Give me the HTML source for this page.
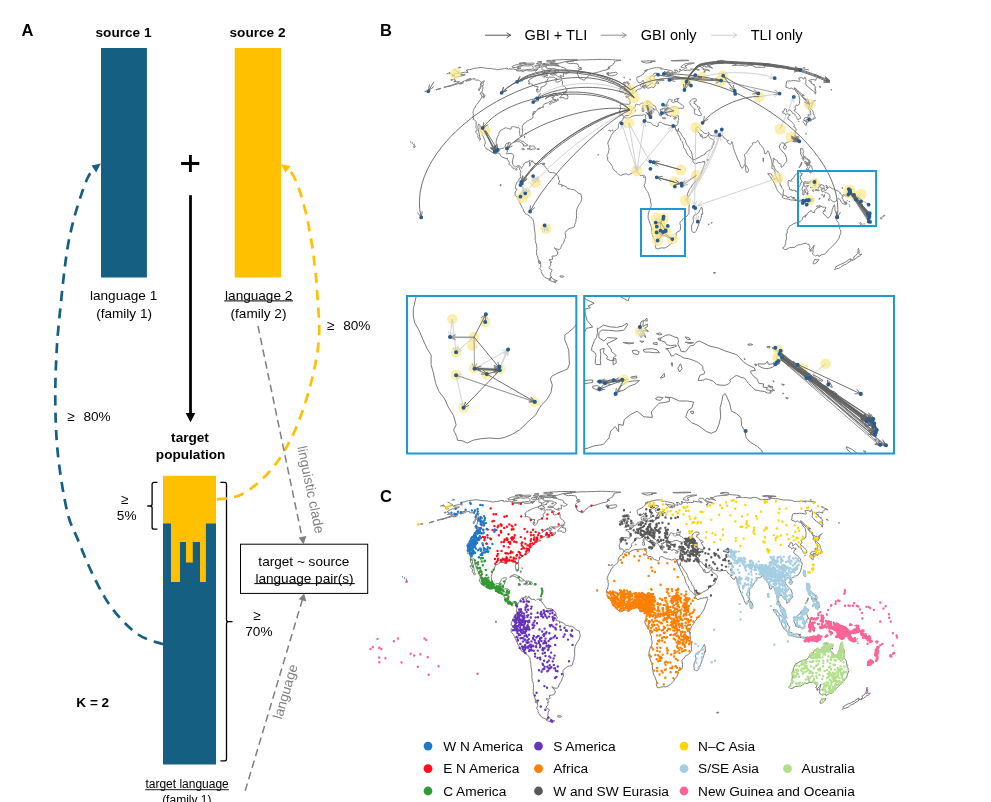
<!DOCTYPE html>
<html lang="en"><head><meta charset="utf-8"><title>Figure</title>
<style>
html,body{margin:0;padding:0;background:#fff}
body{width:991px;height:802px;overflow:hidden;position:relative;font-family:"Liberation Sans",sans-serif;color:#000}
svg{position:absolute;left:0;top:0}
text{font-family:"Liberation Sans",sans-serif;fill:#000}
.b{font-weight:bold}
.m{fill:none;stroke:#787878;stroke-width:1;stroke-linejoin:round;vector-effect:non-scaling-stroke}
.t13{font-size:13.6px}.t12{font-size:12px}.t16{font-size:16.5px}.t14{font-size:14.6px}.t136{font-size:13.7px}.t138{font-size:13.7px}
.mid{text-anchor:middle}
.g{fill:#7f7f7f}
</style></head><body>
<svg width="991" height="802" viewBox="0 0 991 802">
<defs>
<path id="world" d="M-8.1,-70.0 -7.2,-70.2 -6.0,-68.9 -4.0,-69.1 -2.7,-68.7 -0.8,-70.0 1.4,-71.2 4.2,-71.8 6.9,-71.8 9.4,-72.1 10.6,-72.0 12.2,-72.3 13.4,-72.7 14.9,-72.3 14.4,-71.1 14.5,-70.0 15.2,-68.9 14.8,-68.0 13.9,-66.5 15.3,-66.0 17.1,-64.5 18.3,-64.7 19.7,-64.3 21.0,-63.8 21.9,-62.1 23.2,-61.5 24.9,-61.0 26.7,-59.9 28.0,-60.8 28.0,-63.2 29.0,-64.3 30.1,-64.7 31.4,-64.5 32.3,-63.4 33.4,-63.2 35.2,-62.3 38.0,-61.9 40.5,-61.0 41.8,-61.5 43.3,-62.3 45.2,-61.7 45.7,-59.3 46.2,-57.4 48.1,-54.0 49.2,-51.7 50.1,-50.0 51.2,-47.7 51.6,-45.9 53.1,-44.4 53.9,-42.0 54.4,-39.3 54.8,-37.7 55.8,-36.7 56.7,-35.4 57.8,-32.6 58.3,-31.4 59.5,-30.0 61.2,-28.2 62.9,-26.6 63.9,-25.6 64.4,-25.0 64.2,-23.4 64.8,-23.0 66.1,-21.2 67.1,-21.0 68.6,-21.8 70.0,-22.4 71.8,-22.6 73.3,-22.8 74.9,-23.4 76.4,-23.8 76.2,-22.2 76.7,-21.0 75.9,-19.2 75.1,-16.8 74.6,-15.8 73.6,-12.7 72.8,-10.7 71.5,-8.7 70.0,-6.5 68.1,-4.1 66.2,-2.0 65.0,-0.4 63.9,0.8 62.5,3.2 61.5,4.7 60.4,5.7 60.3,6.5 59.6,8.3 58.8,9.7 58.7,10.3 58.2,12.3 58.9,13.8 59.1,16.2 58.8,17.4 59.3,20.2 60.0,20.8 60.5,21.6 60.3,23.8 60.2,26.2 60.3,29.2 60.2,30.6 58.9,32.6 57.3,34.4 55.6,35.2 54.2,36.0 53.2,37.7 51.6,39.3 50.8,39.9 50.7,41.3 51.2,43.0 51.4,44.2 51.2,47.7 50.6,49.0 48.2,50.2 47.0,50.9 46.6,51.7 46.9,53.2 46.4,55.1 45.4,57.0 44.1,58.4 43.6,59.1 42.4,61.2 41.2,62.3 39.5,64.1 38.7,64.9 37.0,66.0 35.4,66.7 34.2,67.1 32.3,66.9 30.5,67.1 28.8,67.4 27.5,68.2 26.6,67.6 25.5,67.4 25.4,66.5 24.8,64.9 25.5,63.6 25.1,61.2 24.1,58.9 23.4,56.7 22.3,55.0 21.7,52.9 21.4,50.4 20.9,47.9 21.0,45.4 20.2,43.6 19.4,41.3 18.6,38.7 17.6,36.5 17.4,34.8 17.4,32.8 17.9,30.6 18.4,28.2 19.2,26.2 20.1,25.0 20.6,22.6 20.6,21.0 19.7,18.8 19.7,17.8 20.1,16.6 19.3,14.6 18.4,12.3 18.3,11.3 17.7,9.7 16.7,7.9 15.9,6.9 14.6,4.9 14.0,3.4 13.1,1.4 14.1,-0.6 14.4,-2.0 14.7,-3.8 14.9,-5.9 14.4,-7.7 13.5,-8.9 12.5,-9.3 10.5,-8.9 9.2,-8.7 8.1,-10.5 6.7,-12.5 5.1,-13.0 3.6,-12.7 1.8,-12.3 0.9,-11.7 -0.3,-11.1 -1.7,-10.3 -3.2,-9.5 -4.5,-10.3 -6.0,-10.7 -7.5,-10.3 -9.0,-9.9 -11.3,-8.9 -11.6,-8.9 -13.5,-10.1 -15.0,-11.7 -16.2,-12.7 -17.2,-14.0 -18.7,-15.0 -19.5,-16.2 -19.9,-17.2 -19.7,-18.4 -20.5,-19.2 -21.8,-21.2 -22.5,-22.2 -24.1,-23.6 -24.8,-24.8 -25.0,-26.2 -24.8,-27.2 -25.5,-29.2 -25.9,-29.6 -25.1,-30.8 -24.4,-32.2 -24.0,-34.2 -23.5,-36.3 -23.7,-38.1 -24.1,-38.9 -23.8,-40.7 -24.9,-41.6 -24.7,-43.2 -23.9,-45.2 -22.9,-47.3 -21.9,-49.0 -21.2,-50.8 -20.7,-51.9 -19.4,-53.2 -18.8,-54.6 -18.3,-55.3 -16.3,-56.3 -14.4,-58.2 -13.6,-59.7 -13.7,-61.2 -13.7,-62.1 -12.9,-63.6 -11.8,-65.4 -10.5,-66.0 -9.4,-66.7 -8.5,-68.9 -8.1,-70.0M73.4,24.2 74.1,26.2 74.4,28.6 74.6,31.0 74.2,32.0 73.4,31.2 73.4,33.2 72.8,35.2 72.5,36.3 71.5,39.1 70.6,41.6 69.6,44.4 68.7,46.9 67.9,49.2 66.9,50.2 65.2,50.8 64.3,50.4 63.2,49.6 62.9,47.5 62.9,45.7 62.9,43.8 63.5,42.2 64.6,40.7 64.9,39.1 64.7,37.3 64.5,35.4 65.5,32.8 66.9,32.2 68.4,31.6 69.5,30.6 70.6,29.6 71.2,27.6 72.3,26.6 72.7,25.0 73.4,24.2M45.9,-59.3 45.6,-61.5 47.3,-61.4 48.0,-62.1 48.5,-63.2 48.6,-64.5 49.0,-66.5 49.4,-67.8 49.0,-69.4 49.2,-71.4 48.3,-71.4 47.0,-71.8 46.2,-70.9 44.8,-70.3 43.5,-71.2 41.7,-72.0 41.4,-70.9 40.3,-70.7 39.6,-71.6 38.4,-71.8 37.2,-72.1 36.9,-73.8 36.1,-74.6 35.4,-74.5 36.0,-75.4 35.7,-76.2 34.9,-76.6 35.1,-77.5 34.9,-77.6 35.6,-78.5 34.3,-78.9 32.3,-79.0 31.6,-78.3 32.4,-77.7 31.5,-77.8 31.2,-77.4 30.4,-78.3 30.1,-77.5 30.8,-76.2 30.7,-75.5 31.7,-74.8 32.4,-74.3 32.4,-73.4 31.9,-73.8 31.0,-73.8 31.7,-73.0 30.8,-73.0 31.4,-71.2 30.6,-71.1 30.0,-72.1 29.5,-71.8 28.8,-73.2 29.2,-74.3 28.5,-74.5 27.8,-75.7 27.0,-76.6 26.7,-77.3 25.8,-78.2 25.6,-79.7 25.1,-81.1 23.7,-82.0 22.6,-82.8 21.4,-83.5 19.7,-84.5 19.1,-86.0 18.5,-86.5 17.9,-85.7 17.5,-86.7 17.7,-87.0 15.8,-86.7 16.1,-85.9 15.9,-85.0 16.4,-84.3 17.6,-83.7 18.6,-81.8 19.7,-80.8 21.3,-80.8 21.0,-80.1 22.4,-79.4 23.9,-78.5 24.6,-77.6 24.5,-77.1 23.8,-78.0 22.9,-78.3 22.2,-76.9 23.0,-75.9 22.2,-74.6 21.7,-73.8 21.1,-73.9 21.3,-75.2 21.7,-75.7 21.4,-76.4 20.8,-77.5 19.6,-78.7 18.8,-78.9 18.0,-79.6 16.6,-79.9 15.5,-81.1 14.6,-81.6 13.7,-82.5 13.4,-83.5 12.7,-84.5 11.5,-85.0 10.6,-84.3 9.5,-83.8 8.6,-83.0 7.7,-82.8 7.0,-83.2 6.0,-83.3 5.1,-83.5 4.0,-82.8 3.9,-82.1 4.3,-81.4 2.9,-79.9 1.6,-79.4 1.1,-78.7 0.0,-77.5 -0.4,-76.6 0.3,-75.2 -0.7,-74.5 -1.4,-73.2 -3.0,-71.6 -4.8,-71.6 -6.0,-71.6 -7.2,-70.5 -7.6,-70.3 -8.6,-71.2 -9.4,-72.5 -10.7,-72.1 -12.2,-72.1 -11.9,-73.9 -12.8,-75.4 -12.6,-76.4 -11.9,-77.6 -11.5,-79.4 -11.7,-81.3 -12.2,-82.5 -10.9,-83.3 -10.0,-84.0 -7.4,-83.7 -4.9,-83.5 -2.6,-83.2 -1.8,-83.7 -1.5,-85.5 -1.4,-87.0 -1.5,-88.0 -2.3,-88.5 -2.8,-89.8 -4.3,-90.5 -5.9,-91.0 -6.0,-91.6 -5.0,-92.1 -3.4,-91.9 -1.9,-91.9 -2.0,-92.9 -2.4,-93.7 -1.6,-93.7 -1.4,-93.1 -0.4,-93.0 0.1,-93.4 1.4,-94.0 2.0,-95.3 2.3,-95.7 3.6,-96.0 4.4,-96.3 4.9,-97.3 5.7,-98.6 6.5,-99.1 7.5,-99.4 8.4,-99.4 9.6,-99.9 10.4,-100.2 10.6,-101.0 10.0,-101.6 9.8,-102.5 9.5,-103.2 9.6,-104.2 10.0,-104.8 11.2,-105.1 11.6,-105.5 12.3,-105.7 12.2,-105.1 12.0,-104.4 12.8,-103.8 12.0,-103.4 11.6,-102.5 11.3,-101.5 12.1,-100.9 13.3,-100.9 13.1,-100.3 14.5,-100.6 14.9,-101.0 16.0,-101.3 16.4,-100.6 17.2,-100.2 18.7,-100.6 20.2,-101.2 20.9,-101.5 21.9,-101.5 22.3,-100.9 23.4,-101.0 23.7,-101.7 24.9,-102.8 24.6,-104.0 25.0,-105.2 26.2,-105.7 27.1,-104.8 28.0,-104.7 28.3,-105.2 28.2,-106.6 27.0,-106.9 26.9,-107.5 27.3,-108.0 28.2,-108.2 29.6,-108.3 31.9,-108.2 32.9,-108.7 34.2,-108.7 32.7,-109.5 32.3,-109.8 30.3,-109.5 28.3,-109.1 26.1,-108.6 25.0,-109.4 24.0,-110.3 24.0,-110.9 23.4,-112.0 23.6,-112.9 25.2,-113.7 26.5,-114.7 27.3,-115.2 27.0,-115.8 25.7,-116.1 23.7,-115.9 23.1,-115.5 23.0,-114.8 22.3,-113.6 20.6,-113.1 19.9,-112.2 19.2,-112.0 19.2,-111.1 19.3,-109.8 20.9,-109.2 21.5,-108.6 20.9,-107.9 20.5,-107.3 19.2,-106.9 19.3,-105.8 19.2,-104.2 18.8,-103.5 18.3,-103.4 17.0,-102.7 16.3,-102.4 15.4,-102.4 15.2,-102.8 14.9,-103.3 14.7,-103.7 15.0,-104.2 13.9,-105.4 13.4,-106.2 12.8,-107.3 12.4,-107.7 12.1,-108.7 11.9,-107.9 11.4,-107.5 10.3,-106.8 9.2,-106.2 8.1,-106.1 6.9,-106.6 6.4,-107.5 5.9,-108.0 5.6,-109.4 5.5,-110.2 5.6,-110.9 5.7,-111.7 6.7,-112.1 8.5,-112.9 10.4,-113.7 11.4,-114.6 12.1,-115.1 13.1,-115.8 13.4,-116.4 13.7,-117.3 15.1,-117.9 16.2,-118.6 16.6,-119.1 17.1,-119.5 18.0,-120.0 19.4,-120.5 20.9,-120.9 22.4,-121.2 24.0,-121.6 26.0,-121.8 27.9,-121.8 29.4,-121.7 31.6,-121.2 30.4,-120.9 30.7,-120.4 32.0,-120.3 33.2,-120.6 34.4,-120.0 36.1,-119.9 38.8,-119.3 41.3,-118.7 43.2,-117.9 43.5,-117.3 42.5,-116.6 41.0,-116.4 39.2,-116.7 36.3,-117.2 34.1,-117.6 35.5,-116.8 37.4,-115.2 37.6,-114.6 39.7,-114.0 41.5,-113.9 40.6,-114.5 39.2,-115.3 40.9,-115.1 43.0,-114.7 43.8,-114.7 42.8,-115.8 44.5,-116.8 47.1,-116.4 46.6,-117.0 46.0,-117.7 45.9,-118.6 44.8,-119.3 47.6,-119.1 48.3,-118.4 47.8,-117.7 49.1,-117.3 50.3,-117.4 50.2,-118.2 52.7,-119.1 54.7,-119.6 56.1,-119.0 55.9,-118.4 57.0,-119.2 59.3,-119.3 61.2,-119.1 62.1,-119.4 62.7,-119.8 61.9,-120.5 63.1,-120.5 66.3,-120.0 68.6,-119.7 70.7,-119.0 71.2,-119.6 68.9,-120.3 67.8,-121.4 67.3,-121.9 68.4,-122.7 68.6,-123.5 70.8,-123.5 72.2,-123.4 73.1,-121.9 74.3,-120.7 76.4,-119.2 76.4,-117.5 75.2,-117.0 76.4,-116.7 77.1,-118.0 77.7,-119.0 79.1,-119.5 81.7,-118.2 81.6,-119.0 78.2,-119.9 75.5,-120.7 74.5,-121.8 74.8,-122.7 76.1,-123.5 77.9,-123.0 77.8,-122.2 79.4,-122.7 80.9,-122.7 83.5,-121.8 84.7,-121.1 84.0,-122.2 81.0,-123.2 79.2,-124.1 82.4,-124.3 84.3,-125.3 86.8,-125.8 91.1,-126.2 93.8,-126.4 96.1,-126.5 98.6,-127.4 101.8,-126.9 105.9,-126.7 109.1,-126.1 109.6,-125.3 107.5,-124.7 105.5,-123.9 107.6,-124.2 110.6,-124.4 111.9,-123.9 113.0,-124.2 116.0,-124.2 118.5,-123.6 121.6,-123.6 121.4,-124.2 124.0,-124.4 127.6,-123.6 129.4,-122.7 129.2,-122.4 131.3,-121.8 132.3,-122.4 134.7,-122.1 136.5,-122.3 138.3,-122.1 139.6,-122.2 139.3,-123.1 139.7,-123.5 141.9,-123.4 145.3,-123.1 148.1,-122.9 150.7,-122.2 153.6,-121.7 156.5,-121.8 161.2,-121.4 163.6,-120.5 165.2,-120.2 166.3,-120.4 168.6,-120.3 171.4,-120.7 174.2,-120.3 175.7,-119.6 174.6,-120.4 174.5,-120.7 176.9,-120.5 180.2,-120.4 185.2,-119.6 186.0,-119.5M-186.0,-119.5 -184.2,-119.1 -183.2,-118.2 -182.1,-117.6 -180.9,-117.1 -180.5,-116.5 -182.3,-115.9 -185.3,-115.2 -186.8,-114.5 -187.8,-114.4 -188.4,-114.8 -188.6,-115.7 -191.1,-115.8 -190.0,-116.7 -193.5,-115.3M193.5,-115.3 192.9,-114.7 191.6,-114.8 192.4,-114.3 195.1,-113.4 198.4,-111.8 195.5,-112.1 194.1,-111.2 193.1,-110.0 193.2,-108.7 189.4,-109.5 187.7,-109.1 187.1,-108.7 185.6,-108.6 186.2,-107.7 188.6,-106.1 188.0,-105.7 191.9,-103.5 190.9,-103.5 192.5,-101.8 193.1,-101.0 191.8,-100.3 193.2,-99.1 191.9,-98.8 193.1,-97.3 192.9,-95.6 190.4,-97.3 186.5,-100.3 183.2,-103.2 181.9,-105.4 182.5,-106.1 182.7,-107.5 182.7,-109.4 181.9,-110.8 181.7,-112.1 181.0,-111.1 180.5,-109.8 178.4,-111.3 176.9,-111.2 174.9,-110.8 176.6,-108.0 176.0,-107.6 174.9,-107.6 171.7,-108.2 169.5,-108.3 166.5,-107.9 163.1,-107.9 162.5,-107.5 162.2,-105.7 161.8,-104.4 161.9,-102.7 161.3,-101.5 164.1,-100.5 165.5,-99.7 167.3,-100.6 169.2,-99.3 170.6,-99.3 170.8,-98.8 172.1,-97.6 172.5,-96.5 174.3,-94.2 175.4,-92.6 175.8,-90.1 176.2,-88.2 175.9,-86.0 175.9,-84.3 174.6,-82.5 173.9,-82.3 172.3,-82.8 171.9,-82.0 171.6,-81.4 171.0,-80.6 171.9,-79.0 171.3,-77.5 170.3,-77.1 170.8,-76.1 172.6,-75.0 174.1,-73.6 175.6,-72.1 176.7,-70.3 177.1,-69.4 177.0,-68.7 175.8,-68.2 175.5,-68.0 174.2,-67.3 173.5,-68.2 173.0,-69.6 172.8,-70.3 171.3,-71.8 171.4,-72.9 170.4,-73.4 169.6,-73.9 168.4,-74.1 168.2,-75.2 167.5,-76.4 165.8,-77.5 164.3,-76.8 163.2,-75.5 162.7,-75.2 162.6,-76.6 162.1,-78.3 160.4,-78.9 159.8,-77.3 159.4,-76.1 158.0,-75.7 158.3,-74.6 160.4,-73.9 161.1,-73.4 161.3,-72.5 162.4,-72.5 163.0,-73.6 164.2,-73.2 165.8,-72.9 166.2,-72.0 164.6,-71.4 164.1,-70.5 163.6,-68.7 163.7,-68.2 165.9,-66.7 167.6,-64.9 169.7,-63.0 170.1,-62.5 170.7,-61.2 169.7,-60.0 171.5,-59.1 172.1,-57.8 172.3,-56.1 171.6,-55.3 171.4,-53.6 171.1,-52.1 170.7,-50.2 170.0,-48.8 168.7,-46.5 166.9,-45.4 165.6,-44.6 164.6,-44.4 162.7,-43.4 161.4,-42.8 160.6,-42.4 160.9,-40.7 160.1,-40.9 159.6,-42.8 158.6,-43.0 157.4,-43.2 155.8,-41.8 155.5,-40.7 154.7,-39.7 155.1,-37.5 156.5,-35.8 158.6,-33.4 159.8,-32.4 161.0,-30.8 162.1,-27.8 162.5,-26.0 162.5,-24.0 162.3,-23.2 161.1,-22.0 159.8,-20.8 159.4,-19.2 158.4,-18.6 156.7,-17.4 156.6,-19.2 156.9,-20.2 155.9,-21.0 154.4,-21.4 153.4,-22.8 152.7,-24.2 151.8,-25.2 150.6,-25.4 150.0,-25.4 149.9,-26.2 149.1,-27.2 148.4,-26.8 148.6,-25.4 148.6,-23.8 148.0,-21.2 148.4,-18.6 149.3,-18.8 149.7,-17.0 150.7,-14.6 151.8,-14.0 152.6,-13.0 153.2,-12.5 154.7,-10.7 155.3,-7.7 155.5,-5.5 156.7,-2.8 156.1,-2.6 155.6,-2.6 153.6,-4.5 152.2,-6.1 151.2,-8.3 150.5,-10.9 150.4,-12.3 149.9,-13.4 149.0,-15.0 148.0,-16.2 147.1,-16.0 147.0,-17.8 147.2,-20.2 147.0,-22.2 146.6,-25.0 145.4,-28.2 144.6,-30.6 143.9,-33.2 142.5,-34.8 141.9,-33.2 140.9,-31.8 139.6,-32.0 139.2,-32.2 139.0,-34.8 138.3,-37.1 137.1,-38.9 135.6,-40.3 134.4,-41.8 133.8,-42.8 133.1,-44.6 132.3,-45.5 131.5,-45.0 131.0,-44.0 130.0,-43.6 129.2,-43.2 128.0,-43.2 126.5,-42.8 126.6,-41.5 126.5,-40.7 125.4,-39.7 124.3,-38.5 122.4,-35.6 121.2,-34.0 121.3,-33.4 120.5,-32.8 119.8,-32.6 119.4,-31.8 118.4,-30.8 118.6,-29.0 119.2,-26.4 118.8,-24.0 119.1,-21.8 119.2,-20.8 118.3,-20.8 117.8,-19.6 118.2,-18.8 116.9,-17.8 116.0,-16.4 115.0,-17.2 113.7,-20.2 112.9,-22.8 111.1,-26.0 109.7,-29.8 109.1,-31.0 107.9,-34.2 106.6,-38.1 106.2,-40.9 105.8,-42.2 105.1,-44.4 104.8,-43.6 104.1,-41.8 103.5,-41.5 102.5,-41.8 101.1,-43.2 100.1,-44.4 100.1,-45.0 101.7,-45.7 100.4,-45.5 99.1,-46.5 98.4,-47.3 97.1,-47.9 96.3,-49.4 95.5,-50.6 92.7,-50.2 91.1,-50.4 89.4,-50.0 88.6,-50.0 86.9,-50.4 84.7,-50.6 82.8,-50.9 81.3,-53.0 81.0,-53.8 80.1,-54.0 79.3,-53.2 78.3,-52.9 76.2,-53.0 74.8,-54.6 74.0,-55.1 71.8,-57.2 70.6,-59.1 69.7,-59.5 68.8,-60.0 68.4,-59.1 67.7,-58.2 68.5,-56.5 69.4,-54.8 70.8,-53.6 71.7,-52.5 71.9,-51.1 73.0,-49.4 72.8,-50.8 73.2,-51.9 73.9,-50.9 74.2,-49.0 73.9,-48.4 75.6,-48.3 78.3,-48.8 79.3,-50.4 80.2,-51.3 80.6,-52.5 80.8,-50.9 81.0,-50.0 81.6,-48.6 83.2,-47.5 84.6,-47.1 86.6,-45.0 86.2,-42.8 85.5,-40.9 84.3,-39.5 84.5,-37.9 82.7,-36.0 81.2,-35.2 79.6,-34.2 78.1,-33.4 77.1,-31.4 75.4,-30.4 72.7,-29.2 71.2,-28.2 69.0,-27.0 66.9,-25.8 64.6,-25.6 64.1,-26.8 63.5,-29.8 63.2,-31.6 62.6,-34.0 60.9,-36.1 60.2,-38.3 58.4,-40.5 57.0,-43.0 56.4,-45.5 54.9,-48.1 53.4,-49.8 52.2,-52.1 50.8,-54.2 49.7,-55.5 49.1,-55.7 49.3,-58.4 49.0,-57.4 48.8,-56.5 48.7,-55.1 47.6,-55.9 47.0,-56.7 46.1,-58.5 45.9,-59.3M38.4,-79.6 36.9,-80.8 36.5,-82.1 36.1,-81.8 36.4,-83.0 37.2,-83.5 37.1,-84.7 38.1,-86.0 38.2,-86.5 38.7,-87.4 39.1,-88.5 40.1,-88.7 40.8,-88.2 42.2,-87.9 43.0,-87.9 41.8,-86.7 43.2,-85.4 43.7,-85.0 45.2,-86.0 46.8,-86.4 47.0,-86.7 45.7,-86.5 44.9,-87.2 44.8,-88.2 46.5,-88.8 47.6,-89.4 48.6,-89.5 49.7,-89.7 49.1,-88.8 48.1,-88.7 48.8,-87.9 48.1,-86.5 47.1,-86.4 48.1,-86.0 48.8,-85.5 50.6,-84.5 51.7,-83.7 52.6,-82.8 53.6,-82.5 54.6,-81.6 54.9,-80.2 54.2,-79.6 53.0,-79.2 51.6,-79.4 50.3,-79.2 48.9,-79.6 48.0,-79.7 46.3,-80.9 44.7,-80.8 43.8,-80.9 42.2,-80.2 41.4,-79.4 39.7,-79.4 38.4,-79.6M67.0,-73.0 68.1,-72.9 70.0,-71.8 71.4,-71.6 73.2,-72.0 73.1,-72.9 72.4,-74.8 71.3,-76.2 71.4,-76.9 70.4,-77.5 70.3,-78.7 71.6,-78.9 72.3,-79.6 70.3,-81.1 69.4,-80.2 68.8,-82.0 67.6,-83.0 66.5,-84.0 65.1,-84.8 66.2,-85.4 65.6,-86.4 67.7,-86.7 68.0,-88.0 67.4,-89.2 66.0,-89.3 64.8,-89.3 63.4,-88.7 62.6,-88.0 61.9,-87.4 61.1,-86.0 60.5,-85.4 61.6,-84.0 62.1,-82.6 63.5,-80.9 64.6,-79.9 65.7,-78.5 66.9,-78.2 65.9,-77.8 65.9,-76.1 65.8,-74.6 66.2,-73.4 67.0,-73.0M35.5,-78.2 36.4,-79.0 38.3,-79.2 39.1,-78.8 38.5,-78.2 37.0,-78.2 35.5,-78.2M-157.5,-122.0 -154.6,-121.7 -152.8,-121.3 -151.1,-121.1 -148.7,-121.0 -146.4,-120.9 -144.5,-120.3 -142.4,-120.3 -141.3,-119.7 -139.6,-119.8 -137.8,-120.3 -136.6,-120.1 -133.0,-120.9 -129.8,-121.4 -129.9,-120.3 -128.7,-120.1 -127.0,-121.0 -126.8,-120.1 -123.7,-120.5 -120.8,-119.6 -120.2,-118.4 -117.0,-118.4 -114.3,-118.5 -114.1,-117.4 -112.2,-118.5 -109.6,-119.5 -108.9,-118.6 -106.5,-118.4 -103.4,-118.4 -101.4,-119.2 -100.7,-118.0 -99.0,-119.2 -98.8,-120.2 -97.4,-121.5 -94.5,-122.7 -93.7,-121.9 -93.7,-121.0 -93.8,-120.0 -93.3,-119.2 -91.3,-119.4 -91.4,-117.9 -89.6,-118.6 -88.0,-119.7 -86.9,-120.5 -84.2,-120.5 -83.7,-119.9 -84.5,-119.2 -86.5,-118.1 -85.7,-117.5 -88.6,-116.7 -90.2,-116.7 -91.4,-117.0 -91.9,-116.0 -93.3,-115.5 -95.0,-114.6 -97.3,-114.0 -99.2,-113.2 -101.3,-112.5 -102.6,-111.7 -105.3,-110.3 -107.4,-108.8 -108.1,-107.5 -106.7,-107.1 -107.9,-104.7 -105.8,-105.1 -103.9,-104.5 -103.1,-103.2 -100.8,-102.2 -97.7,-101.9 -98.5,-100.3 -99.6,-98.6 -99.3,-97.6 -98.8,-96.2 -97.2,-96.3 -95.7,-98.0 -94.8,-100.0 -95.0,-101.2 -92.2,-102.2 -89.9,-103.7 -89.1,-105.0 -89.8,-106.8 -89.4,-107.7 -87.6,-108.8 -87.9,-109.9 -86.6,-111.1 -86.1,-112.0 -83.8,-111.7 -81.5,-112.0 -80.1,-110.9 -78.0,-110.3 -78.8,-108.8 -79.4,-107.5 -78.4,-106.4 -75.7,-107.2 -74.0,-108.2 -72.7,-109.4 -72.9,-108.2 -72.3,-107.1 -72.3,-104.0 -71.2,-102.5 -70.0,-101.9 -68.7,-100.6 -68.5,-99.9 -67.5,-98.8 -67.7,-97.7 -70.0,-96.3 -72.0,-96.0 -74.2,-94.6 -76.5,-94.5 -78.8,-94.5 -82.2,-94.5 -84.1,-93.0 -85.1,-92.9 -87.8,-91.1 -90.6,-89.0 -87.7,-90.6 -86.1,-91.6 -84.5,-92.2 -81.8,-92.9 -80.4,-92.2 -80.6,-91.8 -82.5,-91.0 -83.6,-91.1 -82.9,-90.3 -81.7,-90.6 -82.5,-89.5 -82.3,-88.2 -81.6,-87.9 -80.4,-87.2 -79.3,-87.5 -78.8,-87.0 -78.6,-87.9 -77.7,-88.7 -76.8,-89.3 -76.8,-88.7 -76.9,-88.0 -76.5,-87.7 -78.0,-87.0 -78.4,-86.5 -79.9,-86.0 -82.2,-85.4 -83.7,-84.3 -85.5,-83.3 -85.9,-84.0 -85.0,-85.4 -82.8,-86.5 -83.1,-87.0 -85.0,-86.5 -86.3,-86.2 -86.9,-85.4 -88.3,-84.8 -89.5,-84.5 -91.4,-83.7 -92.3,-82.8 -92.5,-82.1 -93.2,-81.4 -92.9,-80.8 -92.3,-80.4 -92.3,-81.1 -92.2,-80.4 -93.2,-80.1 -94.1,-80.1 -95.0,-79.7 -96.4,-79.7 -97.7,-79.0 -98.2,-78.5 -98.4,-78.2 -99.5,-76.4 -100.5,-75.5 -100.9,-76.4 -100.8,-75.4 -101.1,-74.5 -102.3,-73.0 -103.1,-72.3 -102.5,-73.9 -102.0,-76.2 -103.0,-74.5 -103.5,-72.1 -103.2,-72.0 -103.3,-70.7 -103.5,-68.9 -105.2,-67.8 -106.7,-67.3 -107.6,-66.5 -109.0,-66.2 -109.7,-65.2 -110.9,-64.3 -112.9,-63.0 -114.0,-61.2 -114.3,-59.9 -114.4,-59.1 -114.3,-57.8 -114.2,-56.3 -114.2,-54.6 -114.1,-53.0 -114.7,-51.3 -115.4,-50.2 -116.4,-50.0 -117.0,-51.7 -117.0,-52.9 -117.5,-54.4 -117.4,-55.9 -116.9,-57.0 -117.2,-57.6 -117.8,-59.1 -118.4,-59.5 -119.7,-58.7 -120.3,-58.7 -120.5,-59.5 -122.5,-59.9 -123.6,-59.9 -124.8,-60.0 -125.9,-59.7 -125.9,-58.9 -126.0,-57.6 -127.1,-57.6 -128.4,-57.6 -128.9,-58.2 -130.1,-58.4 -131.3,-58.9 -132.2,-58.7 -133.8,-58.0 -134.7,-57.2 -136.2,-56.5 -138.0,-55.1 -138.9,-53.2 -139.0,-51.7 -140.1,-49.8 -141.0,-47.5 -141.8,-44.6 -141.6,-42.0 -141.5,-40.9 -140.6,-38.5 -140.4,-37.7 -138.5,-36.5 -137.1,-36.9 -135.8,-37.3 -134.6,-37.3 -133.6,-38.1 -132.7,-38.9 -132.2,-39.7 -131.6,-41.8 -130.5,-42.6 -128.2,-43.2 -126.6,-43.2 -126.3,-42.4 -127.5,-40.5 -128.0,-38.7 -128.8,-36.7 -129.7,-35.2 -130.2,-33.2 -131.0,-32.2 -130.8,-31.6 -129.8,-31.8 -128.2,-31.8 -126.9,-32.0 -125.1,-31.8 -123.1,-30.2 -123.6,-28.2 -124.2,-26.0 -124.5,-24.2 -124.8,-22.0 -123.9,-20.2 -123.1,-19.0 -122.4,-18.2 -121.4,-17.8 -120.6,-18.2 -119.4,-19.0 -118.9,-19.4 -117.9,-19.2 -116.4,-18.2 -115.8,-17.4 -115.1,-16.2 -114.9,-17.4 -114.1,-18.0 -113.1,-19.2 -112.6,-21.0 -111.5,-22.4 -110.5,-22.8 -108.6,-23.2 -106.6,-25.0 -105.9,-24.2 -107.1,-23.4 -106.7,-22.0 -106.4,-20.6 -107.0,-18.8 -106.1,-19.0 -106.3,-21.4 -105.8,-22.2 -104.6,-23.0 -104.4,-24.4 -103.8,-24.4 -103.8,-23.2 -102.2,-22.8 -101.4,-21.2 -99.8,-21.4 -98.6,-21.4 -97.3,-20.4 -96.6,-20.4 -95.8,-21.2 -94.7,-21.5 -93.2,-21.6 -92.3,-21.6 -93.4,-20.6 -92.0,-20.0 -91.0,-19.0 -89.7,-17.2 -87.8,-15.0 -87.2,-13.8 -85.8,-12.1 -82.8,-11.9 -81.0,-11.7 -78.5,-9.9 -77.5,-8.7 -76.8,-7.9 -76.2,-4.5 -75.2,-3.4 -75.6,-2.0 -76.7,0.0 -75.8,0.2 -74.4,0.4 -72.8,0.6 -72.9,2.8 -72.0,1.4 -70.1,2.0 -68.1,3.0 -66.6,5.1 -65.2,4.9 -62.8,5.9 -60.9,5.7 -59.4,6.5 -57.8,7.5 -56.0,9.5 -54.0,10.3 -53.1,10.3 -52.8,11.7 -52.1,14.4 -52.2,16.4 -53.3,19.6 -55.2,22.0 -55.8,23.2 -57.2,26.2 -57.7,29.8 -57.6,33.0 -57.6,35.6 -58.2,37.3 -58.2,39.3 -58.8,40.7 -59.5,42.6 -59.5,44.0 -60.8,45.7 -62.5,45.9 -64.5,46.3 -66.7,47.9 -68.3,49.2 -69.5,50.8 -69.4,52.7 -68.9,54.8 -69.0,56.5 -70.1,58.0 -70.6,60.2 -71.5,62.1 -72.6,63.2 -73.8,66.2 -74.1,67.4 -75.3,68.4 -77.2,68.4 -79.5,67.6 -80.6,66.7 -80.3,67.8 -78.4,69.1 -78.2,70.3 -77.2,71.1 -77.6,73.9 -78.9,75.0 -81.2,75.5 -83.3,75.5 -82.8,77.5 -82.6,78.9 -84.4,79.4 -86.1,78.9 -85.9,80.1 -84.1,81.3 -83.3,82.0 -84.1,82.5 -85.1,82.3 -84.8,83.2 -84.5,85.2 -84.8,85.7 -85.6,86.2 -86.4,87.5 -86.0,88.5 -84.4,89.3 -83.4,89.7 -83.2,90.6 -84.4,92.6 -84.4,93.0 -84.6,94.3 -84.9,95.7 -84.5,96.7 -83.2,97.7 -84.6,97.7 -85.8,98.5 -85.2,99.9 -85.9,100.0 -87.4,99.4 -89.0,98.6 -90.7,97.9 -91.9,96.5 -93.5,94.2 -94.8,91.8 -94.0,91.0 -96.2,88.8 -95.5,87.4 -94.9,86.0 -95.1,84.3 -95.1,82.6 -95.5,81.3 -96.4,80.1 -97.2,80.2 -97.9,78.3 -97.9,77.1 -98.9,74.8 -99.6,73.2 -99.3,71.8 -99.5,70.0 -99.2,69.1 -99.1,67.4 -99.3,64.9 -99.6,63.0 -100.6,60.4 -100.4,59.2 -101.0,57.4 -100.8,56.5 -100.8,53.8 -100.9,52.3 -101.1,50.6 -101.6,47.1 -101.9,46.1 -101.8,44.2 -102.4,40.5 -103.1,37.1 -104.9,35.4 -106.0,34.2 -107.1,33.4 -109.2,32.0 -111.1,31.0 -113.1,28.0 -113.1,27.0 -114.0,25.4 -114.8,24.3 -115.6,22.4 -116.6,20.4 -117.5,18.4 -118.3,16.4 -119.2,15.0 -119.7,13.8 -121.0,12.5 -121.6,11.9 -121.7,10.5 -122.1,9.5 -121.6,8.3 -120.9,7.1 -120.2,6.5 -120.1,5.1 -120.8,5.3 -121.8,4.5 -121.5,2.6 -121.3,1.9 -121.0,0.8 -120.4,0.0 -120.3,-1.6 -119.8,-2.0 -118.6,-2.8 -118.5,-3.6 -117.8,-5.1 -116.8,-5.5 -116.0,-7.7 -116.4,-9.1 -116.4,-11.1 -115.9,-12.1 -116.1,-13.8 -116.7,-14.6 -117.2,-15.4 -117.0,-16.8 -117.4,-17.2 -118.1,-18.0 -118.8,-18.1 -119.3,-17.4 -120.1,-16.8 -120.3,-16.0 -119.8,-15.2 -120.6,-14.6 -121.2,-14.6 -121.4,-15.6 -122.3,-16.2 -123.3,-16.8 -124.1,-16.2 -124.6,-17.0 -125.2,-17.2 -125.1,-18.2 -125.8,-19.0 -126.5,-19.6 -127.1,-19.4 -127.9,-20.2 -128.1,-21.0 -127.8,-22.0 -128.0,-22.7 -128.9,-24.2 -129.6,-25.2 -130.3,-26.0 -129.7,-26.8 -130.5,-26.6 -131.4,-26.6 -133.2,-27.4 -134.6,-28.0 -136.1,-28.8 -136.7,-29.2 -137.8,-31.2 -138.6,-32.2 -139.7,-32.6 -140.4,-32.6 -142.5,-31.5 -143.3,-31.9 -145.3,-32.8 -147.1,-33.9 -149.3,-35.4 -150.1,-36.1 -151.9,-36.7 -152.7,-38.2 -153.5,-39.1 -154.2,-40.9 -153.4,-41.5 -153.0,-43.0 -153.2,-44.8 -153.8,-46.3 -154.8,-48.4 -155.1,-49.6 -156.3,-50.9 -156.1,-53.0 -157.0,-54.0 -157.4,-55.3 -158.1,-56.3 -158.5,-57.4 -158.6,-59.1 -158.5,-60.8 -158.7,-61.7 -160.1,-62.7 -160.7,-61.2 -160.9,-59.3 -160.4,-57.2 -160.0,-55.5 -159.8,-54.2 -159.6,-53.4 -159.2,-51.7 -159.0,-49.6 -159.0,-48.3 -158.2,-48.1 -158.0,-46.7 -159.0,-45.7 -159.2,-46.7 -160.5,-48.6 -161.1,-49.2 -160.7,-50.9 -161.2,-52.1 -162.0,-53.0 -162.8,-53.8 -163.4,-55.2 -161.9,-55.5 -161.6,-56.8 -162.2,-58.2 -162.9,-59.3 -162.9,-60.0 -162.6,-62.7 -162.8,-63.9 -162.5,-65.2 -163.2,-66.3 -163.9,-66.7 -164.8,-67.4 -165.8,-67.5 -165.4,-68.7 -165.8,-70.2 -165.9,-71.4 -165.6,-72.1 -165.5,-73.6 -165.9,-73.9 -165.9,-75.6 -165.2,-77.1 -165.4,-78.2 -164.7,-78.9 -163.7,-80.5 -162.9,-82.4 -162.0,-83.3 -160.3,-85.4 -158.4,-88.1 -157.7,-89.2 -156.7,-91.6 -155.4,-91.1 -154.6,-90.8 -155.1,-89.8 -154.2,-91.0 -153.5,-92.2 -153.6,-93.0 -154.3,-93.4 -154.6,-93.9 -154.9,-94.6 -156.0,-95.3 -157.0,-96.0 -156.0,-97.6 -156.0,-98.8 -155.8,-99.7 -155.8,-100.7 -155.2,-101.5 -155.9,-102.2 -155.1,-104.0 -155.3,-105.1 -154.8,-106.5 -154.1,-108.1 -156.4,-106.8 -157.5,-106.4 -158.0,-107.3 -159.0,-108.2 -160.3,-108.8 -163.1,-108.8 -164.2,-109.5 -163.9,-110.3 -166.2,-110.0 -167.1,-109.9 -167.8,-109.0 -169.2,-108.8 -171.5,-108.0 -173.3,-107.7 -172.3,-108.3 -170.5,-109.6 -167.9,-110.4 -170.3,-109.9 -172.4,-109.1 -174.7,-108.0 -176.2,-107.5 -175.6,-107.3 -178.1,-106.2 -180.5,-105.4 -182.5,-104.7 -186.0,-103.7 -188.9,-102.8 -190.1,-102.3 -192.7,-101.9 -194.4,-101.6 -196.5,-101.2 -194.2,-101.9 -192.4,-102.4 -189.7,-103.1 -188.9,-103.2 -185.8,-104.4 -185.1,-104.6 -182.9,-105.5 -181.5,-106.4 -180.1,-107.1 -180.5,-107.3 -181.7,-107.2 -182.9,-106.6 -183.5,-107.5 -186.2,-107.0 -184.9,-107.6 -183.9,-108.7 -185.4,-108.7 -185.4,-109.5 -186.1,-109.6 -185.3,-110.8 -182.8,-112.1 -181.1,-112.7 -179.1,-112.9 -177.1,-113.4 -175.0,-113.9 -174.0,-114.7 -176.3,-114.5 -178.9,-114.6 -179.7,-114.8 -179.7,-115.9 -176.4,-116.7 -174.0,-117.1 -173.3,-117.1 -172.3,-116.5 -171.0,-117.0 -171.5,-117.4 -172.4,-117.6 -171.4,-118.2 -173.2,-119.0 -171.6,-119.6 -169.1,-119.7 -166.8,-120.5 -164.7,-121.1 -162.2,-121.4 -159.7,-121.7 -157.5,-122.0M-83.2,98.3 -82.4,99.3 -81.3,100.0 -79.4,100.9 -77.7,101.3 -79.0,101.8 -81.2,101.6 -81.1,102.5 -79.3,103.1 -82.3,102.2 -85.3,101.2 -86.2,100.6 -85.0,100.3 -84.5,99.6 -85.3,98.5 -84.3,98.0 -83.2,98.3M-96.8,80.6 -96.2,81.8 -95.9,83.3 -97.0,83.2 -97.4,81.4 -97.5,80.6 -96.8,80.6M-75.0,96.3 -73.6,96.2 -72.3,96.2 -70.7,96.7 -71.3,97.4 -72.4,97.7 -73.7,97.6 -74.7,97.1 -75.0,96.3M-158.2,-95.4 -157.0,-95.6 -155.8,-94.8 -155.3,-94.2 -155.4,-93.4 -154.7,-92.9 -155.0,-91.6 -156.3,-91.8 -156.8,-92.2 -157.2,-93.0 -157.5,-93.8 -158.5,-94.3 -158.2,-95.4M-159.2,-100.6 -157.9,-100.3 -159.0,-99.3 -159.5,-97.6 -160.1,-98.0 -160.1,-99.1 -159.2,-100.6M-156.8,-103.7 -156.2,-103.2 -156.6,-102.2 -157.3,-101.3 -158.5,-101.5 -157.7,-103.1 -156.8,-103.7M-157.4,-106.2 -156.1,-105.9 -157.0,-104.7 -158.3,-103.5 -158.0,-104.7 -157.4,-106.2M-179.3,-105.5 -176.9,-106.2 -176.0,-105.9 -177.0,-105.2 -179.0,-104.7 -180.3,-104.7 -179.3,-105.5M-98.2,-78.5 -97.0,-79.0 -95.7,-79.4 -95.2,-79.3 -96.3,-78.9 -97.7,-78.5 -98.2,-78.5M-68.1,-96.7 -68.8,-95.6 -70.6,-93.8 -69.1,-94.2 -68.9,-93.4 -66.8,-93.4 -67.1,-92.1 -66.5,-91.9 -66.6,-90.3 -67.6,-88.8 -68.1,-89.5 -69.1,-89.0 -70.2,-89.2 -70.8,-89.8 -70.7,-90.5 -72.7,-90.3 -75.0,-90.3 -74.6,-91.0 -73.0,-92.6 -71.8,-94.2 -70.2,-95.7 -68.1,-96.7M-80.1,-94.0 -78.3,-93.8 -77.1,-92.7 -78.4,-92.8 -80.0,-93.5 -80.1,-94.0M-81.8,-89.2 -80.9,-88.5 -79.1,-88.4 -80.0,-87.7 -81.1,-88.0 -81.8,-89.2M-123.3,-43.7 -122.2,-44.8 -120.3,-45.8 -119.1,-46.2 -117.4,-46.2 -116.2,-45.7 -114.9,-44.8 -113.5,-44.6 -112.3,-43.4 -110.9,-42.4 -110.0,-41.6 -108.3,-40.6 -108.5,-40.2 -110.3,-39.9 -112.5,-39.9 -113.5,-39.8 -112.6,-41.1 -113.8,-41.5 -114.5,-43.0 -116.1,-43.4 -116.8,-44.0 -118.6,-44.4 -119.9,-45.3 -121.2,-44.4 -122.4,-43.8 -123.3,-43.7M-109.2,-36.8 -107.7,-36.5 -106.3,-36.5 -105.4,-35.7 -104.2,-36.5 -102.7,-36.7 -100.8,-36.5 -100.2,-37.3 -101.0,-38.5 -102.2,-39.4 -103.7,-39.8 -104.8,-39.6 -106.3,-40.0 -107.2,-39.7 -106.5,-38.7 -106.1,-37.3 -107.8,-37.2 -109.2,-36.8M-115.0,-36.7 -114.1,-37.1 -112.8,-36.9 -111.9,-36.1 -112.8,-35.9 -114.0,-35.9 -115.0,-36.7M-98.6,-36.9 -96.8,-37.0 -96.3,-36.6 -96.9,-36.1 -98.7,-36.1 -98.6,-36.9M-92.3,-21.6 -90.9,-21.9 -91.0,-20.4 -92.4,-20.3 -91.7,-21.0 -92.3,-21.6M-112.2,-50.2 -112.0,-48.4 -111.8,-48.3 -111.9,-50.2 -112.2,-50.2M-111.1,-53.2 -110.1,-52.7 -110.0,-52.3 -111.0,-52.9 -111.1,-53.2M-137.6,0.6 -136.7,0.6 -136.7,2.0 -137.6,1.8 -137.6,0.6M-49.8,-108.6 -51.7,-109.8 -53.9,-110.4 -55.2,-111.5 -55.5,-112.7 -56.1,-114.2 -56.7,-115.7 -56.6,-117.4 -55.6,-118.6 -54.7,-119.4 -52.5,-119.9 -52.0,-120.6 -55.0,-120.0 -55.9,-120.7 -55.2,-121.5 -52.5,-121.8 -54.3,-122.1 -55.5,-122.7 -55.6,-123.5 -55.8,-124.5 -56.4,-125.7 -58.6,-126.1 -60.9,-126.3 -63.9,-126.1 -65.8,-126.5 -67.4,-127.1 -68.5,-127.8 -65.5,-128.2 -60.4,-128.7 -61.0,-129.1 -57.0,-129.5 -53.0,-129.9 -45.6,-130.1 -41.0,-130.2 -36.3,-130.4 -30.3,-130.5 -25.4,-130.4 -21.0,-130.2 -16.5,-129.9 -11.0,-129.6 -13.9,-129.1 -16.7,-128.8 -17.3,-128.2 -18.4,-127.6 -17.6,-126.9 -19.2,-126.1 -18.9,-125.3 -20.1,-124.5 -21.7,-123.9 -22.4,-122.9 -24.6,-122.2 -22.3,-121.3 -24.9,-121.0 -24.1,-120.4 -26.9,-119.3 -30.2,-118.7 -33.7,-117.5 -36.0,-116.8 -40.2,-115.9 -43.0,-115.2 -44.0,-114.0 -45.6,-112.7 -47.3,-111.2 -48.4,-109.6 -49.8,-108.6M-24.7,-113.7 -22.9,-113.7 -20.8,-113.2 -18.0,-113.7 -16.5,-114.3 -15.1,-115.1 -14.6,-115.7 -15.5,-116.4 -15.5,-116.8 -16.9,-117.0 -18.6,-116.5 -19.5,-116.5 -21.6,-116.5 -21.8,-115.9 -23.0,-115.8 -23.8,-116.9 -25.3,-116.5 -26.2,-115.8 -24.1,-115.7 -23.7,-115.2 -25.9,-115.1 -23.8,-114.6 -23.9,-114.2 -24.7,-113.7M-7.1,-94.2 -5.2,-96.0 -3.7,-96.0 -3.3,-96.7 -3.9,-96.4 -4.9,-96.7 -6.5,-97.1 -5.0,-98.0 -5.0,-98.6 -5.7,-98.5 -5.5,-99.4 -3.7,-99.4 -3.5,-100.5 -4.3,-101.0 -3.7,-101.7 -5.8,-101.3 -6.1,-101.8 -5.6,-102.5 -5.8,-103.1 -6.9,-102.2 -6.6,-103.4 -6.5,-103.8 -7.3,-104.2 -6.8,-104.7 -6.7,-105.5 -5.7,-106.9 -4.0,-106.9 -3.4,-107.0 -3.6,-106.6 -4.6,-105.9 -4.9,-105.4 -2.3,-105.7 -2.1,-105.4 -2.4,-104.9 -3.1,-103.7 -3.8,-103.2 -2.5,-103.1 -1.7,-101.8 -0.7,-101.0 -0.1,-100.5 0.1,-99.7 0.4,-99.0 0.2,-98.6 1.6,-98.7 2.1,-98.0 1.6,-97.2 0.9,-96.5 1.7,-96.3 1.7,-95.9 1.2,-95.6 0.3,-95.3 -1.4,-95.4 -2.5,-95.3 -3.0,-95.0 -4.2,-95.1 -4.5,-94.5 -5.1,-94.7 -6.5,-94.1 -7.1,-94.2M-8.8,-102.4 -7.3,-102.1 -6.8,-101.3 -6.6,-100.9 -7.4,-100.3 -7.4,-99.3 -7.3,-98.7 -7.7,-97.6 -8.5,-97.4 -10.0,-97.0 -12.0,-96.4 -12.8,-97.4 -11.8,-98.2 -10.9,-99.1 -12.2,-99.4 -12.2,-100.3 -10.3,-100.7 -10.4,-101.3 -9.8,-102.0 -8.8,-102.4M16.7,-73.9 17.9,-74.3 21.0,-74.5 20.4,-73.0 20.5,-71.6 19.4,-72.1 17.2,-73.2 16.7,-73.9M10.9,-79.0 12.2,-79.6 13.0,-78.3 12.9,-76.1 12.1,-75.7 11.3,-76.1 11.2,-78.0 10.9,-79.0M11.3,-81.6 12.3,-82.6 12.6,-81.1 12.2,-79.9 11.5,-80.8 11.3,-81.6M32.2,-69.4 33.5,-69.4 35.2,-69.2 36.0,-69.0 35.8,-68.5 33.9,-68.4 32.2,-69.0 32.2,-69.4M44.3,-68.7 45.2,-69.3 47.2,-69.8 46.6,-68.5 45.4,-67.8 44.5,-68.1 44.3,-68.7M30.8,-75.7 32.1,-75.2 33.2,-73.9 32.8,-73.9 31.6,-74.8 30.8,-75.7M3.2,-76.8 4.1,-77.4 4.6,-76.9 4.1,-76.2 3.2,-76.8M13.1,-102.8 14.1,-103.4 14.9,-102.8 14.5,-102.1 14.0,-101.8 13.3,-102.1 13.1,-102.8M11.6,-102.5 12.5,-102.7 12.8,-101.9 12.0,-101.9 11.6,-102.5M21.0,-105.1 21.9,-105.9 22.1,-105.8 21.8,-105.0 21.4,-104.6 21.0,-105.1M19.3,-103.7 19.8,-105.1 19.8,-104.2 19.3,-103.7M25.2,-106.5 25.8,-106.9 26.7,-106.8 26.3,-106.4 25.4,-106.1 25.2,-106.5M10.2,-128.6 14.8,-128.8 18.5,-129.0 24.1,-128.9 25.1,-128.6 20.1,-128.1 21.3,-127.3 17.1,-126.8 15.8,-126.6 13.3,-127.2 10.8,-127.9 10.2,-128.6M51.8,-122.2 52.5,-123.5 54.3,-124.5 55.2,-125.5 58.5,-126.3 62.9,-126.8 65.8,-126.7 63.5,-126.0 58.8,-125.2 58.4,-124.3 55.9,-123.6 57.9,-121.9 57.8,-121.4 55.2,-121.5 53.5,-121.8 51.8,-122.2M49.8,-119.8 50.8,-120.2 51.8,-119.8 51.2,-119.4 49.8,-119.8M41.6,-129.2 46.1,-129.3 51.4,-129.6 56.8,-129.7 59.9,-129.4 55.6,-129.0 50.1,-128.9 44.5,-128.9 41.6,-129.2M89.2,-128.3 90.3,-129.0 92.2,-129.3 96.1,-129.5 98.3,-128.5 97.4,-127.7 94.4,-127.5 92.8,-128.0 89.2,-128.3M132.2,-125.7 134.2,-126.3 139.2,-126.1 144.5,-125.6 145.9,-125.3 141.7,-125.3 138.9,-125.2 136.3,-125.0 133.4,-125.3 132.2,-125.7M137.7,-124.0 139.2,-124.4 141.2,-124.1 139.7,-123.8 137.7,-124.0M180.1,-121.8 180.8,-122.2M-180.7,-122.3 -179.2,-122.3 -178.8,-121.9 -180.5,-121.6 -181.9,-121.7M181.9,-121.7 180.1,-121.8 180.7,-122.3M170.5,-100.9 172.9,-99.1 175.5,-96.5 178.1,-94.5 180.9,-92.6 178.4,-93.0 180.0,-90.6 182.5,-89.0 183.2,-88.0 181.6,-88.8 181.8,-87.5 179.6,-90.1 177.8,-92.6 174.8,-95.7 172.6,-97.6 170.9,-99.4 170.5,-100.9M182.3,-86.9 185.2,-85.2 187.5,-84.3 188.2,-84.9 190.1,-83.2 188.8,-82.6 188.5,-80.9 185.9,-82.0 185.1,-81.4 186.0,-80.6 185.0,-80.0 183.2,-82.0 183.2,-83.2 184.3,-83.2 183.3,-85.2 182.3,-86.9M186.0,-80.1 186.8,-79.9 188.0,-78.3 189.8,-76.8 190.5,-74.5 190.3,-73.8 191.4,-72.0 191.5,-70.9 192.5,-69.8 192.4,-68.7 191.9,-68.4 191.2,-69.6 190.8,-68.7 190.9,-67.8 190.0,-67.8 188.4,-67.8 188.5,-67.3 187.8,-65.7 186.4,-66.5 185.8,-67.8 184.2,-67.8 183.2,-67.3 182.3,-66.7 180.7,-66.7 180.2,-67.3 180.9,-67.9 181.5,-69.3 182.3,-69.5 183.7,-69.5 184.8,-69.9 185.9,-69.7 185.3,-70.9 185.2,-72.7 185.8,-73.0 186.1,-71.8 187.4,-72.4 187.5,-73.7 187.7,-75.0 186.9,-76.9 185.7,-78.5 185.6,-79.5 186.0,-80.1M183.1,-66.1 183.5,-66.7 184.5,-67.3 185.5,-67.1 186.0,-66.3 185.8,-65.3 184.8,-65.8 184.6,-64.4 183.7,-64.8 183.1,-66.1M180.7,-66.5 182.0,-66.0 183.1,-64.5 183.4,-62.3 183.0,-61.2 182.0,-61.7 181.1,-63.6 180.2,-64.3 179.5,-65.4 180.2,-66.0 180.7,-66.5M174.3,-50.4 175.2,-49.6 175.2,-47.9 175.4,-44.0 174.2,-45.2 173.3,-47.1 173.6,-49.0 173.7,-49.8 174.3,-50.4M159.1,-38.5 159.6,-39.9 161.4,-40.3 162.3,-39.3 161.9,-37.7 160.9,-36.5 159.4,-37.1 159.1,-38.5M119.3,-19.6 119.9,-19.8 121.5,-17.2 122.5,-15.2 122.5,-13.2 120.9,-12.0 120.1,-12.3 119.6,-14.2 119.4,-16.6 119.7,-18.8 119.3,-19.6M79.2,-25.3 80.2,-25.6 81.0,-25.2 80.0,-24.8 79.2,-25.3M137.7,-27.4 138.3,-26.2 138.3,-23.4 137.9,-23.4 137.7,-25.8 137.7,-27.4M176.9,-37.1 178.9,-36.7 179.3,-37.1 179.8,-34.8 180.3,-34.2 179.5,-32.0 179.9,-30.2 180.3,-28.6 181.6,-28.8 182.8,-27.8 184.3,-26.2 184.4,-25.3 183.1,-26.2 182.0,-26.6 181.6,-27.4 180.4,-28.0 178.8,-27.8 178.6,-29.2 177.7,-29.8 176.8,-32.8 177.6,-32.6 177.0,-34.6 176.9,-37.1M178.5,-27.1 179.9,-27.1 180.6,-25.4 180.3,-24.6 179.6,-25.4 178.5,-27.1M175.3,-16.9 176.3,-18.6 177.5,-21.0 178.3,-22.9 178.3,-21.2 177.3,-19.2 176.0,-17.5 175.3,-16.9M181.4,-23.9 183.0,-23.4 183.3,-23.1 182.8,-21.6 182.0,-21.1 181.4,-23.9M183.0,-20.2 183.3,-22.1 184.2,-21.9 183.9,-20.0 184.3,-18.7 183.6,-18.8 182.8,-19.6 183.0,-20.2M184.4,-19.1 184.5,-21.0 184.8,-22.7 185.0,-21.0 184.4,-19.1M184.8,-20.0 185.7,-20.5 186.1,-19.7 185.2,-19.4 184.8,-20.0M185.3,-23.2 186.3,-22.6 186.8,-20.8 186.3,-20.2 186.0,-21.8 185.3,-23.2M184.8,-25.3 186.3,-25.3 187.4,-22.6 186.2,-22.8 185.9,-23.8 184.8,-25.3M182.8,-14.2 183.1,-16.0 184.0,-17.2 185.1,-16.4 186.5,-17.2 187.3,-19.6 187.6,-19.7 188.6,-18.6 189.1,-16.6 189.6,-14.8 189.2,-12.7 188.3,-14.2 188.1,-12.1 188.0,-11.3 185.9,-12.7 186.0,-15.0 184.8,-15.0 184.6,-15.4 183.9,-15.0 182.8,-14.0 182.8,-14.2M163.9,-3.0 164.8,-4.1 165.8,-3.4 167.2,-2.8 167.4,-4.9 169.8,-6.4 171.1,-9.2 172.6,-10.1 173.4,-11.1 174.1,-12.2 174.9,-14.2 175.8,-13.4 176.5,-12.0 179.0,-10.5 177.4,-9.5 178.1,-8.9 176.6,-8.4 176.8,-6.7 177.4,-4.5 178.9,-2.0 177.3,-1.6 176.7,0.0 176.7,1.6 175.6,2.6 174.8,4.1 175.0,6.5 174.3,7.4 172.2,8.4 172.0,7.1 169.8,6.5 168.0,7.1 167.9,6.0 165.6,5.9 165.4,3.6 163.9,1.0 164.1,-1.0 163.9,-3.0M142.8,-11.2 144.1,-10.7 146.3,-10.6 147.5,-8.5 148.7,-7.1 150.3,-5.4 150.9,-4.5 152.3,-4.2 153.7,-2.8 154.9,-1.2 156.1,0.0 155.5,1.5 157.0,2.1 157.2,3.6 157.8,4.8 159.4,6.3 158.9,8.5 158.8,11.8 157.8,11.7 156.9,11.1 155.5,10.0 153.7,8.0 152.7,6.5 151.7,4.5 150.9,1.8 149.8,-0.2 148.4,-3.5 146.8,-4.9 145.6,-7.5 143.2,-9.8 142.8,-11.2M157.7,13.8 159.0,11.9 160.5,12.0 162.4,12.6 162.9,13.8 165.4,14.1 166.3,13.0 167.1,13.5 168.7,13.9 169.2,15.5 171.3,15.8 171.1,17.6 169.4,16.8 166.8,16.8 164.7,16.0 162.6,15.6 161.3,15.5 159.4,14.9 157.7,13.8M168.9,14.3 170.7,14.0 171.0,14.2 170.0,14.7 168.8,14.6 168.9,14.3M171.3,16.6 172.4,16.3 173.1,17.0 172.2,17.8 171.3,16.6M173.2,17.7 174.0,16.6 174.6,17.0 174.2,18.0 173.2,17.7M174.6,17.2 175.9,17.0 177.0,16.9 178.0,16.8 177.9,17.7 176.7,17.9 174.9,18.3 174.6,17.2M179.2,17.1 180.4,16.8 181.9,17.2 183.8,16.4 184.0,17.0 182.4,17.8 180.6,17.9 179.2,17.7 179.2,17.1M177.8,19.0 179.2,18.8 180.4,20.2 179.4,20.7 177.7,19.6 177.8,19.0M184.3,20.9 185.3,18.9 186.9,17.5 188.5,17.2 190.4,17.0 189.2,18.2 187.3,19.1 185.7,20.5 184.3,20.9M188.3,15.8 189.9,15.4 189.8,16.1 188.4,16.1 188.3,15.8M186.0,16.8 187.2,16.5 186.7,17.1 186.0,16.8M196.1,16.1 197.3,14.5 197.2,15.7 196.2,16.2 196.1,16.1M201.1,12.5 202.0,11.0 202.2,12.7 201.4,14.0 201.1,12.5M199.4,10.7 199.8,10.7 199.6,11.9 199.4,10.7M180.1,-1.7 180.5,-1.5 181.8,-2.7 183.4,-2.1 185.3,-1.9 187.0,-2.4 188.1,-3.4 188.2,-2.8 187.2,-0.9 185.4,-0.6 183.1,-0.9 181.3,-1.0 180.6,0.0 180.6,1.8 181.9,2.9 182.8,1.7 185.5,1.9 185.4,2.1 183.4,3.4 182.6,3.8 183.8,6.0 183.8,6.6 185.0,8.1 184.1,8.9 184.4,9.8 183.3,9.8 182.4,9.3 182.6,8.3 181.6,7.2 181.9,5.5 180.8,6.0 180.9,7.6 180.7,9.8 180.7,11.3 179.4,11.3 179.2,10.9 179.4,9.1 179.6,8.1 179.5,7.1 178.5,6.3 178.6,5.3 179.4,2.7 180.0,1.6 180.2,-0.2 180.1,-1.7M184.1,9.4 184.8,9.1 184.9,10.7 184.0,11.4 184.1,9.4M191.7,-3.8 192.4,-4.5 192.3,-2.2 193.5,-3.1 193.5,-2.2 192.8,-1.6 193.8,-0.5 192.9,-0.7 192.3,-0.9 193.1,1.7 192.3,0.6 191.9,-1.8 191.6,-2.1 191.7,-3.8M192.7,-4.3 193.3,-5.3 193.5,-4.3 192.7,-4.3M191.4,0.8 192.3,0.8 191.9,1.7 191.4,0.8M191.5,2.9 192.6,3.0 192.0,3.4 191.5,2.9M187.0,3.4 189.3,3.6 189.9,3.6 188.5,3.9 187.0,3.4M189.3,6.4 190.4,6.2 191.2,6.8 190.8,7.8 189.6,7.4 189.3,6.4M192.3,6.1 193.3,5.8 194.7,5.7 196.0,6.1 196.6,7.1 195.3,7.1 193.8,6.9 192.6,6.9 192.3,6.1M195.0,3.6 196.0,3.4 196.1,4.2 195.1,4.1 195.0,3.6M195.9,0.3 196.9,0.0 197.4,0.6 196.7,0.7 195.9,0.3M196.4,1.9 197.1,1.9 197.0,2.6 196.4,2.5 196.4,1.9M203.6,1.4 204.6,1.8 205.0,2.4 204.2,2.4 203.6,1.4M203.6,3.3 205.8,3.5 204.7,3.8 203.6,3.3M197.3,1.7 198.5,0.8 199.5,0.7 200.6,1.4 201.6,1.7 201.8,2.8 201.6,4.1 202.1,5.7 202.4,6.7 203.6,6.8 204.4,5.5 204.9,4.7 205.8,4.5 206.4,3.4 207.3,2.9 208.6,3.7 210.1,4.8 211.5,5.2 212.4,5.5 213.9,6.4 215.8,7.2 217.1,7.8 217.7,8.7 218.8,10.5 219.7,11.3 220.6,12.0 221.3,12.3 221.6,13.4 220.3,13.7 220.3,14.3 221.0,15.7 221.6,16.3 222.0,18.0 223.2,18.2 222.9,19.3 224.0,19.5 223.6,20.2 225.2,20.7 224.5,20.8 224.7,21.4 223.7,21.4 223.1,20.9 221.6,20.6 220.6,20.3 219.8,19.1 219.2,18.0 218.5,16.3 218.2,16.1 217.5,15.9 216.8,15.4 216.4,15.2 215.9,15.5 215.4,16.0 214.9,16.4 214.4,16.8 214.5,17.4 213.9,18.2 212.9,18.7 211.6,18.6 210.7,18.4 209.9,17.2 208.7,16.6 208.0,16.4 207.4,16.9 206.0,17.0 206.7,15.2 207.9,14.6 208.1,14.0 207.8,13.4 207.7,11.9 207.2,11.1 206.5,10.5 205.6,9.9 204.2,9.2 203.0,9.0 202.1,8.3 201.6,7.9 200.8,7.4 200.4,8.1 199.6,8.3 199.4,7.4 198.8,6.0 198.3,5.7 199.3,5.6 200.7,5.1 201.3,4.7 200.8,4.4 199.6,4.6 198.6,4.3 198.1,3.2 196.9,2.7 197.0,2.0 197.3,1.7M222.6,11.0 223.6,11.1 224.5,11.1 225.1,10.1 225.3,11.2 226.4,11.1 227.1,10.1 227.6,10.0 227.8,8.5 228.3,8.4 228.6,8.5 228.8,8.8 228.5,9.9 228.1,10.1 228.2,11.0 227.3,11.3 226.5,12.1 225.2,12.7 224.3,12.7 223.5,12.4 222.6,11.7 222.6,11.0M226.6,5.3 227.7,6.1 228.7,7.1 229.2,7.8 229.9,8.7 229.7,9.5 229.4,9.8 229.3,8.9 228.9,8.0 228.2,6.9 227.2,6.0 226.6,5.3M225.3,5.0 226.1,4.9 226.0,5.4 225.4,5.4 225.3,5.0M220.3,4.1 221.0,3.9 221.6,4.2 221.0,4.5 220.3,4.4 220.3,4.1M221.7,11.1 222.2,11.2 222.0,11.8 221.7,11.6 221.7,11.1M219.0,9.2 219.3,9.3 219.1,9.6 219.0,9.2M232.0,10.1 232.6,10.9 233.3,12.5 233.7,13.8 232.9,13.9 232.6,13.2 232.1,12.0 232.0,11.0 232.0,10.1M234.4,13.4 235.3,14.0 236.0,14.8 235.6,15.0 234.6,14.2 234.4,13.4M235.3,16.2 236.2,16.2 236.5,17.3 235.6,17.4 235.3,16.2M236.8,15.0 237.7,15.7 239.1,16.9 238.9,17.3 237.8,16.6 236.9,15.6 236.8,15.0M238.5,18.8 239.5,18.9 240.2,19.7 239.6,20.1 238.6,19.8 238.5,18.8M240.3,16.8 240.8,17.4 241.2,19.4 240.8,19.3 240.3,18.0 240.3,16.8M240.7,20.6 241.5,21.0 242.1,21.8 241.3,21.7 240.7,20.6M224.3,18.7 224.7,18.7 224.6,19.2 224.3,19.2 224.3,18.7M224.8,19.1 225.4,19.0 225.4,19.6 224.8,19.6 224.8,19.1M225.1,20.0 225.6,20.1 225.7,20.6 225.4,20.5 225.1,20.0M225.8,17.1 226.1,17.2 226.0,17.6 225.8,17.1M227.9,18.3 228.7,18.4 228.3,18.7 227.9,18.3M227.6,21.5 228.0,21.5 227.8,21.7 227.6,21.5M228.2,23.0 228.9,23.2 228.5,23.5 228.2,23.0M246.5,29.5 247.2,30.1 247.1,31.2 246.4,31.5 246.3,30.6 246.5,29.5M246.7,32.0 247.1,32.4 247.3,33.2 246.7,33.3 246.7,32.0M247.2,35.4 247.7,35.5 247.4,35.9 247.2,35.4M247.6,37.5 248.1,37.6 247.8,38.1 247.6,37.5M247.6,38.9 247.8,39.0 247.6,39.4 247.6,38.9M247.7,32.6 248.2,32.7 247.9,32.9 247.7,32.6M248.4,31.1 248.6,31.2 248.2,32.2 248.4,31.1M239.4,40.2 240.5,41.0 241.4,42.4 242.2,44.2 241.9,44.8 240.9,44.0 240.0,42.6 239.3,41.1 239.4,40.2M243.3,41.6 243.8,41.6 243.5,42.2 243.3,41.6M260.6,35.4 261.5,34.9 262.3,35.2 262.4,36.1 261.5,36.6 260.5,36.4 260.6,35.4M262.9,33.8 264.2,33.1 265.4,32.6 265.2,33.2 264.1,33.9 263.1,34.2 262.9,33.8M212.5,21.6 212.7,22.8 213.1,25.0 212.9,27.8 214.1,28.6 214.9,30.1 214.4,32.8 214.8,34.8 214.4,37.1 215.1,38.7 216.4,40.1 217.0,41.3 217.1,42.8 217.1,44.8 218.4,45.2 217.8,47.1 218.8,48.1 219.3,50.4 218.8,52.1 218.0,54.2 217.3,56.8 215.7,59.1 214.2,61.2 212.3,63.4 210.5,64.9 208.8,66.5 206.9,68.5 205.0,70.3 203.2,72.7 201.8,73.6 199.6,73.8 196.2,75.9 195.7,74.6 194.9,74.5 192.6,75.4 191.6,74.6 190.2,74.0 189.6,73.4 189.9,71.6 190.3,69.8 189.4,69.6 190.3,68.0 191.0,65.2 191.4,64.1 190.1,66.0 188.1,68.4 187.2,68.9 186.8,68.0 185.8,67.8 187.1,66.2 186.2,64.5 186.1,63.2 184.2,63.0 183.1,62.1 180.0,62.5 177.1,63.6 175.2,63.6 172.3,64.9 170.6,66.5 168.2,66.5 165.6,66.6 161.8,68.7 160.1,68.5 158.5,67.3 159.0,66.0 160.2,65.4 161.4,62.5 161.5,59.9 162.3,57.4 162.2,55.1 162.0,51.9 163.1,51.3 163.1,48.8 164.2,46.7 164.9,45.0 165.8,43.6 167.6,43.0 170.1,41.3 172.4,40.7 173.9,40.0 176.7,39.4 178.8,37.1 179.8,34.8 181.3,33.2 181.8,35.0 182.4,32.4 183.5,32.8 184.2,30.8 186.2,29.0 188.2,27.8 189.6,29.8 190.0,29.8 191.7,30.0 191.8,28.0 193.4,26.2 194.5,25.0 196.2,24.7 197.3,24.4 197.5,23.2 196.3,22.8 198.1,23.0 200.0,24.2 202.1,24.2 203.6,24.6 202.8,26.6 201.6,27.6 200.5,29.8 201.5,31.8 203.1,32.8 204.7,35.0 205.7,35.6 207.3,34.8 208.6,32.4 209.7,29.8 210.2,26.6 211.1,24.4 211.8,22.2 212.5,21.6M193.7,23.4 194.6,22.8 195.9,23.0 195.0,24.0 194.1,23.8 193.7,23.4M202.3,27.8 203.0,27.8 202.7,28.8 202.1,28.4 202.3,27.8M186.6,70.0 188.2,69.6 188.6,70.1 187.4,70.4 186.6,70.0M192.0,78.7 193.2,79.5 194.7,79.2 196.2,78.9 195.6,80.2 194.3,81.8 193.0,83.0 191.5,83.5 190.2,83.5 190.4,82.0 191.3,80.4 192.0,78.7M237.7,67.4 237.8,68.5 238.6,69.3 238.0,71.1 238.7,71.4 238.0,73.0 238.9,73.8 241.2,73.4 239.0,75.4 237.2,76.1 236.3,76.9 233.9,78.7 231.2,80.2 230.9,79.7 233.1,78.0 232.9,77.2 232.5,76.4 234.4,75.4 236.5,73.0 237.2,71.1 237.2,68.9 237.7,67.4M229.4,78.3 228.8,79.7 230.4,79.2 229.8,80.4 226.6,82.5 225.1,83.5 224.8,84.1 222.8,84.7 221.3,85.4 218.7,87.5 216.4,88.5 214.5,88.7 214.0,88.0 213.2,87.5 215.9,85.7 218.4,84.3 221.9,83.0 225.2,81.1 228.1,78.9 229.4,78.3M213.1,89.1 213.8,89.1 213.1,89.7 212.5,89.7 213.1,89.1M-228.0,-39.6 -227.4,-40.6 -226.6,-39.8 -226.4,-39.1 -228.0,-38.0 -228.1,-38.7 -228.0,-39.6M-228.1,-41.9 -227.4,-41.9 -227.3,-41.5 -228.0,-41.3 -228.1,-41.9M-230.0,-43.1 -229.4,-43.4 -229.3,-42.6 -229.9,-42.6 -230.0,-43.1M-231.7,-44.2 -231.2,-44.4 -231.3,-43.8 -231.8,-43.9 -231.7,-44.2M-64.9,-117.1 -66.8,-115.9 -68.5,-115.1 -69.9,-116.1 -71.6,-116.7 -71.0,-115.2 -71.1,-112.6 -72.9,-113.0 -74.7,-113.7 -73.3,-111.3 -77.0,-112.5 -79.1,-114.3 -83.0,-114.2 -84.9,-114.6 -83.1,-115.5 -79.6,-115.2 -78.7,-115.8 -77.6,-117.3 -76.0,-118.1 -76.4,-119.0 -78.0,-119.5 -79.1,-120.1 -80.1,-120.7 -83.7,-120.7 -86.2,-120.7 -87.8,-121.3 -89.7,-121.9 -89.5,-123.2 -88.1,-124.1 -84.4,-124.3 -82.7,-124.0 -79.5,-124.3 -76.7,-124.2 -76.3,-123.5 -74.7,-123.0 -73.2,-122.3 -71.2,-121.8 -69.5,-121.3 -68.7,-120.2 -68.9,-119.2 -67.3,-118.5 -65.8,-117.5 -64.9,-117.1M-93.3,-115.5 -90.7,-116.1 -89.7,-115.4 -87.9,-114.2 -87.4,-113.7 -90.2,-113.4 -93.1,-113.1 -94.4,-113.6 -94.2,-114.5 -93.3,-115.5M-120.7,-119.7 -117.2,-119.2 -111.7,-119.4 -108.2,-119.8 -104.1,-120.2 -102.8,-121.0 -102.8,-122.3 -103.6,-123.5 -104.5,-123.9 -107.1,-123.8 -109.0,-123.5 -112.4,-123.9 -116.9,-123.5 -119.2,-122.5 -118.3,-122.0 -119.5,-121.5 -115.7,-121.3 -119.3,-120.9 -120.3,-120.3 -120.7,-119.7M-124.1,-121.8 -121.2,-122.1 -117.4,-123.1 -113.8,-124.0 -114.3,-124.7 -116.9,-124.9 -121.0,-124.8 -122.8,-124.1 -125.2,-122.9 -125.0,-122.6 -124.1,-121.8M-76.7,-126.3 -73.7,-126.9 -70.4,-127.9 -67.1,-128.5 -62.9,-129.1 -58.8,-129.6 -56.6,-130.1 -63.6,-130.3 -70.9,-130.3 -78.6,-129.9 -82.6,-129.6 -80.4,-129.1 -80.1,-128.5 -79.8,-127.9 -83.1,-127.4 -85.5,-126.5 -81.4,-126.4 -76.7,-126.3M-80.5,-129.0 -83.7,-129.5 -87.5,-129.4 -89.1,-128.8 -87.0,-128.2 -82.6,-127.9 -80.5,-129.0M-76.7,-125.7 -80.8,-125.0 -85.7,-124.9 -89.5,-125.1 -92.6,-125.7 -89.8,-126.5 -85.9,-126.7 -81.6,-126.1 -77.3,-126.1 -76.7,-125.7M-102.3,-125.3 -105.0,-125.1 -109.2,-124.9 -113.1,-125.6 -111.1,-126.4 -107.1,-126.5 -103.0,-126.7 -101.5,-126.0 -102.3,-125.3M-94.3,-125.5 -96.9,-125.3 -99.6,-126.0 -96.4,-126.7 -93.7,-126.5 -94.3,-125.5M-88.7,-124.4 -93.0,-124.5 -94.6,-123.5 -93.4,-122.7 -89.8,-123.4 -88.7,-124.4M-95.3,-124.3 -99.1,-124.3 -101.6,-123.5 -100.1,-122.5 -97.7,-122.4 -95.6,-123.5 -95.3,-124.3M-102.6,-119.7 -100.1,-120.6 -98.0,-120.2 -99.4,-119.3 -102.1,-119.2 -102.6,-119.7M-110.6,-126.4 -114.5,-126.0 -117.9,-126.3 -114.9,-127.0 -111.0,-127.1 -110.6,-126.4M-94.3,-127.6 -98.3,-127.8 -97.3,-128.2 -93.7,-128.1 -94.3,-127.6M-90.6,-125.3 -93.6,-125.3 -92.5,-125.8 -90.6,-125.8 -90.6,-125.3M-75.7,-123.6 -78.8,-123.5 -79.8,-124.0 -77.0,-124.3 -75.7,-123.6M-79.3,-117.9 -80.9,-117.7 -80.5,-118.6 -78.9,-118.7 -79.3,-117.9M-88.4,-111.2 -89.0,-111.7 -88.1,-112.1 -88.0,-111.5 -88.4,-111.2M-91.3,-112.6 -90.2,-112.6 -90.0,-112.1 -92.0,-111.7 -91.3,-112.6M-99.1,-98.9 -97.8,-99.1 -97.5,-98.5 -98.8,-98.3 -99.1,-98.9M-187.8,-113.4 -185.8,-113.6 -184.9,-113.1 -186.5,-112.7 -187.9,-113.1 -187.8,-113.4M-189.3,-109.1 -187.3,-109.4 -187.6,-108.8 -189.0,-108.6 -189.3,-109.1M-202.6,-99.3 -199.6,-100.3 -199.8,-99.9 -202.1,-99.2 -202.6,-99.3M-204.6,-98.6 -202.3,-99.6 -202.4,-99.3 -204.5,-98.5 -204.6,-98.6M-213.5,-97.3 -211.7,-97.7 -210.7,-97.6 -213.0,-97.2 -213.5,-97.3M-216.5,-96.8 -215.2,-97.3 -215.1,-97.0 -216.4,-96.7 -216.5,-96.8M208.7,-98.6 209.7,-98.8 209.9,-98.4 208.7,-98.6M196.3,-102.2 197.6,-101.8 198.5,-101.3 197.3,-101.7 196.3,-102.2M191.7,-95.4 192.8,-95.1 193.1,-94.5 192.2,-94.6 191.7,-95.4M189.4,-86.0 191.1,-86.9 190.6,-86.2 190.0,-85.4 190.0,-85.0 189.4,-86.0M189.1,-84.0 189.5,-85.1 189.6,-84.1 189.1,-84.0M191.8,-87.0 192.3,-88.0 192.3,-87.5 191.8,-87.0M188.0,-106.8 188.0,-107.6 188.4,-106.9 188.0,-106.8M174.6,-65.4 175.4,-65.9 175.6,-65.5 174.9,-65.2 174.6,-65.4M182.6,-51.9 182.9,-53.2 182.7,-52.7 182.6,-51.9M-23.9,-56.2 -22.8,-56.6 -23.3,-55.6 -23.9,-56.2M-22.4,-55.5 -21.8,-55.8 -21.9,-55.1 -22.4,-55.5M-20.6,-55.7 -19.7,-56.8 -19.6,-56.1 -20.3,-55.6 -20.6,-55.7M-35.2,-30.8 -34.6,-30.8 -34.8,-30.0 -35.2,-30.8M80.4,42.0 81.3,41.8 81.1,42.7 80.4,42.6 80.4,42.0M83.6,40.5 84.4,40.1 84.3,41.0 83.6,41.1 83.6,40.5M64.3,23.0 64.8,23.0 64.6,24.0 64.3,23.0M58.8,11.6 59.2,11.9 59.3,13.1 58.8,12.5 58.8,11.6M12.6,-7.6 13.4,-7.5 13.1,-6.6 12.6,-6.9 12.6,-7.6M86.0,92.6 88.1,92.7 87.5,93.5 85.9,93.5 86.0,92.6M-8.2,-111.6 -7.2,-111.8 -7.5,-110.9 -8.2,-111.6M-1.8,-109.6 -1.1,-109.8 -1.4,-108.7 -1.8,-109.6M-8.1,-106.4 -7.1,-106.8 -7.4,-105.9 -8.5,-105.1 -8.6,-105.7 -8.1,-106.4M13.5,-118.4 15.1,-119.0 16.0,-119.6 16.7,-119.9 15.6,-119.2 14.1,-118.6 13.5,-118.4"/>
<clipPath id="c1"><rect x="407.0" y="296.0" width="169.3" height="157.5"/></clipPath>
<clipPath id="c2"><rect x="584.2" y="296.0" width="309.8" height="157.5"/></clipPath>
<marker id="ad" viewBox="0 0 10 10" refX="9" refY="5" markerWidth="7" markerHeight="7" markerUnits="userSpaceOnUse" orient="auto"><path d="M1,1.5 L9,5 L1,8.5" fill="none" stroke="#606060" stroke-width="1.1"/></marker>
<marker id="am" viewBox="0 0 10 10" refX="9" refY="5" markerWidth="7" markerHeight="7" markerUnits="userSpaceOnUse" orient="auto"><path d="M1,1.5 L9,5 L1,8.5" fill="none" stroke="#929292" stroke-width="1.1"/></marker>
<marker id="al" viewBox="0 0 10 10" refX="9" refY="5" markerWidth="7" markerHeight="7" markerUnits="userSpaceOnUse" orient="auto"><path d="M1,1.5 L9,5 L1,8.5" fill="none" stroke="#cccccc" stroke-width="1.1"/></marker>
</defs>
<g id="panelA">
<text x="21.4" y="36.3" class="b t16">A</text>
<text x="123.5" y="37.3" class="b t13 mid">source 1</text>
<text x="257.5" y="37.3" class="b t13 mid">source 2</text>
<rect x="101" y="48" width="45.9" height="229.5" fill="#155F83"/>
<rect x="234.7" y="48" width="46.4" height="229.5" fill="#FFC000"/>
<text x="123.6" y="300.2" class="t13 mid">language 1</text>
<text x="124.1" y="317.8" class="t13 mid">(family 1)</text>
<text x="258.7" y="300.2" class="t13 mid">language 2</text>
<line x1="224.2" y1="300.9" x2="293" y2="300.9" stroke="#000" stroke-width="1"/>
<text x="258.5" y="317.8" class="t13 mid">(family 2)</text>
<path d="M181.1,163.5H199.3M190.4,155V172" stroke="#000" stroke-width="2.9" fill="none"/>
<path d="M190.5,195.2V414" stroke="#000" stroke-width="2.8" fill="none"/>
<path d="M185.7,413.1H195.3L190.5,422.3Z" fill="#000"/>
<text y="420.8" class="t13"><tspan x="67.2">≥</tspan><tspan x="83.4">80%</tspan></text>
<text y="329.8" class="t13"><tspan x="327">≥</tspan><tspan x="343.2">80%</tspan></text>
<text x="190" y="441.9" class="b t13 mid">target</text>
<text x="190.6" y="459" class="b t13 mid">population</text>
<rect x="163" y="475.9" width="53" height="288.6" fill="#155F83"/>
<path d="M163,475.9H216V523.6H205.9V582H200V542H192.8V562.6H186V542H180V582H171V523.6H163Z" fill="#FFC000"/>
<path d="M157.4,482.4H154.1Q152.1,482.4 152.1,484.4V504Q152.1,506 150.1,506H147.3M150.1,506Q152.1,506 152.1,508V527.2Q152.1,529.2 154.1,529.2H157.4" fill="none" stroke="#000" stroke-width="1.3"/>
<path d="M220.4,482.4H224.5Q226.5,482.4 226.5,484.4V619.7Q226.5,621.7 228.5,621.7H232.5M228.5,621.7Q226.5,621.7 226.5,623.7V758.9Q226.5,760.9 224.5,760.9H220.4" fill="none" stroke="#000" stroke-width="1.3"/>
<text x="124.8" y="503.6" class="t13 mid">≥</text>
<text x="126.7" y="519.6" class="t13 mid">5%</text>
<text x="256.9" y="620" class="t13 mid">≥</text>
<text x="258.9" y="635.6" class="t13 mid">70%</text>
<text x="76.3" y="707.1" class="b t13">K = 2</text>
<text x="187.1" y="788.1" class="t12 mid">target language</text>
<line x1="145.3" y1="789.7" x2="228.9" y2="789.7" stroke="#000" stroke-width="0.9"/>
<text x="186.8" y="803.6" class="t12 mid">(family 1)</text>
<rect x="240.5" y="544.2" width="127.2" height="49.2" fill="#fff" stroke="#000" stroke-width="1"/>
<text x="303.9" y="565.5" class="t13 mid">target ~ source</text>
<text x="304.5" y="582.5" class="t13 mid">language pair(s)</text>
<line x1="254.3" y1="583.6" x2="354.8" y2="583.6" stroke="#000" stroke-width="1"/>
<path d="M163.5,644.3C159.3,642.7 146.6,640.4 138.1,634.5C129.6,628.6 119.9,618.4 112.6,609.0C105.3,599.6 100.3,589.7 94.5,578.2C88.7,566.7 82.5,551.1 78.0,540.0C73.5,528.9 70.5,525.4 67.2,511.6C63.9,497.8 60.2,475.3 58.2,457.1C56.2,438.9 55.5,420.8 55.3,402.6C55.1,384.5 55.8,365.8 56.8,348.2C57.8,330.6 60.1,311.1 61.5,297.0C62.9,282.9 64.1,272.9 65.3,263.5C66.5,254.1 67.3,248.4 68.8,240.8C70.3,233.2 72.1,225.7 74.1,218.1C76.1,210.5 78.8,201.9 81.0,195.4C83.2,188.9 85.3,183.0 87.2,178.8C89.1,174.6 91.0,172.0 92.4,170.1C93.8,168.2 95.1,167.7 95.6,167.2" fill="none" stroke="#155F83" stroke-width="2.7" stroke-dasharray="10.2,7.2"/>
<path d="M100.8,163.6L91.5,165.4L96.2,172.4Z" fill="#155F83"/>
<path d="M216.9,499.6C221.3,498.6 234.1,498.8 243.4,493.5C252.7,488.2 264.0,478.3 272.5,468.0C281.0,457.7 287.9,445.6 294.3,431.7C300.7,417.8 306.5,400.2 310.6,384.5C314.7,368.8 318.0,353.4 319.0,337.3C320.0,321.2 317.4,299.4 316.8,288.0C316.2,276.6 315.8,275.1 315.1,268.8C314.4,262.5 313.7,256.5 312.8,250.4C311.9,244.3 310.9,238.1 309.8,232.1C308.7,226.1 307.7,220.6 306.3,214.6C304.9,208.6 303.2,202.1 301.4,196.3C299.6,190.5 297.3,184.2 295.3,179.7C293.3,175.2 290.6,171.3 289.2,169.2C287.8,167.1 287.5,167.5 287.2,167.2" fill="none" stroke="#FFC000" stroke-width="2.7" stroke-dasharray="10.2,7.2"/>
<path d="M280.8,164.3L290.6,166.1L285.4,172.7Z" fill="#FFC000"/>
<path d="M258,326L302.2,538" fill="none" stroke="#7f7f7f" stroke-width="1.5" stroke-dasharray="7.5,4.5"/>
<path d="M303.5,544.4L298.6,537.6L306.4,536Z" fill="#7f7f7f"/>
<path d="M245.2,790.7L302.3,600" fill="none" stroke="#7f7f7f" stroke-width="1.5" stroke-dasharray="7.5,4.5"/>
<path d="M304.1,593.4L306.4,601.6L298.7,599.3Z" fill="#7f7f7f"/>
<text transform="translate(297.2,447) rotate(78.2)" class="t136 g">linguistic clade</text>
<text transform="translate(281.8,720) rotate(-73.4)" class="t136 g">language</text>
</g>
<g id="panelB">
<text x="380" y="35.9" class="b t16">B</text>
<path d="M485.1,35.2H510.70000000000005M506.70000000000005,32.8L510.70000000000005,35.2L506.70000000000005,37.6" fill="none" stroke="#555555" stroke-width="1"/>
<text x="524.6" y="40" class="t14">GBI + TLI</text>
<path d="M600.7,35.2H626.3000000000001M622.3000000000001,32.8L626.3000000000001,35.2L622.3000000000001,37.6" fill="none" stroke="#8f8f8f" stroke-width="1"/>
<text x="640.7" y="40" class="t14">GBI only</text>
<path d="M711.2,35.2H736.8000000000001M732.8000000000001,32.8L736.8000000000001,35.2L732.8000000000001,37.6" fill="none" stroke="#cfcfcf" stroke-width="1"/>
<text x="750.7" y="40" class="t14">TLI only</text>
<use href="#world" class="m" transform="translate(631.5,184.0) scale(0.955)"/>
<g id="barrows"><g fill="#FBE78A" fill-opacity="0.72"><circle cx="630.6" cy="89.8" r="5.5"/><circle cx="634.2" cy="97.6" r="5.5"/><circle cx="630.0" cy="109.8" r="5.5"/><circle cx="628.7" cy="122.8" r="5.5"/><circle cx="647.5" cy="105.2" r="5.5"/><circle cx="650.9" cy="80.7" r="5.5"/><circle cx="673.8" cy="110.9" r="5.5"/><circle cx="686.5" cy="81.5" r="5.5"/><circle cx="702.0" cy="77.2" r="5.5"/><circle cx="723.0" cy="75.7" r="5.5"/><circle cx="721.0" cy="80.6" r="5.5"/><circle cx="695.8" cy="127.6" r="5.5"/><circle cx="636.9" cy="170.9" r="5.5"/><circle cx="680.7" cy="169.8" r="5.5"/><circle cx="674.3" cy="181.8" r="5.5"/><circle cx="696.4" cy="175.4" r="5.5"/><circle cx="685.5" cy="200.5" r="5.5"/><circle cx="455.4" cy="73.4" r="5.5"/><circle cx="485.1" cy="130.6" r="5.5"/><circle cx="535.6" cy="182.6" r="5.5"/><circle cx="525.5" cy="193.4" r="5.5"/><circle cx="521.9" cy="197.6" r="5.5"/><circle cx="545.8" cy="228.4" r="5.5"/><circle cx="759.3" cy="96.7" r="5.5"/><circle cx="809.5" cy="104.4" r="5.5"/><circle cx="780.1" cy="129.0" r="5.5"/><circle cx="791.2" cy="137.0" r="5.5"/><circle cx="777.8" cy="178.1" r="5.5"/><circle cx="656.4" cy="218.0" r="5.5"/><circle cx="663.3" cy="218.8" r="5.5"/><circle cx="660.8" cy="222.6" r="5.5"/><circle cx="660.3" cy="224.8" r="5.5"/><circle cx="656.8" cy="226.6" r="5.5"/><circle cx="660.4" cy="230.7" r="5.5"/><circle cx="662.9" cy="232.1" r="5.5"/><circle cx="665.7" cy="230.8" r="5.5"/><circle cx="656.6" cy="232.3" r="5.5"/><circle cx="657.6" cy="240.5" r="5.5"/><circle cx="672.3" cy="239.1" r="5.5"/><circle cx="814.5" cy="183.6" r="5.5"/><circle cx="809.5" cy="200.0" r="5.5"/><circle cx="849.6" cy="190.0" r="5.5"/><circle cx="849.1" cy="192.5" r="5.5"/><circle cx="855.3" cy="196.1" r="5.5"/><circle cx="861.2" cy="194.5" r="5.5"/></g>
<path d="M634.2,97.6C614.7,78.4 556.5,78.9 537.4,98.4" fill="none" stroke="#cccccc" stroke-width="0.90" marker-end="url(#al)"/>
<path d="M630.0,109.8C599.2,123.0 545.2,166.2 525.5,193.4" fill="none" stroke="#cccccc" stroke-width="0.90" marker-end="url(#al)"/>
<path d="M535.6,182.6L533.1,176.1" fill="none" stroke="#cccccc" stroke-width="0.90" marker-end="url(#al)"/>
<path d="M535.6,182.6L538.0,176.5" fill="none" stroke="#cccccc" stroke-width="0.90" marker-end="url(#al)"/>
<path d="M525.5,193.4L522.5,186.5" fill="none" stroke="#cccccc" stroke-width="0.90" marker-end="url(#al)"/>
<path d="M521.9,197.6L523.5,190.0" fill="none" stroke="#cccccc" stroke-width="0.90" marker-end="url(#al)"/>
<path d="M545.8,228.4L544.6,225.4" fill="none" stroke="#cccccc" stroke-width="0.90" marker-end="url(#al)"/>
<path d="M545.8,228.4L548.2,230.6" fill="none" stroke="#cccccc" stroke-width="0.90" marker-end="url(#al)"/>
<path d="M649.0,105.2L651.8,116.6" fill="none" stroke="#cccccc" stroke-width="0.90" marker-end="url(#al)"/>
<path d="M673.8,110.9L664.5,111.3" fill="none" stroke="#cccccc" stroke-width="0.90" marker-end="url(#al)"/>
<path d="M702.0,77.2C719.3,70.7 757.6,71.2 774.7,78.2" fill="none" stroke="#cccccc" stroke-width="0.90" marker-end="url(#al)"/>
<path d="M759.3,96.7L779.6,93.6" fill="none" stroke="#cccccc" stroke-width="0.90" marker-end="url(#al)"/>
<path d="M780.1,129.0L793.8,96.9" fill="none" stroke="#cccccc" stroke-width="0.90" marker-end="url(#al)"/>
<path d="M809.5,104.4L809.1,119.3" fill="none" stroke="#cccccc" stroke-width="0.90" marker-end="url(#al)"/>
<path d="M636.9,170.9L621.7,123.4" fill="none" stroke="#cccccc" stroke-width="0.90" marker-end="url(#al)"/>
<path d="M636.9,170.9L644.4,121.0" fill="none" stroke="#cccccc" stroke-width="0.90" marker-end="url(#al)"/>
<path d="M636.9,170.9L673.2,126.1" fill="none" stroke="#cccccc" stroke-width="0.90" marker-end="url(#al)"/>
<path d="M628.7,122.8L636.9,170.9" fill="none" stroke="#cccccc" stroke-width="0.90" marker-end="url(#al)"/>
<path d="M628.7,122.8L650.4,163.0" fill="none" stroke="#cccccc" stroke-width="0.90" marker-end="url(#al)"/>
<path d="M696.4,175.4L681.5,183.3" fill="none" stroke="#cccccc" stroke-width="0.90" marker-end="url(#al)"/>
<path d="M695.8,127.6L694.6,206.0" fill="none" stroke="#cccccc" stroke-width="0.90" marker-end="url(#al)"/>
<path d="M685.5,200.5C696.6,185.3 712.3,149.9 716.0,131.5" fill="none" stroke="#cccccc" stroke-width="0.90" marker-end="url(#al)"/>
<path d="M685.5,200.5C698.1,186.9 715.6,153.1 719.5,135.0" fill="none" stroke="#cccccc" stroke-width="0.90" marker-end="url(#al)"/>
<path d="M685.5,200.5C697.2,184.6 715.7,148.4 721.8,129.5" fill="none" stroke="#cccccc" stroke-width="0.90" marker-end="url(#al)"/>
<path d="M777.8,178.1L697.5,205.6" fill="none" stroke="#cccccc" stroke-width="0.90" marker-end="url(#al)"/>
<path d="M693.8,206.9L697.8,221.7" fill="none" stroke="#cccccc" stroke-width="0.90" marker-end="url(#al)"/>
<path d="M686.5,81.5L695.3,75.1" fill="none" stroke="#929292" stroke-width="0.90" marker-end="url(#am)"/>
<path d="M673.8,110.9L663.0,104.7" fill="none" stroke="#929292" stroke-width="0.90" marker-end="url(#am)"/>
<path d="M721.0,80.6L779.6,93.6" fill="none" stroke="#929292" stroke-width="0.90" marker-end="url(#am)"/>
<path d="M795.5,89.0L809.5,104.4" fill="none" stroke="#929292" stroke-width="0.90" marker-end="url(#am)"/>
<path d="M680.7,169.8L651.5,161.8" fill="none" stroke="#929292" stroke-width="0.90" marker-end="url(#am)"/>
<path d="M696.4,175.4L681.8,185.8" fill="none" stroke="#929292" stroke-width="0.90" marker-end="url(#am)"/>
<path d="M634.2,97.6C615.0,69.6 543.0,59.9 517.1,81.8" fill="none" stroke="#606060" stroke-width="0.90" marker-end="url(#ad)"/>
<path d="M630.6,89.8C608.0,68.4 542.5,63.8 517.1,81.8" fill="none" stroke="#606060" stroke-width="0.90" marker-end="url(#ad)"/>
<path d="M634.2,97.6C610.7,66.7 527.3,63.6 501.6,92.8" fill="none" stroke="#606060" stroke-width="0.90" marker-end="url(#ad)"/>
<path d="M630.6,89.8C604.3,64.6 526.7,66.4 501.6,92.8" fill="none" stroke="#606060" stroke-width="0.90" marker-end="url(#ad)"/>
<path d="M634.2,97.6C612.6,83.6 558.7,84.0 537.4,98.4" fill="none" stroke="#606060" stroke-width="0.90" marker-end="url(#ad)"/>
<path d="M630.0,109.8C611.5,90.1 554.5,85.6 533.2,102.1" fill="none" stroke="#606060" stroke-width="0.90" marker-end="url(#ad)"/>
<path d="M634.2,97.6C571.9,34.7 399.8,131.5 421.2,217.4" fill="none" stroke="#606060" stroke-width="0.90" marker-end="url(#ad)"/>
<path d="M630.0,109.8C597.7,81.9 507.2,93.1 482.7,128.0" fill="none" stroke="#606060" stroke-width="0.90" marker-end="url(#ad)"/>
<path d="M630.0,109.8C597.0,102.1 529.6,123.3 506.9,148.4" fill="none" stroke="#606060" stroke-width="0.90" marker-end="url(#ad)"/>
<path d="M630.0,109.8C596.8,114.2 538.8,152.7 521.9,181.6" fill="none" stroke="#606060" stroke-width="0.90" marker-end="url(#ad)"/>
<path d="M630.0,109.8C597.2,115.6 540.0,154.2 522.3,182.4" fill="none" stroke="#606060" stroke-width="0.90" marker-end="url(#ad)"/>
<path d="M630.0,109.8C596.1,113.4 537.3,153.4 521.5,183.6" fill="none" stroke="#606060" stroke-width="0.90" marker-end="url(#ad)"/>
<path d="M630.0,109.8C597.9,126.2 545.9,179.2 530.1,211.5" fill="none" stroke="#606060" stroke-width="0.90" marker-end="url(#ad)"/>
<path d="M433.8,81.9L428.6,90.4" fill="none" stroke="#606060" stroke-width="0.90" marker-end="url(#ad)"/>
<path d="M485.1,130.6L494.6,151.8" fill="none" stroke="#606060" stroke-width="0.90" marker-end="url(#ad)"/>
<path d="M484.3,130.6L496.0,151.2" fill="none" stroke="#606060" stroke-width="0.90" marker-end="url(#ad)"/>
<path d="M485.7,130.6L497.8,150.0" fill="none" stroke="#606060" stroke-width="0.90" marker-end="url(#ad)"/>
<path d="M483.6,129.6L495.2,151.5" fill="none" stroke="#606060" stroke-width="0.90" marker-end="url(#ad)"/>
<path d="M721.0,80.6C708.4,78.4 682.1,78.0 669.4,79.9" fill="none" stroke="#606060" stroke-width="0.90" marker-end="url(#ad)"/>
<path d="M721.0,80.6C707.3,76.7 678.1,73.3 663.8,73.9" fill="none" stroke="#606060" stroke-width="0.90" marker-end="url(#ad)"/>
<path d="M663.8,73.9C677.5,77.8 706.7,81.2 721.0,80.6" fill="none" stroke="#606060" stroke-width="0.90" marker-end="url(#ad)"/>
<path d="M658.0,74.7C668.6,77.7 691.1,78.9 702.0,77.2" fill="none" stroke="#606060" stroke-width="0.90" marker-end="url(#ad)"/>
<path d="M686.5,81.5L684.4,90.0" fill="none" stroke="#606060" stroke-width="0.90" marker-end="url(#ad)"/>
<path d="M686.5,81.5L691.0,85.6" fill="none" stroke="#606060" stroke-width="0.90" marker-end="url(#ad)"/>
<path d="M723.0,75.7L734.8,91.0" fill="none" stroke="#606060" stroke-width="0.90" marker-end="url(#ad)"/>
<path d="M723.0,75.7C730.9,81.4 748.9,90.5 758.3,93.4" fill="none" stroke="#606060" stroke-width="0.90" marker-end="url(#ad)"/>
<path d="M647.5,105.2L650.5,117.2" fill="none" stroke="#606060" stroke-width="0.90" marker-end="url(#ad)"/>
<path d="M646.5,105.2L649.5,116.8" fill="none" stroke="#606060" stroke-width="0.90" marker-end="url(#ad)"/>
<path d="M673.8,110.9L661.8,113.2" fill="none" stroke="#606060" stroke-width="0.90" marker-end="url(#ad)"/>
<path d="M759.3,96.7C743.2,95.0 712.5,109.0 703.2,122.2" fill="none" stroke="#606060" stroke-width="0.90" marker-end="url(#ad)"/>
<path d="M630.6,89.8C697.2,45.3 847.3,137.8 837.4,217.3" fill="none" stroke="#606060" stroke-width="0.90" marker-end="url(#ad)"/>
<path d="M791.2,137.0L799.4,141.3" fill="none" stroke="#606060" stroke-width="0.90" marker-end="url(#ad)"/>
<path d="M791.2,136.0L799.0,140.3" fill="none" stroke="#606060" stroke-width="0.90" marker-end="url(#ad)"/>
<path d="M791.2,138.0L798.6,142.0" fill="none" stroke="#606060" stroke-width="0.90" marker-end="url(#ad)"/>
<path d="M680.7,169.8L653.6,162.2" fill="none" stroke="#606060" stroke-width="0.90" marker-end="url(#ad)"/>
<path d="M674.3,181.8L656.7,177.3" fill="none" stroke="#606060" stroke-width="0.90" marker-end="url(#ad)"/>
<path d="M656.7,177.3L680.5,184.0" fill="none" stroke="#606060" stroke-width="0.90" marker-end="url(#ad)"/>
<path d="M686.5,81.5C687.0,80.5 687.9,78.0 689.6,75.6C691.3,73.2 694.5,69.0 696.9,67.1C699.3,65.2 700.2,64.9 704.1,64.1C708.0,63.3 714.0,62.5 720.0,62.3C726.0,62.1 731.5,62.5 739.8,63.0C748.1,63.5 759.8,63.8 769.8,65.0C779.8,66.2 789.7,67.7 799.7,70.4C809.7,73.1 824.6,79.6 829.6,81.4" fill="none" stroke="#606060" stroke-width="0.9" marker-end="url(#ad)"/>
<path d="M686.5,81.5C687.0,80.4 687.9,77.7 689.6,75.1C691.3,72.5 694.5,68.1 696.9,66.1C699.3,64.1 700.2,63.9 704.1,63.1C708.0,62.3 714.0,61.5 720.0,61.3C726.0,61.1 731.5,61.5 739.8,62.0C748.1,62.5 759.8,62.8 769.8,64.0C779.8,65.2 789.7,66.7 799.7,69.4C809.7,72.1 824.6,78.6 829.6,80.4" fill="none" stroke="#606060" stroke-width="0.9" marker-end="url(#ad)"/>
<path d="M686.5,81.5C687.0,80.6 687.9,78.3 689.6,76.0C691.3,73.8 694.5,69.8 696.9,68.0C699.3,66.2 700.2,65.8 704.1,65.0C708.0,64.2 714.0,63.4 720.0,63.2C726.0,63.0 731.5,63.4 739.8,63.9C748.1,64.3 759.8,64.7 769.8,65.9C779.8,67.1 789.7,68.6 799.7,71.3C809.7,74.0 824.6,80.5 829.6,82.3" fill="none" stroke="#606060" stroke-width="0.9" marker-end="url(#ad)"/>
<path d="M686.5,81.5C687.0,80.6 687.9,78.2 689.6,75.8C691.3,73.5 694.5,69.5 696.9,67.6C699.3,65.7 700.2,65.4 704.1,64.6C708.0,63.8 714.0,63.0 720.0,62.8C726.0,62.6 731.5,63.0 739.8,63.5C748.1,64.0 759.8,64.3 769.8,65.5C779.8,66.7 795.0,69.8 800.0,70.7" fill="none" stroke="#606060" stroke-width="0.9" marker-end="url(#ad)"/>
<path d="M686.5,81.5C687.0,80.5 687.9,77.8 689.6,75.3C691.3,72.9 694.5,68.6 696.9,66.6C699.3,64.6 700.2,64.4 704.1,63.6C708.0,62.8 714.0,62.0 720.0,61.8C726.0,61.6 731.5,62.0 739.8,62.5C748.1,63.0 759.8,63.3 769.8,64.5C779.8,65.7 795.0,68.8 800.0,69.7" fill="none" stroke="#606060" stroke-width="0.9" marker-end="url(#ad)"/>
<path d="M656.4,218.0L655.7,222.6" fill="none" stroke="#cccccc" stroke-width="0.50"/>
<path d="M656.4,218.0L656.8,226.6" fill="none" stroke="#cccccc" stroke-width="0.50"/>
<path d="M660.8,222.6L656.8,226.6" fill="none" stroke="#cccccc" stroke-width="0.50"/>
<path d="M663.3,218.8L663.6,216.7" fill="none" stroke="#cccccc" stroke-width="0.50"/>
<path d="M660.5,230.7L667.8,225.9" fill="none" stroke="#cccccc" stroke-width="0.50"/>
<path d="M665.7,230.8L667.8,225.9" fill="none" stroke="#cccccc" stroke-width="0.50"/>
<path d="M665.6,230.8L667.6,225.9" fill="none" stroke="#cccccc" stroke-width="0.50"/>
<path d="M672.3,239.1L656.6,232.4" fill="none" stroke="#cccccc" stroke-width="0.50"/>
<path d="M656.6,232.4L657.6,240.5" fill="none" stroke="#cccccc" stroke-width="0.50"/>
<path d="M814.5,183.6L814.4,182.0" fill="none" stroke="#cccccc" stroke-width="0.50"/>
<path d="M814.5,183.6L815.2,185.4" fill="none" stroke="#cccccc" stroke-width="0.50"/>
<path d="M861.2,194.5L856.2,199.4" fill="none" stroke="#cccccc" stroke-width="0.50"/>
<path d="M660.8,222.6L655.7,222.6" fill="none" stroke="#929292" stroke-width="0.50"/>
<path d="M660.8,222.8L655.7,222.8" fill="none" stroke="#929292" stroke-width="0.50"/>
<path d="M660.8,222.6L660.5,230.7" fill="none" stroke="#929292" stroke-width="0.50"/>
<path d="M660.5,230.6L665.6,230.7" fill="none" stroke="#929292" stroke-width="0.50"/>
<path d="M656.6,232.4L672.3,239.1" fill="none" stroke="#929292" stroke-width="0.50"/>
<path d="M809.4,200.2L803.5,200.9" fill="none" stroke="#929292" stroke-width="0.50"/>
<path d="M660.8,222.6L663.6,216.7" fill="none" stroke="#606060" stroke-width="0.50"/>
<path d="M660.8,222.6L665.7,230.6" fill="none" stroke="#606060" stroke-width="0.50"/>
<path d="M660.5,230.7L665.6,231.0" fill="none" stroke="#606060" stroke-width="0.50"/>
<path d="M660.5,230.9L665.6,231.2" fill="none" stroke="#606060" stroke-width="0.50"/>
<path d="M660.5,230.7L662.9,232.1" fill="none" stroke="#606060" stroke-width="0.50"/>
<path d="M662.9,232.1L665.7,231.1" fill="none" stroke="#606060" stroke-width="0.50"/>
<path d="M665.7,231.1L660.7,230.6" fill="none" stroke="#606060" stroke-width="0.50"/>
<path d="M665.7,231.1L657.6,240.5" fill="none" stroke="#606060" stroke-width="0.50"/>
<path d="M662.9,232.1L672.3,239.1" fill="none" stroke="#606060" stroke-width="0.50"/>
<path d="M809.5,200.0L803.3,200.6" fill="none" stroke="#606060" stroke-width="0.50"/>
<path d="M809.5,200.0L804.5,201.1" fill="none" stroke="#606060" stroke-width="0.50"/>
<path d="M809.5,200.0L806.9,200.2" fill="none" stroke="#606060" stroke-width="0.50"/>
<path d="M809.5,200.0L802.8,203.1" fill="none" stroke="#606060" stroke-width="0.50"/>
<path d="M809.5,200.0L806.7,204.7" fill="none" stroke="#606060" stroke-width="0.50"/>
<path d="M850.5,192.4L868.6,204.7" fill="none" stroke="#606060" stroke-width="0.50"/>
<path d="M850.0,191.0L868.1,213.6" fill="none" stroke="#606060" stroke-width="0.50"/>
<path d="M850.4,192.3L868.1,213.3" fill="none" stroke="#606060" stroke-width="0.50"/>
<path d="M849.9,193.0L869.6,212.8" fill="none" stroke="#606060" stroke-width="0.50"/>
<path d="M849.8,192.1L869.4,214.4" fill="none" stroke="#606060" stroke-width="0.50"/>
<path d="M850.7,193.1L869.6,216.7" fill="none" stroke="#606060" stroke-width="0.50"/>
<path d="M850.4,190.9L868.9,218.3" fill="none" stroke="#606060" stroke-width="0.50"/>
<path d="M850.3,192.1L868.0,214.0" fill="none" stroke="#606060" stroke-width="0.50"/>
<path d="M849.9,193.1L869.4,215.6" fill="none" stroke="#606060" stroke-width="0.50"/>
<path d="M849.9,191.6L868.8,217.4" fill="none" stroke="#606060" stroke-width="0.50"/>
<path d="M850.7,192.7L869.1,213.9" fill="none" stroke="#606060" stroke-width="0.50"/>
<path d="M850.1,191.1L868.9,221.9" fill="none" stroke="#606060" stroke-width="0.50"/>
<path d="M850.3,192.5L870.0,222.3" fill="none" stroke="#606060" stroke-width="0.50"/>
<path d="M850.2,192.9L868.3,213.6" fill="none" stroke="#606060" stroke-width="0.50"/>
<path d="M849.8,192.1L868.2,213.3" fill="none" stroke="#606060" stroke-width="0.50"/>
<path d="M850.4,192.9L870.0,213.3" fill="none" stroke="#606060" stroke-width="0.50"/>
<path d="M850.3,191.1L869.7,214.8" fill="none" stroke="#606060" stroke-width="0.50"/>
<path d="M850.5,192.4L869.7,217.3" fill="none" stroke="#606060" stroke-width="0.50"/>
<path d="M850.1,193.2L868.2,218.7" fill="none" stroke="#606060" stroke-width="0.50"/>
<path d="M849.9,192.2L868.5,213.5" fill="none" stroke="#606060" stroke-width="0.50"/>
<path d="M850.6,192.9L868.9,215.6" fill="none" stroke="#606060" stroke-width="0.50"/>
<path d="M850.0,191.0L868.6,217.9" fill="none" stroke="#606060" stroke-width="0.50"/>
<path d="M850.2,192.2L869.1,214.2" fill="none" stroke="#606060" stroke-width="0.50"/>
<path d="M849.9,193.1L868.7,222.1" fill="none" stroke="#606060" stroke-width="0.50"/>
<path d="M850.0,192.1L870.0,221.8" fill="none" stroke="#606060" stroke-width="0.50"/>
<path d="M850.6,193.0L868.3,213.7" fill="none" stroke="#606060" stroke-width="0.50"/>
<path d="M850.0,191.0L868.3,213.3" fill="none" stroke="#606060" stroke-width="0.50"/>
<path d="M850.5,192.2L869.4,213.1" fill="none" stroke="#606060" stroke-width="0.50"/>
<path d="M850.0,193.1L869.9,214.9" fill="none" stroke="#606060" stroke-width="0.50"/>
<path d="M855.3,196.4L869.8,216.4" fill="none" stroke="#606060" stroke-width="0.50"/>
<path d="M856.4,199.6L868.8,218.8" fill="none" stroke="#606060" stroke-width="0.50"/>
<path d="M854.0,194.8L867.9,213.8" fill="none" stroke="#606060" stroke-width="0.50"/>
<path d="M855.1,196.0L869.1,215.3" fill="none" stroke="#606060" stroke-width="0.50"/>
<path d="M856.2,199.1L868.8,217.3" fill="none" stroke="#606060" stroke-width="0.50"/>
<path d="M853.9,194.8L868.8,214.2" fill="none" stroke="#606060" stroke-width="0.50"/>
<path d="M428.2,91.3h0M517.1,81.8h0M501.6,92.8h0M533.2,102.1h0M537.4,98.4h0M482.7,128.0h0M494.6,151.8h0M497.8,150.0h0M496.0,151.2h0M506.9,148.4h0M421.2,217.4h0M521.2,182.0h0M520.5,185.0h0M521.8,183.4h0M533.1,176.1h0M525.3,193.3h0M520.4,196.7h0M530.1,211.5h0M544.6,225.4h0M658.0,74.7h0M663.8,73.9h0M669.4,79.9h0M695.3,75.1h0M686.5,81.7h0M691.0,85.6h0M684.4,90.0h0M723.2,75.7h0M721.1,80.6h0M734.8,91.0h0M735.2,93.9h0M663.0,104.7h0M661.8,113.2h0M650.5,117.2h0M644.4,121.0h0M621.7,123.4h0M673.2,126.1h0M702.6,122.8h0M716.0,131.5h0M721.8,129.5h0M719.5,135.0h0M650.4,161.6h0M653.6,162.2h0M650.4,168.8h0M656.7,177.3h0M674.8,186.6h0M681.5,183.3h0M681.8,185.8h0M693.8,206.9h0M695.3,208.0h0M697.8,221.7h0M800.3,70.0h0M774.7,78.2h0M758.3,93.4h0M779.6,93.6h0M793.8,96.9h0M809.1,119.3h0M799.4,141.3h0M837.4,217.3h0M663.6,216.7h0M663.3,218.8h0M655.7,222.6h0M656.8,226.6h0M667.8,225.9h0M660.5,230.7h0M662.9,232.1h0M665.7,230.3h0M665.7,231.1h0M656.6,232.4h0M657.6,240.5h0M672.3,239.1h0M814.4,182.0h0M803.3,200.6h0M804.5,201.1h0M806.9,200.2h0M809.0,200.0h0M802.8,203.1h0M806.7,204.7h0M836.8,217.2h0M848.8,189.1h0M850.1,190.2h0M850.3,192.4h0M849.3,193.6h0M848.4,194.7h0M849.7,191.2h0M848.9,194.1h0M854.1,194.9h0M855.8,199.4h0M856.6,199.4h0M861.0,201.5h0M868.6,204.7h0M867.9,214.0h0M868.5,213.3h0M869.8,213.2h0M869.6,214.7h0M869.5,216.8h0M868.6,218.5h0M868.2,213.7h0M869.2,215.7h0M869.1,217.7h0M869.3,213.8h0M868.8,221.7h0M870.1,221.9h0" stroke="#295C8D" stroke-width="3.8" stroke-linecap="round" fill="none"/>
</g>
<rect x="641" y="209" width="44" height="47" fill="none" stroke="#1B9AD2" stroke-width="2"/>
<rect x="798" y="171" width="78.1" height="55" fill="none" stroke="#1B9AD2" stroke-width="2"/>
<g clip-path="url(#c1)"><path class="m" d="M594.5,252.9 597.1,263.0 600.4,265.2 603.1,268.1 602.4,276.1 602.4,284.8 603.7,295.7 603.7,300.8 598.4,308.1 591.8,314.6 584.6,317.5 578.7,320.4 574.7,326.9 568.1,332.7 564.8,334.9 564.8,340.0 567.5,346.5 568.8,350.9 569.4,364.0 567.5,369.0 556.9,373.4 551.7,376.3 550.3,379.2 552.3,385.0 551.0,392.3 547.0,399.5 541.8,404.6 539.8,407.5 535.2,415.5 529.9,419.9 522.7,427.1 519.4,430.0 512.1,434.4 504.9,437.3 498.9,438.7 489.7,438.0 481.1,438.7 473.2,440.2 467.3,443.1 462.7,440.9 457.4,440.2 456.8,436.6 453.5,430.0 456.1,424.9 453.5,415.5 448.2,406.8 444.2,398.1 439.0,391.5 435.7,383.6 433.7,374.1 431.1,364.7 431.1,355.2 427.1,348.7 423.1,340.0 419.2,330.6 414.6,322.6 413.3,316.0 413.3,308.8 415.2,300.8 417.2,292.1 420.5,284.8 424.5,280.5 426.4,271.8 426.4,265.9 422.5,258.0 422.5,254.3"/><g id="in1"><g fill="#FBE78A" fill-opacity="0.72"><circle cx="452.3" cy="319.1" r="5.2"/><circle cx="485.2" cy="322.0" r="5.2"/><circle cx="474.0" cy="337.0" r="5.2"/><circle cx="472.2" cy="345.6" r="5.2"/><circle cx="456.1" cy="352.3" r="5.2"/><circle cx="474.0" cy="368.4" r="5.2"/><circle cx="486.4" cy="374.3" r="5.2"/><circle cx="499.8" cy="369.1" r="5.2"/><circle cx="456.1" cy="374.7" r="5.2"/><circle cx="463.5" cy="407.7" r="5.2"/><circle cx="534.8" cy="401.9" r="5.2"/></g>
<path d="M452.3,319.1L450.0,337.0" fill="none" stroke="#cccccc" stroke-width="0.90" marker-end="url(#al)"/>
<path d="M452.3,319.1L456.1,352.3" fill="none" stroke="#cccccc" stroke-width="0.90" marker-end="url(#al)"/>
<path d="M474.0,337.0L456.1,352.3" fill="none" stroke="#cccccc" stroke-width="0.90" marker-end="url(#al)"/>
<path d="M485.2,322.0L485.9,314.2" fill="none" stroke="#cccccc" stroke-width="0.90" marker-end="url(#al)"/>
<path d="M474.5,368.7L508.1,349.6" fill="none" stroke="#cccccc" stroke-width="0.90" marker-end="url(#al)"/>
<path d="M499.8,369.1L508.1,349.6" fill="none" stroke="#cccccc" stroke-width="0.90" marker-end="url(#al)"/>
<path d="M499.2,369.1L507.3,349.6" fill="none" stroke="#cccccc" stroke-width="0.90" marker-end="url(#al)"/>
<path d="M534.8,401.9L456.1,375.2" fill="none" stroke="#cccccc" stroke-width="0.90" marker-end="url(#al)"/>
<path d="M456.1,375.2L463.5,407.7" fill="none" stroke="#cccccc" stroke-width="0.90" marker-end="url(#al)"/>
<path d="M474.0,337.0L450.0,337.0" fill="none" stroke="#929292" stroke-width="0.90" marker-end="url(#am)"/>
<path d="M474.0,337.6L450.0,337.6" fill="none" stroke="#929292" stroke-width="0.90" marker-end="url(#am)"/>
<path d="M474.0,337.0L474.5,368.7" fill="none" stroke="#929292" stroke-width="0.90" marker-end="url(#am)"/>
<path d="M474.5,368.0L499.0,368.5" fill="none" stroke="#929292" stroke-width="0.90" marker-end="url(#am)"/>
<path d="M456.1,375.2L534.8,401.9" fill="none" stroke="#929292" stroke-width="0.90" marker-end="url(#am)"/>
<path d="M474.0,337.0L485.9,314.2" fill="none" stroke="#606060" stroke-width="0.90" marker-end="url(#ad)"/>
<path d="M474.0,337.0L499.4,368.0" fill="none" stroke="#606060" stroke-width="0.90" marker-end="url(#ad)"/>
<path d="M474.5,368.7L499.4,369.6" fill="none" stroke="#606060" stroke-width="0.90" marker-end="url(#ad)"/>
<path d="M474.5,369.4L499.4,370.6" fill="none" stroke="#606060" stroke-width="0.90" marker-end="url(#ad)"/>
<path d="M474.5,368.7L486.8,374.1" fill="none" stroke="#606060" stroke-width="0.90" marker-end="url(#ad)"/>
<path d="M486.8,374.1L499.8,370.2" fill="none" stroke="#606060" stroke-width="0.90" marker-end="url(#ad)"/>
<path d="M499.8,370.2L475.5,368.0" fill="none" stroke="#606060" stroke-width="0.90" marker-end="url(#ad)"/>
<path d="M499.8,370.2L463.5,407.7" fill="none" stroke="#606060" stroke-width="0.90" marker-end="url(#ad)"/>
<path d="M486.8,374.1L534.8,401.9" fill="none" stroke="#606060" stroke-width="0.90" marker-end="url(#ad)"/>
<path d="M485.9,314.2h0M485.2,322.0h0M450.0,337.0h0M456.1,352.3h0M508.1,349.6h0M474.5,368.7h0M486.8,374.1h0M499.4,366.9h0M499.8,370.2h0M456.1,375.2h0M463.5,407.7h0M534.8,401.9h0" stroke="#295C8D" stroke-width="4.1" stroke-linecap="round" fill="none"/>
</g></g>
<g clip-path="url(#c2)"><path class="m" d="M609.6,293.0 611.3,287.9 615.2,284.5 619.2,286.8 624.8,284.5 628.8,277.7 629.9,277.4 633.3,280.6 634.4,286.2 635.5,291.3 633.3,297.0 630.4,293.0 628.8,298.7 628.2,301.0 620.9,297.0 622.0,290.8 617.5,290.8 616.9,289.6 614.1,290.8 609.6,293.6 609.6,293.0M558.8,314.9 564.2,307.0 570.1,304.4 573.5,301.6 576.3,298.4 580.0,293.0 583.1,295.3 585.3,299.0 594.1,303.3 588.1,306.1 590.4,307.8 584.8,309.2 585.3,314.1 587.0,320.3 592.7,327.1 586.5,328.3 584.2,332.8 584.2,337.4 580.3,340.2 577.4,344.2 578.6,351.0 575.7,353.5 568.1,356.4 567.3,352.7 558.8,351.0 552.1,352.7 551.5,349.6M574.9,382.5 577.4,379.4 579.7,380.5 578.6,383.4 574.9,382.5M580.0,381.1 584.8,380.5 588.7,380.2 592.7,380.0 592.7,382.5 588.1,383.1 581.4,384.2 580.0,381.1M597.2,380.8 601.7,380.0 607.3,381.1 614.1,378.8 615.2,380.5 609.6,382.8 602.8,383.1 597.5,382.5 597.2,380.8M592.7,386.2 597.7,385.6 603.1,389.6 599.4,391.0 592.7,387.9 592.7,386.2M618.0,391.6 621.1,385.9 626.5,381.9 632.1,381.1 639.5,380.5 635.5,383.9 628.8,386.5 623.1,390.5 618.0,391.6M630.7,377.1 636.7,376.0 636.7,378.0 631.3,378.0 630.7,377.1M622.6,380.0 627.1,379.1 625.4,380.8 622.6,380.0M660.3,378.0 664.3,373.4 664.6,376.8 660.9,378.2 660.3,378.0M677.8,368.0 680.6,363.8 682.1,368.6 679.5,372.0 677.8,368.0M671.1,362.9 672.5,362.9 672.2,366.3 671.1,362.9M597.2,328.0 598.6,328.5 603.4,325.1 609.6,326.8 616.6,327.4 622.8,326.0 627.1,323.2 627.6,324.9 623.7,330.3 616.9,331.1 608.5,330.3 601.7,330.0 598.9,332.8 598.9,337.9 603.9,341.0 607.3,337.6 617.2,338.2 616.9,338.8 609.6,342.5 606.8,343.6 611.3,349.6 611.3,351.3 616.3,355.5 613.0,357.8 614.4,360.4 610.1,360.4 606.8,358.9 607.3,356.1 603.4,353.0 604.2,348.1 600.0,349.6 600.8,354.1 600.3,360.4 600.8,364.6 596.0,364.6 595.2,363.5 595.5,358.4 596.0,355.5 595.2,352.7 591.5,350.4 591.8,347.6 594.4,340.5 596.6,337.4 597.5,332.2 597.2,328.0M613.0,359.2 615.8,358.4 616.3,362.9 613.2,364.9 613.0,359.2M640.9,322.0 643.4,320.3 642.9,326.6 647.4,324.0 647.4,326.6 644.5,328.3 648.5,331.4 645.1,330.8 642.9,330.3 646.0,337.6 642.9,334.5 641.4,327.7 640.0,326.8 640.9,322.0M644.5,320.9 646.8,318.0 647.4,320.9 644.5,320.9M639.5,335.1 642.9,335.1 641.2,337.6 639.5,335.1M639.8,341.0 644.0,341.3 641.7,342.5 639.8,341.0M623.1,342.5 631.6,343.0 633.8,343.0 628.8,343.9 623.1,342.5M632.1,350.7 636.1,350.1 639.2,351.8 637.8,354.7 633.3,353.5 632.1,350.7M643.1,349.8 646.8,349.0 652.2,348.7 657.0,349.8 659.5,352.7 654.7,352.7 649.1,352.1 644.5,352.1 643.1,349.8M653.0,343.0 657.0,342.5 657.2,344.5 653.6,344.2 653.0,343.0M656.4,333.7 660.1,332.8 662.0,334.5 659.2,334.8 656.4,333.7M658.1,338.2 660.9,338.2 660.3,340.2 658.4,339.9 658.1,338.2M685.2,336.8 689.1,337.9 690.5,339.6 687.4,339.6 685.2,336.8M685.4,342.2 693.6,342.7 689.7,343.6 685.4,342.2M661.8,337.6 666.0,335.1 669.9,334.8 673.9,336.8 677.5,337.6 678.4,340.8 677.8,344.2 680.1,348.7 681.2,351.6 685.7,351.8 688.5,348.1 690.2,345.9 693.6,345.3 695.9,342.5 699.3,341.0 704.1,343.3 710.0,346.2 715.0,347.3 718.4,348.1 724.4,350.7 731.7,353.0 736.8,354.7 739.3,357.2 743.8,362.3 747.5,364.6 751.1,366.6 754.0,367.5 755.4,370.3 750.6,371.1 750.9,372.9 754.0,376.8 756.8,378.5 759.0,383.4 763.6,383.9 763.0,387.1 767.5,387.6 766.4,389.6 772.6,391.0 770.0,391.3 771.2,393.0 767.5,393.0 764.7,391.6 759.0,390.7 755.1,389.9 751.4,386.5 748.3,383.4 744.9,378.5 743.5,378.0 741.0,377.4 738.2,376.0 736.5,375.4 734.8,376.3 733.1,377.7 731.4,378.8 729.7,380.0 730.6,381.7 728.6,383.9 725.2,385.3 720.1,385.1 716.7,384.5 713.1,381.1 708.3,379.4 705.5,378.8 703.2,380.2 698.1,380.5 699.8,375.4 704.3,373.7 704.9,372.0 703.2,370.3 702.6,366.3 700.4,364.0 697.6,362.3 694.2,360.6 688.5,358.7 684.0,358.1 680.6,356.1 678.4,355.0 675.6,353.5 673.9,355.5 671.1,356.1 670.2,353.5 667.7,349.6 665.7,348.7 669.4,348.4 674.4,347.0 676.7,345.9 675.0,345.0 670.5,345.6 666.5,344.7 664.9,341.9 660.1,340.5 660.3,338.5 661.8,337.6M758.2,363.8 761.9,364.0 765.2,364.0 767.5,361.2 768.3,364.3 772.6,364.0 774.8,361.2 776.5,360.9 777.1,356.7 778.8,356.4 779.9,356.7 781.0,357.5 779.9,360.6 778.8,361.2 779.3,363.8 776.0,364.6 773.1,366.9 768.6,368.6 765.2,368.6 762.1,367.7 758.5,365.8 758.2,363.8M772.0,347.6 776.0,349.8 779.9,352.7 782.2,354.7 785.0,357.2 784.4,359.5 783.6,360.4 782.7,357.8 781.0,355.2 778.2,352.1 774.3,349.6 772.0,347.6M766.9,346.7 770.0,346.4 769.8,347.9 767.5,347.9 766.9,346.7M748.0,344.2 750.6,343.9 752.8,344.5 750.6,345.3 748.0,345.0 748.0,344.2M754.8,364.0 756.8,364.3 756.2,366.0 755.1,365.5 754.8,364.0M744.1,358.7 745.2,358.9 744.7,359.8 744.1,358.7M793.4,361.2 795.7,363.5 799.1,368.0 801.1,371.4 798.0,371.7 796.5,369.7 794.3,366.6 793.7,363.8 793.4,361.2M803.6,370.3 807.0,372.0 810.1,374.3 808.7,374.8 804.7,372.6 803.6,370.3M808.1,378.2 811.5,378.2 813.2,381.4 809.8,381.7 808.1,378.2M813.2,374.8 817.1,376.8 822.8,380.2 822.2,381.4 817.7,379.4 813.7,376.5 813.2,374.8M821.6,385.6 825.6,385.9 828.7,388.2 826.7,389.3 822.8,388.5 821.6,385.6M827.3,380.0 829.5,381.7 832.4,387.3 830.7,387.1 828.1,383.4 827.3,380.0M831.2,390.7 834.6,391.9 837.4,394.2 834.1,393.9 831.2,390.7M768.1,385.3 769.5,385.3 769.5,386.8 768.3,386.8 768.1,385.3M770.0,386.5 772.6,386.2 772.6,387.9 770.3,387.9 770.0,386.5M772.0,389.0 773.7,389.3 774.6,390.7 773.1,390.5 772.0,389.0M772.9,380.8 774.0,381.1 773.7,382.2 772.9,380.8M781.6,384.2 784.4,384.5 783.3,385.3 781.6,384.2M782.4,393.3 783.9,393.3 783.3,393.9 782.4,393.3M785.5,397.6 788.4,398.1 787.2,399.0 785.5,397.6M860.8,416.0 863.9,417.7 864.8,420.8 862.3,421.7 861.1,419.1 860.8,416.0M864.2,423.1 866.2,424.3 867.9,426.5 865.6,426.8 864.2,423.1M869.9,432.8 872.1,433.1 871.3,434.2 869.9,432.8M874.4,439.0 876.4,439.3 875.8,440.7 874.4,439.0M876.1,443.0 877.2,443.3 876.9,444.4 876.1,443.0M868.5,424.8 870.7,425.1 869.6,425.7 868.5,424.8M869.6,420.6 870.4,420.8 870.1,423.7 869.6,420.6M846.2,446.7 851.5,449.0 857.2,453.2 863.1,458.3 863.1,460.0 857.7,457.8 852.1,453.8 847.0,449.2 846.2,446.7M863.4,451.0 865.6,451.0 865.1,452.7 863.4,451.0M725.2,393.6 726.9,397.0 729.7,403.2 731.4,411.2 736.5,413.5 741.0,417.7 741.6,425.4 744.9,431.1 746.1,437.9 750.6,442.4 757.3,446.4 761.3,449.8 763.6,454.4 766.4,460.0 772.0,461.2 772.6,466.9 778.2,469.7 783.9,476.5 785.0,481.6M560.5,481.1 563.9,479.4 561.1,472.0 562.8,465.7 563.3,460.6 565.6,456.6 571.8,454.9 579.7,449.8 588.1,448.1 593.2,446.1 603.4,444.4 609.0,437.9 610.7,431.1 615.2,426.5 618.6,431.6 618.6,424.3 623.1,425.4 624.2,419.7 630.4,414.6 637.2,411.2 644.0,416.9 645.7,416.9 652.4,417.4 651.3,411.8 655.8,406.6 659.2,403.2 665.4,402.4 669.4,401.5 669.4,398.1 664.9,397.0 671.6,397.6 679.5,401.0 687.4,401.0 693.6,402.1 691.9,407.8 688.0,410.6 685.7,416.9 691.4,422.6 698.1,425.4 706.6,431.6 711.1,433.3 716.2,431.1 719.0,424.3 720.7,416.9 720.1,407.8 721.8,401.5 722.9,395.3 725.2,393.6M655.3,398.7 658.1,397.0 663.2,397.6 660.3,400.4 657.0,399.8 655.3,398.7M690.8,411.2 693.6,411.2 693.1,414.0 690.8,412.9 690.8,411.2"/><g id="in2"><g fill="#FBE78A" fill-opacity="0.72"><circle cx="640.1" cy="331.5" r="5.3"/><circle cx="624.0" cy="379.8" r="5.3"/><circle cx="778.5" cy="350.4" r="5.3"/><circle cx="777.4" cy="357.9" r="5.3"/><circle cx="802.9" cy="368.5" r="5.3"/><circle cx="825.6" cy="363.8" r="5.3"/></g>
<path d="M640.1,331.5L639.9,327.0" fill="none" stroke="#cccccc" stroke-width="0.90" marker-end="url(#al)"/>
<path d="M640.1,331.5L643.0,337.0" fill="none" stroke="#cccccc" stroke-width="0.90" marker-end="url(#al)"/>
<path d="M825.6,363.8L808.2,378.0" fill="none" stroke="#cccccc" stroke-width="0.90" marker-end="url(#al)"/>
<path d="M624.0,380.6L601.0,382.6" fill="none" stroke="#929292" stroke-width="0.90" marker-end="url(#am)"/>
<path d="M624.0,379.8L599.7,381.6" fill="none" stroke="#606060" stroke-width="0.90" marker-end="url(#ad)"/>
<path d="M624.0,379.8L604.9,383.1" fill="none" stroke="#606060" stroke-width="0.90" marker-end="url(#ad)"/>
<path d="M624.0,379.8L613.8,380.4" fill="none" stroke="#606060" stroke-width="0.90" marker-end="url(#ad)"/>
<path d="M624.0,379.8L599.3,389.0" fill="none" stroke="#606060" stroke-width="0.90" marker-end="url(#ad)"/>
<path d="M624.0,379.8L615.6,393.9" fill="none" stroke="#606060" stroke-width="0.90" marker-end="url(#ad)"/>
<path d="M783.0,357.5L860.8,393.9" fill="none" stroke="#606060" stroke-width="0.90" marker-end="url(#ad)"/>
<path d="M780.6,353.3L867.0,420.2" fill="none" stroke="#606060" stroke-width="0.68" marker-end="url(#ad)"/>
<path d="M782.6,357.2L866.9,419.4" fill="none" stroke="#606060" stroke-width="0.68" marker-end="url(#ad)"/>
<path d="M780.6,359.4L872.0,417.8" fill="none" stroke="#606060" stroke-width="0.68" marker-end="url(#ad)"/>
<path d="M779.8,356.7L873.2,422.8" fill="none" stroke="#606060" stroke-width="0.68" marker-end="url(#ad)"/>
<path d="M783.8,359.4L876.9,429.7" fill="none" stroke="#606060" stroke-width="0.68" marker-end="url(#ad)"/>
<path d="M782.0,353.1L876.1,434.3" fill="none" stroke="#606060" stroke-width="0.68" marker-end="url(#ad)"/>
<path d="M781.8,356.7L866.9,421.4" fill="none" stroke="#606060" stroke-width="0.68" marker-end="url(#ad)"/>
<path d="M780.9,359.7L874.4,426.1" fill="none" stroke="#606060" stroke-width="0.68" marker-end="url(#ad)"/>
<path d="M780.1,355.1L874.5,431.6" fill="none" stroke="#606060" stroke-width="0.68" marker-end="url(#ad)"/>
<path d="M783.9,358.4L871.4,421.3" fill="none" stroke="#606060" stroke-width="0.68" marker-end="url(#ad)"/>
<path d="M780.9,353.6L881.2,445.4" fill="none" stroke="#606060" stroke-width="0.68" marker-end="url(#ad)"/>
<path d="M782.0,357.6L886.1,446.4" fill="none" stroke="#606060" stroke-width="0.68" marker-end="url(#ad)"/>
<path d="M782.0,359.1L867.9,420.4" fill="none" stroke="#606060" stroke-width="0.68" marker-end="url(#ad)"/>
<path d="M779.8,356.5L867.2,419.4" fill="none" stroke="#606060" stroke-width="0.68" marker-end="url(#ad)"/>
<path d="M782.6,358.8L874.1,419.2" fill="none" stroke="#606060" stroke-width="0.68" marker-end="url(#ad)"/>
<path d="M781.8,353.6L874.9,423.9" fill="none" stroke="#606060" stroke-width="0.68" marker-end="url(#ad)"/>
<path d="M782.7,357.4L877.7,431.3" fill="none" stroke="#606060" stroke-width="0.68" marker-end="url(#ad)"/>
<path d="M781.4,359.8L873.7,435.5" fill="none" stroke="#606060" stroke-width="0.68" marker-end="url(#ad)"/>
<path d="M780.3,357.0L868.5,419.9" fill="none" stroke="#606060" stroke-width="0.68" marker-end="url(#ad)"/>
<path d="M783.3,358.8L872.6,426.4" fill="none" stroke="#606060" stroke-width="0.68" marker-end="url(#ad)"/>
<path d="M780.3,353.2L874.5,433.3" fill="none" stroke="#606060" stroke-width="0.68" marker-end="url(#ad)"/>
<path d="M781.8,357.0L871.7,422.1" fill="none" stroke="#606060" stroke-width="0.68" marker-end="url(#ad)"/>
<path d="M780.7,359.4L880.4,446.0" fill="none" stroke="#606060" stroke-width="0.68" marker-end="url(#ad)"/>
<path d="M780.6,356.7L885.3,445.0" fill="none" stroke="#606060" stroke-width="0.68" marker-end="url(#ad)"/>
<path d="M783.2,359.3L867.9,420.5" fill="none" stroke="#606060" stroke-width="0.68" marker-end="url(#ad)"/>
<path d="M780.4,353.5L867.4,419.4" fill="none" stroke="#606060" stroke-width="0.68" marker-end="url(#ad)"/>
<path d="M782.7,357.0L871.8,418.8" fill="none" stroke="#606060" stroke-width="0.68" marker-end="url(#ad)"/>
<path d="M781.2,359.6L875.7,424.2" fill="none" stroke="#606060" stroke-width="0.68" marker-end="url(#ad)"/>
<path d="M803.0,369.2L877.2,428.7" fill="none" stroke="#606060" stroke-width="0.68" marker-end="url(#ad)"/>
<path d="M809.0,378.6L876.1,435.8" fill="none" stroke="#606060" stroke-width="0.68" marker-end="url(#ad)"/>
<path d="M797.4,364.5L866.3,420.9" fill="none" stroke="#606060" stroke-width="0.68" marker-end="url(#ad)"/>
<path d="M802.1,368.1L873.1,425.5" fill="none" stroke="#606060" stroke-width="0.68" marker-end="url(#ad)"/>
<path d="M807.9,377.1L874.3,431.5" fill="none" stroke="#606060" stroke-width="0.68" marker-end="url(#ad)"/>
<path d="M796.8,364.4L870.6,422.1" fill="none" stroke="#606060" stroke-width="0.68" marker-end="url(#ad)"/>
<path d="M639.9,327.0h0M599.7,381.6h0M604.9,383.1h0M613.8,380.4h0M622.2,379.8h0M599.3,389.0h0M615.6,393.9h0M745.6,431.0h0M775.3,347.7h0M780.6,350.9h0M782.1,357.4h0M778.5,361.0h0M775.3,364.2h0M779.5,354.0h0M777.0,362.5h0M797.6,364.7h0M806.5,378.0h0M809.8,378.0h0M828.3,384.4h0M860.8,393.9h0M866.5,421.5h0M868.2,419.4h0M873.3,419.0h0M874.3,423.6h0M876.7,430.0h0M875.0,434.9h0M867.5,420.5h0M874.0,426.5h0M875.8,432.5h0M872.0,421.0h0M880.3,444.8h0M886.0,445.3h0" stroke="#295C8D" stroke-width="4.1" stroke-linecap="round" fill="none"/>
</g></g>
<rect x="407.0" y="296.0" width="169.3" height="157.5" fill="none" stroke="#1B9AD2" stroke-width="2"/>
<rect x="584.2" y="296.0" width="309.8" height="157.5" fill="none" stroke="#1B9AD2" stroke-width="2"/>
</g>
<g id="panelC">
<text x="380.1" y="501.9" class="b t16">C</text>
<use href="#world" class="m" transform="translate(631.7,620.5) scale(0.99)"/>
<g id="cpoints"><path d="M456.3,514.0h0M471.9,510.4h0M458.0,511.7h0M455.7,508.8h0M465.6,509.7h0M477.6,509.0h0M460.9,512.2h0M454.5,513.8h0M470.2,502.8h0M482.6,505.2h0M461.4,503.1h0M480.3,504.9h0M451.4,512.8h0M470.7,503.7h0M474.2,512.2h0M477.8,511.5h0M475.8,516.5h0M477.3,513.7h0M475.1,510.5h0M476.3,526.6h0M479.9,519.6h0M483.5,522.2h0M478.4,520.5h0M484.1,516.1h0M478.5,518.4h0M483.5,521.2h0M483.9,525.6h0M480.5,521.7h0M475.9,526.3h0M485.0,518.0h0M481.8,518.1h0M485.8,523.1h0M480.5,517.0h0M482.7,521.7h0M480.6,524.3h0M483.9,524.2h0M484.7,519.7h0M481.6,525.2h0M480.9,521.0h0M476.7,527.9h0M480.3,519.2h0M481.4,523.3h0M483.2,522.2h0M471.9,540.0h0M480.3,529.0h0M481.0,532.6h0M478.8,540.0h0M476.6,538.0h0M474.5,538.1h0M480.1,529.2h0M483.4,529.9h0M477.4,539.9h0M471.5,539.3h0M479.2,537.4h0M473.4,540.2h0M479.8,536.1h0M472.5,539.9h0M471.1,538.5h0M475.8,533.2h0M480.9,528.3h0M480.0,532.2h0M477.5,533.8h0M478.2,538.4h0M479.2,533.0h0M478.3,538.3h0M473.4,540.1h0M483.0,529.6h0M479.4,530.3h0M475.9,540.2h0M474.1,539.8h0M474.9,533.3h0M479.5,539.1h0M473.8,537.6h0M477.5,531.1h0M475.5,533.0h0M479.9,528.1h0M486.7,529.0h0M482.7,533.4h0M483.7,532.4h0M476.7,531.3h0M477.8,540.2h0M477.6,530.6h0M481.4,533.4h0M472.3,537.0h0M479.7,528.3h0M473.1,537.4h0M474.1,534.7h0M474.5,538.4h0M477.3,532.4h0M476.1,536.6h0M477.8,530.5h0M474.1,536.0h0M478.5,531.3h0M480.9,528.3h0M477.3,533.5h0M474.0,534.9h0M474.1,537.3h0M479.9,531.7h0M475.9,535.9h0M480.3,528.6h0M478.1,532.3h0M480.0,528.8h0M477.8,531.4h0M475.3,535.3h0M476.4,533.1h0M475.0,535.7h0M480.0,529.7h0M471.6,550.3h0M474.1,544.8h0M474.6,547.4h0M476.0,548.6h0M472.2,546.0h0M472.3,554.4h0M471.4,545.2h0M476.0,543.1h0M468.5,550.5h0M474.2,544.6h0M468.4,546.6h0M470.4,554.5h0M476.2,541.8h0M470.3,551.7h0M471.2,549.3h0M467.7,550.5h0M468.8,544.2h0M470.7,545.5h0M474.9,542.0h0M470.7,554.9h0M471.0,553.2h0M473.6,553.3h0M470.4,548.8h0M475.0,547.0h0M473.2,551.7h0M474.8,544.4h0M470.5,555.0h0M472.8,546.1h0M475.9,541.2h0M474.2,551.8h0M469.8,553.1h0M467.5,545.5h0M472.4,548.6h0M471.1,542.8h0M471.6,556.4h0M471.5,553.2h0M469.7,547.3h0M472.5,548.4h0M475.4,544.6h0M472.8,541.5h0M470.5,547.8h0M472.0,554.8h0M473.0,547.7h0M475.6,541.4h0M469.5,545.2h0M469.5,550.9h0M469.9,541.7h0M471.2,554.0h0M473.0,547.2h0M473.0,550.1h0M473.4,543.5h0M474.4,546.3h0M469.4,544.7h0M471.4,542.6h0M470.7,543.2h0M469.3,549.2h0M469.1,545.8h0M468.4,545.2h0M470.6,542.6h0M472.2,545.9h0M474.3,542.0h0M468.6,548.2h0M472.8,542.2h0M469.0,547.3h0M472.9,545.1h0M469.5,547.4h0M468.6,548.5h0M469.4,546.4h0M468.0,547.5h0M469.0,546.5h0M468.5,547.2h0M469.4,545.4h0M469.8,544.5h0M470.9,542.5h0M469.6,544.9h0M469.9,547.3h0M470.8,545.6h0M470.3,546.9h0M468.4,548.9h0M468.7,546.8h0M470.6,544.3h0M469.7,544.1h0M471.2,543.2h0M470.3,545.6h0M470.6,540.9h0M471.9,542.6h0M471.3,545.5h0M469.5,544.4h0M469.8,544.1h0M469.6,544.7h0M469.5,547.8h0M471.8,545.5h0M480.7,548.7h0M486.8,543.8h0M480.8,550.7h0M471.6,556.1h0M489.9,548.3h0M470.4,552.9h0M482.5,543.4h0M479.8,548.6h0M475.0,552.8h0M475.9,544.3h0M483.0,545.2h0M478.9,557.3h0M475.1,552.9h0M485.1,552.4h0M492.4,544.0h0M484.9,548.9h0M483.3,552.5h0M477.1,542.9h0M478.1,550.3h0M482.3,554.8h0M481.1,550.2h0M485.2,549.6h0M483.8,547.9h0M485.1,552.1h0M486.7,551.4h0M481.8,554.0h0M481.9,557.9h0M480.7,554.8h0M487.4,549.3h0M482.3,552.9h0M488.3,551.2h0M487.9,551.9h0M487.8,547.3h0M483.9,549.8h0M494.4,531.2h0M496.4,530.1h0M481.0,537.7h0M487.7,537.6h0M494.4,531.8h0M494.9,529.5h0" stroke="#2176C7" stroke-width="2.4" stroke-linecap="round" fill="none"/>
<path d="M520.9,503.7h0M493.8,520.9h0M512.7,504.0h0M504.4,516.7h0M490.7,508.4h0M493.6,514.2h0M521.2,516.4h0M506.7,516.0h0M496.0,514.3h0M492.4,521.4h0M547.0,518.6h0M558.6,524.4h0M530.7,520.0h0M558.6,513.8h0M542.2,529.9h0M524.5,529.0h0M547.4,514.4h0M533.1,529.7h0M552.2,512.1h0M542.0,518.5h0M485.0,537.3h0M504.2,527.9h0M497.6,527.3h0M501.1,532.6h0M492.6,529.9h0M487.4,535.3h0M512.5,526.6h0M506.7,539.8h0M508.5,534.3h0M494.4,526.1h0M515.4,524.7h0M491.1,539.2h0M511.7,529.6h0M511.9,529.3h0M513.5,529.2h0M511.5,525.6h0M501.5,525.7h0M501.6,524.9h0M500.9,530.9h0M483.0,536.9h0M486.4,543.6h0M490.2,538.5h0M484.6,538.6h0M504.6,539.4h0M509.3,524.4h0M487.8,529.6h0M484.5,540.0h0M498.3,525.7h0M503.8,541.9h0M501.4,542.1h0M500.7,524.2h0M504.1,541.5h0M498.9,535.3h0M507.0,526.8h0M511.2,538.1h0M510.9,551.5h0M497.5,550.9h0M508.5,542.2h0M514.3,541.6h0M510.1,543.8h0M508.6,547.3h0M512.1,539.8h0M514.2,541.8h0M506.7,553.2h0M503.8,546.3h0M501.6,550.9h0M507.6,539.8h0M506.8,538.1h0M512.2,537.3h0M530.9,532.4h0M510.1,542.0h0M514.7,535.2h0M514.0,537.7h0M516.4,542.2h0M520.8,537.1h0M524.9,538.5h0M512.9,538.7h0M525.5,543.8h0M521.5,543.5h0M530.7,540.8h0M522.2,542.4h0M527.3,531.8h0M535.6,531.9h0M530.3,543.7h0M535.9,541.5h0M535.3,542.0h0M537.2,537.4h0M533.6,543.9h0M534.5,537.5h0M537.4,539.8h0M541.0,536.3h0M541.3,537.2h0M538.1,535.1h0M536.6,540.0h0M533.6,535.0h0M534.0,539.7h0M531.2,539.1h0M537.1,538.5h0M534.1,539.3h0M539.1,533.1h0M531.1,535.2h0M542.0,536.6h0M528.7,550.4h0M529.3,545.4h0M532.6,543.4h0M525.5,554.2h0M526.9,550.3h0M530.4,546.8h0M528.4,548.9h0M526.6,548.8h0M529.2,545.1h0M527.1,549.4h0M521.8,545.6h0M526.1,551.7h0M521.6,548.9h0M529.8,546.4h0M523.9,548.3h0M523.3,547.4h0M522.2,555.9h0M527.4,545.4h0M505.9,562.0h0M501.5,561.6h0M517.0,555.0h0M501.8,560.3h0M498.1,558.6h0M520.4,554.7h0M516.9,563.1h0M519.8,552.8h0M518.7,552.0h0M513.7,557.7h0M505.4,553.2h0M509.4,560.0h0M495.3,563.8h0M511.9,560.4h0M497.7,560.2h0M508.2,553.6h0M505.5,562.4h0M516.5,555.7h0M510.5,553.0h0M504.8,559.2h0M497.5,555.4h0M512.5,552.4h0M495.0,558.9h0M505.7,558.9h0M497.8,554.0h0M496.9,556.1h0M502.7,558.8h0M514.9,561.5h0M507.0,560.7h0M510.6,557.3h0M505.6,560.8h0M519.3,557.5h0M509.2,560.6h0M513.8,558.7h0M509.5,560.2h0M496.7,561.7h0M507.2,558.4h0M513.2,561.1h0M515.9,558.6h0M506.5,557.2h0M504.3,560.3h0M500.7,560.2h0M552.1,535.1h0M549.0,536.5h0M549.3,535.3h0M546.8,533.0h0M546.0,534.4h0M581.7,511.4h0M576.3,506.5h0M591.5,505.6h0M550.9,532.9h0M547.2,534.5h0" stroke="#FF0D1A" stroke-width="2.4" stroke-linecap="round" fill="none"/>
<path d="M472.7,566.5h0M481.5,572.0h0M484.4,561.2h0M479.1,573.1h0M476.0,563.3h0M477.9,562.1h0M478.0,564.4h0M476.8,567.5h0M478.2,568.3h0M479.4,571.9h0M471.0,559.6h0M481.7,561.5h0M480.0,568.0h0M485.1,560.7h0M482.9,558.3h0M482.8,565.3h0M475.0,560.5h0M480.8,558.5h0M480.6,570.4h0M480.9,575.1h0M488.0,581.4h0M491.9,571.7h0M486.5,575.1h0M482.0,577.8h0M481.2,577.4h0M481.9,574.2h0M485.6,577.9h0M485.8,569.9h0M493.6,569.6h0M483.0,581.6h0M482.6,579.5h0M492.5,587.0h0M487.2,584.7h0M490.8,583.2h0M488.4,584.8h0M484.1,580.1h0M492.0,582.0h0M481.8,580.9h0M488.7,581.0h0M490.1,583.0h0M485.7,579.8h0M482.5,581.6h0M492.7,586.8h0M485.9,583.2h0M485.4,583.2h0M484.9,582.7h0M493.1,584.7h0M483.3,580.6h0M482.7,583.0h0M492.5,584.7h0M483.7,579.2h0M490.3,584.4h0M483.9,580.4h0M491.8,587.3h0M492.9,584.7h0M490.7,585.2h0M481.8,578.9h0M485.5,583.7h0M482.2,583.5h0M484.1,578.6h0M488.0,581.0h0M483.6,585.1h0M492.4,587.4h0M490.2,587.5h0M486.0,583.2h0M485.5,579.8h0M485.0,583.6h0M485.3,578.2h0M487.6,584.3h0M484.1,581.2h0M492.1,584.8h0M489.7,586.3h0M488.8,586.3h0M492.3,586.2h0M490.7,585.7h0M489.2,587.9h0M488.5,584.9h0M491.4,587.2h0M486.7,586.8h0M490.5,584.8h0M488.8,586.2h0M487.4,587.2h0M491.5,587.3h0M490.2,584.0h0M489.8,587.3h0M489.2,585.9h0M489.2,586.4h0M491.7,585.8h0M491.8,585.7h0M489.9,585.2h0M492.9,587.3h0M490.7,583.3h0M490.1,586.3h0M489.7,586.2h0M490.4,582.8h0M489.0,585.8h0M490.8,585.3h0M490.4,588.1h0M491.5,587.5h0M492.9,585.4h0M492.0,585.7h0M492.4,584.9h0M491.0,585.9h0M489.8,588.3h0M490.2,584.8h0M488.6,586.7h0M488.5,585.9h0M489.9,586.3h0M492.5,584.4h0M491.1,587.0h0M491.5,585.6h0M491.6,587.3h0M492.4,586.5h0M492.9,584.7h0M492.6,584.8h0M493.3,586.3h0M490.9,587.6h0M491.6,585.9h0M492.0,588.2h0M489.3,586.7h0M487.3,585.9h0M493.7,584.4h0M493.0,585.2h0M493.9,586.0h0M489.8,584.7h0M493.0,585.7h0M491.9,586.3h0M490.8,586.9h0M493.0,585.8h0M490.4,584.1h0M491.3,586.0h0M489.8,584.8h0M490.6,585.6h0M491.8,585.4h0M492.5,585.6h0M492.5,586.0h0M490.3,585.9h0M492.7,586.0h0M490.0,587.1h0M489.7,586.5h0M487.4,585.7h0M491.4,584.9h0M491.4,586.9h0M490.4,586.8h0M490.4,583.9h0M491.2,587.1h0M489.2,585.6h0M491.2,585.1h0M491.3,587.8h0M491.4,587.8h0M485.9,584.4h0M488.5,580.4h0M486.9,581.3h0M486.4,578.8h0M492.9,583.4h0M485.8,582.8h0M486.6,581.3h0M491.6,583.2h0M487.7,584.4h0M484.1,582.1h0M489.8,584.2h0M490.2,583.1h0M488.7,584.4h0M483.5,583.4h0M483.8,581.3h0M488.3,577.6h0M487.1,583.5h0M486.5,583.7h0M488.6,581.8h0M483.1,580.6h0M488.2,580.2h0M486.4,582.0h0M486.6,583.8h0M491.8,581.4h0M497.8,590.2h0M496.3,589.2h0M496.8,590.9h0M497.6,590.1h0M499.9,591.0h0M495.4,587.7h0M497.5,591.1h0M500.4,588.3h0M494.7,588.0h0M500.4,586.9h0M498.4,590.6h0M498.2,587.2h0M497.7,587.6h0M495.9,590.0h0M499.1,588.6h0M498.7,592.6h0M500.5,588.0h0M499.5,591.3h0M500.2,590.2h0M496.0,589.3h0M498.9,589.7h0M496.6,586.3h0M497.0,591.0h0M497.2,589.9h0M498.2,589.2h0M498.3,590.4h0M496.9,588.5h0M497.5,590.3h0M499.0,589.6h0M496.1,590.3h0M499.4,588.9h0M498.0,586.8h0M497.7,590.0h0M498.2,590.3h0M496.4,588.5h0M498.8,589.5h0M498.9,590.6h0M498.8,586.7h0M499.8,590.9h0M498.0,591.0h0M498.6,590.9h0M497.4,587.5h0M496.0,590.9h0M499.0,592.2h0M498.3,586.7h0M500.5,584.0h0M502.6,586.0h0M504.1,581.4h0M500.5,588.1h0M501.5,589.8h0M499.9,584.6h0M503.0,586.8h0M501.2,589.0h0M502.3,594.0h0M507.1,590.7h0M497.9,591.5h0M509.1,592.3h0M500.8,589.2h0M499.3,592.6h0M502.4,589.7h0M508.0,591.7h0M501.3,592.8h0M498.4,590.0h0M506.7,594.9h0M497.4,589.7h0M507.9,592.4h0M502.8,590.6h0M508.8,592.4h0M508.4,596.9h0M503.7,591.4h0M507.8,593.3h0M504.7,594.9h0M506.4,592.4h0M499.5,590.5h0M508.2,598.1h0M508.3,603.4h0M511.2,603.9h0M506.3,598.8h0M505.1,599.5h0M511.1,603.4h0M505.8,600.7h0M510.5,603.8h0M508.7,603.1h0M516.4,604.3h0M505.8,599.4h0M515.2,602.2h0M511.9,603.9h0M511.8,604.2h0M509.6,601.9h0M507.2,601.4h0M511.2,604.0h0M515.9,603.0h0M511.2,603.2h0M506.7,600.0h0M514.7,602.3h0M516.9,603.9h0M505.9,601.1h0M508.9,602.1h0M506.4,600.7h0M507.9,599.1h0M507.2,600.8h0M510.9,602.9h0M509.9,602.6h0M507.5,600.7h0M517.5,570.3h0M519.1,584.5h0M526.6,582.8h0M530.2,583.2h0M535.4,584.3h0M541.8,588.6h0M542.0,590.2h0M542.2,592.6h0M541.7,594.1h0M542.4,591.4h0M541.0,596.1h0M518.9,577.3h0" stroke="#339933" stroke-width="2.4" stroke-linecap="round" fill="none"/>
<path d="M525.5,607.6h0M524.1,616.9h0M515.4,615.5h0M525.1,622.4h0M528.5,622.1h0M530.8,617.5h0M527.2,615.6h0M519.9,627.5h0M525.8,628.8h0M522.8,617.1h0M519.2,622.2h0M523.9,601.4h0M529.3,620.4h0M525.5,609.7h0M528.1,609.8h0M514.7,625.8h0M529.2,621.8h0M524.9,628.8h0M525.0,621.0h0M514.4,630.0h0M518.2,613.5h0M528.6,629.5h0M523.6,619.4h0M525.9,607.3h0M515.1,622.3h0M531.1,608.6h0M520.7,625.4h0M521.6,613.0h0M527.3,601.4h0M521.0,609.1h0M521.3,615.7h0M527.6,606.0h0M514.9,629.8h0M520.3,620.0h0M523.2,599.3h0M519.4,623.0h0M522.0,619.5h0M521.7,613.1h0M516.1,605.5h0M526.5,605.6h0M522.2,624.7h0M528.9,601.7h0M531.6,606.6h0M515.9,620.8h0M527.4,629.2h0M519.1,617.7h0M529.5,629.6h0M519.1,609.5h0M513.4,620.3h0M528.2,615.1h0M528.3,622.4h0M527.7,625.3h0M526.5,604.4h0M514.6,621.2h0M520.8,601.3h0M514.8,616.9h0M533.4,627.5h0M532.7,628.1h0M524.3,615.7h0M527.1,621.1h0M523.5,601.9h0M515.3,624.8h0M518.0,612.7h0M519.6,615.0h0M514.6,620.5h0M513.5,626.5h0M526.7,612.1h0M522.8,629.7h0M528.7,627.3h0M527.4,617.1h0M519.6,619.6h0M518.0,616.0h0M522.7,620.9h0M517.6,614.3h0M520.9,621.3h0M521.3,612.4h0M523.8,613.4h0M519.5,618.9h0M516.4,626.8h0M519.1,630.4h0M515.5,621.1h0M521.5,611.5h0M515.6,618.5h0M517.9,630.8h0M515.4,617.8h0M517.0,606.2h0M515.9,626.0h0M517.6,618.8h0M514.7,627.8h0M515.6,628.2h0M520.9,611.9h0M517.3,632.7h0M520.5,615.3h0M518.9,612.6h0M516.6,622.8h0M522.9,621.9h0M516.4,630.6h0M519.1,618.7h0M517.6,631.2h0M519.8,610.3h0M520.3,619.9h0M521.9,615.7h0M519.0,616.0h0M514.7,627.5h0M518.2,612.4h0M519.5,618.7h0M517.1,619.5h0M518.7,620.7h0M520.0,622.1h0M522.8,621.3h0M518.8,621.8h0M516.4,625.8h0M524.6,617.6h0M517.1,617.5h0M512.8,630.2h0M519.0,614.1h0M519.1,614.9h0M516.4,617.8h0M523.8,626.4h0M521.4,623.2h0M517.9,626.2h0M519.1,624.9h0M527.4,626.1h0M520.8,629.8h0M524.7,623.7h0M533.1,637.8h0M522.5,632.8h0M519.0,618.5h0M522.5,621.8h0M522.8,632.5h0M525.7,630.2h0M529.0,628.9h0M518.4,629.7h0M529.1,634.7h0M526.3,627.3h0M527.0,628.2h0M522.3,633.3h0M521.1,629.7h0M524.0,624.2h0M522.8,620.6h0M523.9,632.7h0M525.1,632.5h0M526.3,635.3h0M516.8,628.5h0M523.9,631.9h0M526.0,631.2h0M533.7,622.6h0M528.6,628.9h0M523.7,628.3h0M524.6,636.0h0M528.8,639.1h0M518.7,635.1h0M520.5,624.7h0M520.9,631.4h0M525.1,633.1h0M521.7,632.9h0M527.9,646.7h0M524.6,639.7h0M517.4,637.4h0M520.4,644.0h0M516.5,636.9h0M519.7,648.0h0M529.9,645.1h0M529.1,651.1h0M523.0,638.3h0M526.5,642.3h0M517.8,640.5h0M529.8,646.0h0M521.4,637.9h0M520.5,638.2h0M522.6,648.8h0M523.8,651.0h0M520.1,634.9h0M524.7,640.0h0M525.0,639.8h0M531.2,647.5h0M524.2,650.7h0M527.4,640.4h0M531.5,649.9h0M524.3,646.6h0M521.2,632.1h0M522.1,646.5h0M527.2,636.8h0M518.8,634.1h0M517.7,639.8h0M527.3,636.7h0M528.7,642.4h0M529.6,650.0h0M527.6,647.5h0M528.1,647.5h0M530.8,644.7h0M524.8,649.5h0M525.1,645.3h0M524.0,647.1h0M529.7,645.4h0M522.9,641.6h0M536.2,647.1h0M524.6,646.8h0M531.3,650.4h0M529.7,646.1h0M531.5,645.5h0M526.0,647.5h0M528.9,646.4h0M525.4,653.0h0M528.2,647.8h0M533.4,646.3h0M533.0,645.6h0M529.4,646.3h0M527.5,642.9h0M525.2,645.1h0M554.7,615.1h0M540.2,638.3h0M534.8,640.2h0M538.2,636.0h0M550.3,646.1h0M545.5,616.1h0M537.0,623.2h0M537.6,612.7h0M544.2,633.9h0M555.3,628.0h0M541.4,641.0h0M533.8,636.0h0M531.2,613.8h0M554.6,614.9h0M543.7,634.4h0M539.0,643.0h0M538.6,636.1h0M544.6,640.9h0M544.6,628.6h0M534.3,625.4h0M554.7,618.3h0M545.5,638.6h0M550.2,639.0h0M553.6,637.4h0M535.7,617.4h0M536.6,637.3h0M549.4,633.2h0M541.2,611.9h0M545.7,633.4h0M546.5,632.2h0M556.8,638.0h0M552.6,617.0h0M538.0,617.3h0M549.1,616.6h0M545.1,642.8h0M543.6,610.3h0M555.1,635.7h0M548.9,647.3h0M549.8,625.2h0M541.4,637.7h0M533.3,639.0h0M542.2,631.5h0M534.6,620.7h0M531.5,641.4h0M538.8,641.4h0M552.4,610.4h0M543.4,635.1h0M553.1,618.2h0M548.0,611.5h0M532.5,624.8h0M539.5,629.5h0M551.3,638.4h0M543.3,643.4h0M546.6,646.4h0M546.6,645.8h0M546.2,643.0h0M543.9,635.9h0M545.7,643.1h0M540.4,646.1h0M536.4,637.5h0M542.9,648.2h0M548.7,645.5h0M548.6,641.0h0M545.4,641.7h0M536.6,643.6h0M540.0,647.2h0M544.6,648.3h0M536.1,646.3h0M535.3,642.6h0M544.6,642.4h0M540.0,639.2h0M544.1,635.3h0M538.7,641.4h0M540.1,645.0h0M544.6,611.2h0M543.1,617.3h0M552.4,613.0h0M547.0,610.9h0M550.3,610.6h0M542.2,614.4h0M549.9,613.6h0M540.5,613.8h0M541.4,616.0h0M544.2,613.0h0M547.0,617.8h0M545.1,614.7h0M551.6,625.0h0M550.2,626.3h0M553.4,620.6h0M553.3,626.6h0M555.6,628.8h0M553.0,619.2h0M556.4,624.4h0M555.8,629.4h0M567.0,630.7h0M571.7,630.7h0M555.2,645.0h0M571.0,635.5h0M568.0,639.6h0M564.5,627.8h0M569.0,661.2h0M570.7,634.7h0M572.6,644.9h0M566.2,630.4h0M572.3,636.3h0M572.1,630.3h0M563.5,636.7h0M560.1,626.4h0M564.7,634.5h0M560.7,629.8h0M565.9,630.5h0M542.7,669.4h0M551.1,652.6h0M542.6,663.7h0M550.5,657.6h0M542.4,649.7h0M547.3,671.3h0M543.0,664.8h0M537.6,658.0h0M545.5,656.0h0M554.3,668.4h0M540.1,657.7h0M549.3,656.4h0M535.1,653.8h0M541.6,671.8h0M555.9,670.8h0M555.1,668.3h0M537.8,650.6h0M548.4,649.5h0M535.1,656.5h0M544.6,666.7h0M542.7,653.5h0M543.1,650.2h0M553.6,658.5h0M539.0,670.3h0M544.9,652.8h0M554.6,655.6h0M533.7,650.8h0M548.3,670.4h0M547.9,650.0h0M540.3,659.3h0M544.3,668.8h0M544.1,660.8h0M551.4,667.3h0M548.8,660.6h0M547.3,666.6h0M550.2,668.3h0M547.3,662.3h0M552.7,661.4h0M549.2,668.6h0M549.7,665.2h0M553.8,664.9h0M547.6,667.4h0M555.2,678.0h0M557.4,671.2h0M557.8,666.5h0M561.9,674.1h0M556.4,676.9h0M544.4,686.1h0M547.0,687.7h0M538.8,680.8h0M537.9,700.6h0M540.8,706.5h0M545.3,709.7h0M548.1,717.6h0M551.0,720.5h0M552.0,721.3h0M534.8,695.4h0M536.6,692.8h0" stroke="#6633BB" stroke-width="2.4" stroke-linecap="round" fill="none"/>
<path d="M617.3,597.0h0M615.3,602.8h0M608.0,596.6h0M619.9,606.4h0M617.0,593.4h0M623.3,596.3h0M620.8,608.7h0M618.2,606.2h0M623.2,595.6h0M625.1,608.6h0M615.6,603.7h0M623.9,609.1h0M621.9,592.5h0M618.3,605.9h0M620.8,595.5h0M624.5,590.9h0M621.0,590.9h0M621.5,603.2h0M624.7,597.1h0M622.2,610.6h0M621.6,605.6h0M612.2,602.1h0M622.6,596.1h0M615.0,598.1h0M615.2,603.2h0M623.8,600.5h0M614.1,605.5h0M608.6,593.2h0M620.1,590.2h0M619.8,600.7h0M624.3,598.1h0M623.6,592.1h0M615.8,607.1h0M613.3,592.2h0M614.6,603.1h0M610.9,594.7h0M617.8,595.2h0M615.9,596.8h0M625.2,598.5h0M615.7,607.2h0M616.7,592.9h0M619.9,609.9h0M612.8,591.4h0M608.7,597.9h0M623.3,596.7h0M611.6,597.1h0M614.9,599.4h0M612.8,594.0h0M624.5,591.9h0M624.6,603.4h0M615.3,592.4h0M610.0,591.8h0M622.2,605.0h0M613.9,602.8h0M620.9,596.3h0M622.1,594.5h0M614.2,604.1h0M613.9,600.2h0M615.9,599.2h0M624.2,603.9h0M617.3,607.6h0M617.5,598.9h0M619.6,601.8h0M624.4,596.2h0M624.7,590.9h0M616.1,602.8h0M624.4,592.7h0M617.8,603.4h0M618.1,599.8h0M613.9,595.6h0M622.5,595.9h0M616.5,608.3h0M620.8,598.0h0M613.5,604.5h0M617.6,599.7h0M622.8,594.0h0M620.6,598.9h0M623.8,594.4h0M621.0,592.2h0M622.6,606.2h0M624.1,590.2h0M617.9,599.0h0M622.6,593.9h0M623.8,601.4h0M623.3,602.0h0M615.1,600.8h0M611.1,593.0h0M607.4,592.1h0M624.4,601.4h0M623.7,591.7h0M608.7,596.9h0M613.3,597.6h0M613.7,598.5h0M616.6,602.3h0M611.9,599.9h0M613.4,601.6h0M613.1,604.8h0M613.7,597.1h0M610.3,592.9h0M614.1,598.4h0M614.9,596.0h0M615.6,604.6h0M612.4,593.6h0M612.7,600.9h0M614.4,600.8h0M613.4,594.6h0M611.4,599.8h0M612.1,599.0h0M617.4,598.2h0M613.1,601.3h0M616.8,604.8h0M614.2,601.2h0M610.6,598.4h0M614.0,599.0h0M621.8,595.1h0M629.5,595.8h0M619.5,602.0h0M630.0,607.1h0M629.9,599.5h0M628.1,604.2h0M622.6,591.8h0M627.7,597.4h0M627.2,593.7h0M621.3,601.8h0M630.8,608.0h0M620.9,601.7h0M627.9,594.1h0M629.8,606.8h0M624.3,594.9h0M621.3,605.2h0M624.1,599.5h0M631.1,608.4h0M626.1,594.3h0M630.1,594.3h0M633.5,601.0h0M623.3,605.1h0M627.8,593.5h0M623.4,595.8h0M622.9,606.7h0M619.3,603.6h0M632.7,603.2h0M629.4,609.7h0M624.0,601.0h0M618.6,605.9h0M632.3,598.8h0M622.4,607.9h0M630.3,600.2h0M624.5,595.4h0M628.1,593.0h0M624.5,602.6h0M633.2,605.3h0M632.0,595.9h0M630.0,599.5h0M633.8,608.0h0M635.4,594.2h0M636.1,593.7h0M629.8,592.1h0M621.1,605.4h0M625.4,608.2h0M621.6,594.3h0M627.5,603.3h0M625.7,597.5h0M630.9,603.5h0M620.2,605.0h0M623.7,607.9h0M628.8,592.5h0M628.7,610.4h0M620.9,592.9h0M635.7,603.9h0M626.4,606.1h0M630.5,593.4h0M628.8,597.4h0M618.7,594.3h0M628.2,610.7h0M624.4,596.8h0M622.1,595.5h0M629.3,598.6h0M634.2,593.4h0M624.0,608.7h0M630.7,596.6h0M623.2,603.3h0M633.5,608.1h0M620.2,592.8h0M618.5,607.3h0M618.8,602.4h0M630.7,607.1h0M620.7,601.4h0M622.2,600.1h0M626.0,606.2h0M632.9,606.2h0M628.3,610.7h0M633.9,607.8h0M630.1,591.7h0M622.3,597.6h0M636.8,598.2h0M627.5,608.3h0M633.3,601.4h0M628.1,604.4h0M630.3,608.2h0M631.8,594.0h0M628.7,605.1h0M627.4,597.2h0M628.0,606.1h0M629.6,603.8h0M630.4,600.5h0M628.2,609.0h0M629.0,608.4h0M628.2,598.0h0M628.6,601.4h0M630.9,604.7h0M629.2,595.4h0M631.2,604.0h0M630.5,605.7h0M631.5,603.5h0M632.8,602.7h0M630.0,594.3h0M629.2,600.2h0M627.7,592.9h0M626.7,604.1h0M628.8,603.3h0M625.5,605.3h0M632.3,602.4h0M633.6,604.7h0M629.8,596.5h0M629.4,601.6h0M633.1,603.6h0M627.2,601.6h0M631.3,606.4h0M628.4,598.4h0M637.1,604.0h0M637.3,599.1h0M628.7,603.9h0M627.9,596.7h0M635.4,605.5h0M641.8,603.3h0M650.6,601.1h0M645.8,612.2h0M639.3,598.9h0M646.0,603.4h0M646.2,610.0h0M638.1,600.5h0M654.9,609.5h0M645.7,609.2h0M635.9,593.0h0M650.7,596.6h0M648.3,612.0h0M642.0,592.9h0M644.5,598.6h0M654.5,598.5h0M638.4,594.4h0M650.0,608.4h0M635.5,606.7h0M643.5,608.2h0M642.5,603.9h0M639.1,594.9h0M647.8,593.5h0M647.5,609.5h0M636.1,607.3h0M646.0,595.3h0M651.5,594.2h0M650.4,602.7h0M642.1,610.3h0M634.8,597.2h0M647.4,607.9h0M644.2,608.4h0M652.5,612.0h0M644.8,603.8h0M648.5,609.3h0M646.9,608.3h0M643.0,608.8h0M651.7,602.7h0M635.0,603.4h0M652.3,611.3h0M652.1,599.4h0M650.1,598.0h0M635.3,604.8h0M651.9,598.8h0M650.3,600.5h0M642.5,596.0h0M637.4,595.6h0M651.9,603.3h0M646.9,598.5h0M651.4,607.4h0M643.1,597.3h0M648.9,612.3h0M642.9,608.7h0M643.9,605.3h0M642.2,597.1h0M644.5,600.2h0M639.0,607.0h0M644.3,600.8h0M643.4,597.2h0M642.2,608.5h0M640.9,603.5h0M652.2,597.9h0M639.1,593.3h0M653.0,600.1h0M645.3,595.3h0M648.6,600.7h0M635.6,602.5h0M652.2,604.6h0M654.2,605.6h0M643.4,596.7h0M643.7,609.3h0M647.6,611.6h0M636.9,600.4h0M645.8,611.0h0M652.3,595.7h0M636.4,606.0h0M639.8,599.8h0M645.3,601.8h0M652.5,601.4h0M646.5,598.2h0M639.5,597.9h0M653.9,600.6h0M653.6,606.8h0M641.2,601.5h0M635.9,602.5h0M636.8,601.1h0M654.4,613.1h0M641.8,606.3h0M647.5,603.3h0M648.9,606.0h0M649.4,600.0h0M650.7,607.2h0M641.3,602.9h0M651.7,594.1h0M650.0,607.6h0M643.0,597.7h0M653.0,593.9h0M642.4,606.5h0M650.1,603.0h0M652.1,604.3h0M637.8,605.3h0M646.0,598.5h0M642.4,593.2h0M637.7,605.2h0M652.3,594.3h0M654.4,601.8h0M639.6,593.5h0M641.5,593.7h0M650.8,598.2h0M646.7,601.9h0M649.2,609.8h0M641.8,605.2h0M637.2,600.4h0M646.1,610.3h0M652.7,611.7h0M642.5,609.3h0M650.5,609.6h0M636.0,596.4h0M642.2,597.8h0M649.3,595.3h0M641.8,596.7h0M645.4,596.3h0M640.4,611.1h0M647.8,594.3h0M641.0,601.8h0M646.7,611.8h0M647.4,597.0h0M641.7,604.8h0M647.2,609.7h0M635.6,594.9h0M646.1,604.5h0M644.6,605.6h0M641.3,600.4h0M646.2,604.8h0M641.5,607.9h0M639.0,603.5h0M639.5,607.0h0M644.2,595.1h0M641.6,602.2h0M647.5,596.5h0M651.0,608.3h0M646.7,615.9h0M648.8,604.5h0M644.1,605.5h0M646.0,603.0h0M636.2,601.7h0M646.1,596.2h0M643.0,605.5h0M642.1,596.1h0M638.6,604.9h0M637.4,603.7h0M640.2,607.0h0M648.0,612.0h0M637.6,605.2h0M641.8,599.4h0M648.8,611.7h0M646.4,603.6h0M643.6,599.2h0M637.4,601.9h0M648.2,608.2h0M647.7,601.6h0M648.8,595.6h0M646.5,611.9h0M644.0,608.8h0M648.8,604.1h0M649.0,604.6h0M645.3,611.2h0M646.1,603.1h0M645.2,604.6h0M640.0,601.0h0M646.0,606.2h0M640.6,595.2h0M638.7,600.1h0M647.9,597.4h0M635.0,602.6h0M641.0,601.3h0M643.4,600.4h0M642.8,605.6h0M642.5,598.1h0M645.9,606.2h0M648.8,594.1h0M643.5,608.2h0M647.1,601.4h0M644.8,601.7h0M642.5,599.1h0M644.0,599.8h0M644.8,600.4h0M643.4,609.8h0M646.1,598.9h0M640.9,599.9h0M644.5,613.1h0M646.2,608.8h0M648.5,605.4h0M645.5,605.8h0M640.1,603.2h0M639.6,601.8h0M647.4,605.3h0M638.5,598.2h0M639.7,604.1h0M644.3,603.5h0M638.1,600.3h0M640.9,604.1h0M648.6,598.8h0M642.8,605.2h0M648.8,603.4h0M638.3,606.4h0M643.5,604.3h0M643.3,607.7h0M642.9,610.6h0M645.3,607.3h0M640.7,601.4h0M641.0,602.4h0M646.6,602.1h0M641.9,601.7h0M641.1,605.4h0M642.7,606.2h0M640.0,606.5h0M650.1,606.5h0M647.6,607.7h0M643.4,603.9h0M640.3,603.3h0M647.8,601.3h0M640.1,603.0h0M645.8,603.5h0M641.2,604.3h0M642.2,598.9h0M650.4,609.5h0M645.8,599.9h0M639.7,608.0h0M642.0,605.8h0M642.5,608.6h0M636.2,600.9h0M643.3,593.8h0M642.2,610.5h0M642.4,600.0h0M642.6,609.5h0M646.1,602.3h0M644.0,604.5h0M642.5,603.3h0M643.1,607.4h0M641.7,606.7h0M644.7,604.7h0M650.0,604.7h0M645.8,603.4h0M636.5,602.0h0M644.2,603.3h0M645.0,606.3h0M644.8,595.0h0M644.6,604.4h0M639.8,609.7h0M638.5,607.1h0M642.9,609.3h0M648.1,609.2h0M644.1,597.0h0M648.5,608.0h0M645.5,605.0h0M644.7,598.9h0M642.2,605.4h0M649.2,599.3h0M642.0,602.8h0M645.0,603.7h0M644.1,609.1h0M644.6,596.2h0M648.9,593.2h0M640.7,604.5h0M635.0,600.0h0M648.7,598.3h0M646.0,600.5h0M644.3,596.1h0M642.3,606.5h0M637.5,604.8h0M647.9,601.8h0M640.4,596.8h0M648.6,610.7h0M638.3,596.7h0M644.5,609.7h0M645.5,604.5h0M641.0,596.5h0M648.1,608.6h0M640.8,601.2h0M647.0,604.8h0M648.8,607.8h0M653.5,604.5h0M647.7,604.9h0M650.9,609.4h0M650.8,611.0h0M653.0,616.4h0M642.5,610.2h0M647.8,605.6h0M649.3,615.0h0M651.8,610.3h0M649.6,609.1h0M650.8,609.2h0M651.5,612.3h0M649.1,612.7h0M647.7,610.5h0M652.0,602.9h0M643.4,610.4h0M650.4,607.5h0M648.3,613.3h0M651.6,603.6h0M646.6,609.3h0M648.8,602.8h0M651.5,608.7h0M649.4,602.8h0M647.1,614.0h0M643.9,605.1h0M647.5,601.0h0M655.6,613.5h0M646.7,609.0h0M648.4,609.4h0M648.7,611.8h0M649.4,609.3h0M651.7,610.1h0M647.2,603.6h0M654.7,608.9h0M645.5,606.7h0M651.6,604.9h0M649.2,606.9h0M647.7,608.2h0M646.4,604.7h0M649.9,611.6h0M647.7,611.5h0M647.5,605.4h0M647.7,607.8h0M642.7,610.3h0M645.2,605.7h0M645.2,610.1h0M649.4,608.2h0M647.1,600.6h0M652.6,607.4h0M649.5,599.3h0M651.4,595.9h0M651.8,598.9h0M649.4,603.8h0M645.5,595.8h0M648.0,600.2h0M650.8,594.2h0M649.7,596.8h0M649.4,603.4h0M648.3,598.2h0M651.7,598.8h0M646.9,603.3h0M651.2,597.8h0M652.0,594.7h0M647.2,597.5h0M649.4,603.6h0M653.2,599.3h0M652.2,598.2h0M645.1,600.7h0M651.4,602.9h0M648.4,599.1h0M648.3,594.0h0M646.7,595.8h0M648.2,598.4h0M644.5,599.0h0M651.7,602.0h0M651.6,589.6h0M647.8,597.8h0M649.1,597.3h0M651.6,598.8h0M657.7,603.1h0M669.1,616.9h0M677.7,630.2h0M662.1,599.6h0M661.0,613.7h0M678.8,623.8h0M677.4,630.6h0M646.8,612.4h0M673.4,613.5h0M655.3,617.9h0M676.1,625.7h0M676.3,613.8h0M652.1,631.7h0M665.1,613.1h0M664.1,628.4h0M658.5,610.5h0M659.6,635.6h0M667.2,630.8h0M675.7,624.1h0M662.4,608.2h0M663.9,633.0h0M661.9,599.5h0M660.3,635.1h0M675.4,612.8h0M655.0,600.9h0M651.2,610.4h0M654.3,630.0h0M651.3,615.4h0M670.4,625.1h0M676.6,616.5h0M660.7,613.6h0M663.0,608.1h0M676.2,604.1h0M644.8,606.8h0M650.2,609.2h0M656.6,630.9h0M666.9,614.5h0M665.4,600.5h0M648.1,626.8h0M658.1,608.0h0M669.6,617.5h0M671.3,622.4h0M655.4,620.5h0M675.1,608.4h0M660.8,623.2h0M658.7,626.6h0M662.0,638.0h0M677.1,629.6h0M652.5,603.5h0M646.6,619.0h0M651.6,631.4h0M650.6,631.0h0M657.3,604.0h0M677.1,612.2h0M654.4,625.0h0M652.7,624.5h0M672.5,625.2h0M671.2,618.6h0M659.5,610.8h0M652.4,626.3h0M650.3,607.5h0M645.0,605.8h0M663.2,611.6h0M657.6,610.2h0M667.7,611.8h0M671.7,599.5h0M662.3,638.0h0M651.6,632.3h0M661.7,630.6h0M666.6,607.0h0M668.3,628.7h0M662.3,600.3h0M667.2,622.0h0M644.5,605.3h0M666.7,619.5h0M672.4,601.1h0M649.9,621.6h0M665.7,637.7h0M660.7,604.1h0M653.2,615.1h0M667.9,606.7h0M673.2,611.9h0M670.2,634.9h0M652.1,603.1h0M664.5,628.3h0M657.1,620.7h0M656.9,635.4h0M661.9,623.2h0M645.6,605.3h0M678.4,605.3h0M651.6,603.3h0M674.4,630.6h0M671.0,634.7h0M672.6,623.7h0M652.3,601.3h0M658.3,613.7h0M657.4,603.6h0M673.0,602.3h0M663.7,605.1h0M659.8,598.6h0M664.7,632.8h0M663.0,609.5h0M652.9,607.5h0M668.3,609.0h0M664.4,619.6h0M664.3,619.9h0M663.3,620.4h0M652.1,624.8h0M663.0,629.9h0M663.9,636.9h0M651.0,628.2h0M660.8,614.3h0M666.5,601.7h0M657.8,614.9h0M648.1,628.0h0M645.6,602.9h0M670.7,610.1h0M676.0,608.7h0M677.7,606.4h0M648.9,623.4h0M657.7,616.8h0M671.1,612.0h0M658.8,611.1h0M677.2,635.5h0M648.3,626.0h0M649.8,606.2h0M673.3,630.4h0M645.9,620.7h0M650.4,614.2h0M677.5,619.9h0M663.9,613.1h0M647.5,599.5h0M648.4,625.5h0M664.7,618.3h0M667.5,625.2h0M645.5,609.0h0M649.6,598.7h0M664.2,619.9h0M669.6,614.6h0M676.5,630.1h0M658.0,607.1h0M659.4,604.7h0M658.5,614.7h0M656.2,616.3h0M659.4,629.3h0M659.3,621.7h0M655.3,615.6h0M660.0,616.5h0M667.1,637.3h0M664.9,627.7h0M653.6,622.1h0M651.9,620.3h0M653.7,609.0h0M662.0,614.2h0M654.2,596.9h0M657.4,630.0h0M649.7,616.8h0M663.3,615.8h0M667.9,615.7h0M664.3,615.3h0M673.9,605.1h0M658.3,611.0h0M663.8,626.6h0M657.3,610.9h0M663.6,619.5h0M667.4,614.2h0M656.2,628.1h0M666.6,611.8h0M648.9,621.2h0M657.4,624.7h0M674.9,626.7h0M676.1,615.9h0M678.0,611.0h0M677.0,618.0h0M680.6,619.4h0M673.6,618.6h0M673.4,615.1h0M674.7,610.1h0M676.0,621.0h0M673.8,621.3h0M677.0,611.7h0M675.7,623.8h0M670.1,629.3h0M672.4,621.7h0M673.1,607.5h0M672.8,627.6h0M672.6,626.9h0M667.0,617.7h0M675.6,617.1h0M668.2,617.8h0M668.9,612.4h0M671.6,614.6h0M674.2,634.6h0M671.7,618.6h0M677.7,620.9h0M672.1,624.5h0M674.0,619.8h0M672.3,626.3h0M679.5,627.1h0M672.7,626.1h0M674.8,623.3h0M679.4,617.3h0M672.5,614.0h0M676.0,614.7h0M672.0,621.2h0M678.5,621.0h0M673.9,612.5h0M680.2,616.9h0M679.8,618.3h0M676.4,617.0h0M670.3,607.0h0M667.3,604.0h0M665.9,612.9h0M666.5,606.7h0M665.8,597.9h0M676.8,592.7h0M665.0,598.0h0M667.0,589.2h0M668.2,608.3h0M686.1,591.6h0M684.2,614.2h0M665.4,613.9h0M676.1,590.3h0M667.8,606.2h0M675.7,600.0h0M686.6,607.1h0M672.4,596.6h0M673.2,606.2h0M677.5,609.3h0M671.9,589.1h0M666.6,609.1h0M679.2,607.0h0M676.0,596.5h0M668.1,610.1h0M669.4,595.9h0M678.1,588.8h0M672.4,601.5h0M668.1,589.5h0M680.6,597.7h0M668.4,593.5h0M684.3,611.0h0M667.1,592.0h0M676.7,594.9h0M686.1,594.4h0M668.2,610.0h0M680.9,598.1h0M684.6,595.7h0M671.5,598.6h0M678.2,589.7h0M687.4,601.1h0M674.8,597.4h0M676.4,602.9h0M668.9,610.1h0M677.1,603.8h0M676.2,595.4h0M668.3,607.6h0M683.0,606.5h0M672.2,591.1h0M664.7,604.9h0M668.0,589.1h0M680.6,599.6h0M674.2,597.7h0M674.3,599.9h0M677.8,602.2h0M676.1,598.1h0M676.3,599.9h0M673.5,597.9h0M679.2,599.3h0M672.1,603.3h0M679.7,597.1h0M678.6,595.7h0M676.5,595.3h0M677.6,599.3h0M678.9,599.5h0M679.0,599.4h0M674.9,599.4h0M676.9,597.7h0M677.7,596.4h0M680.7,601.4h0M677.3,595.8h0M675.3,597.2h0M676.9,596.0h0M677.1,598.7h0M673.7,600.3h0M677.0,595.0h0M677.6,597.4h0M674.2,596.2h0M677.7,592.4h0M670.6,601.3h0M674.1,597.3h0M675.5,600.5h0M674.4,599.1h0M676.4,593.7h0M676.8,600.8h0M684.5,602.6h0M685.7,605.1h0M681.6,609.4h0M679.9,610.4h0M685.3,607.1h0M685.5,607.2h0M681.3,594.3h0M687.3,610.3h0M686.1,604.7h0M686.8,603.8h0M687.1,610.2h0M689.5,615.1h0M687.8,606.7h0M686.3,614.0h0M687.8,599.4h0M685.1,608.1h0M684.2,604.5h0M684.2,606.1h0M685.9,605.8h0M684.9,609.9h0M684.5,599.8h0M685.6,611.6h0M687.1,607.0h0M685.9,597.8h0M684.7,605.0h0M686.1,608.4h0M687.3,609.6h0M686.1,611.4h0M684.1,607.5h0M687.1,610.4h0M689.5,598.9h0M686.4,610.7h0M683.7,604.3h0M687.3,598.5h0M686.1,615.4h0M686.6,602.2h0M685.5,608.5h0M686.1,611.0h0M687.9,606.4h0M687.7,609.0h0M685.3,604.3h0M685.1,605.0h0M689.0,606.0h0M686.6,611.3h0M688.3,608.7h0M683.3,605.8h0M688.0,610.3h0M684.2,604.2h0M682.8,606.6h0M681.3,602.6h0M685.7,609.2h0M686.8,611.5h0M699.6,593.4h0M691.0,603.6h0M689.4,621.2h0M685.5,604.3h0M694.9,597.8h0M698.7,616.6h0M686.1,600.2h0M689.0,598.5h0M694.6,597.9h0M688.3,611.8h0M694.2,609.7h0M696.9,617.6h0M693.3,611.7h0M688.1,600.3h0M692.7,600.7h0M693.4,621.5h0M678.0,641.1h0M676.5,635.7h0M683.7,641.4h0M677.8,643.8h0M684.7,618.7h0M689.9,624.7h0M683.4,643.8h0M681.0,612.8h0M676.8,618.0h0M685.8,622.9h0M682.5,631.7h0M688.4,621.3h0M682.8,644.4h0M681.6,636.4h0M674.9,628.0h0M680.9,612.7h0M679.1,616.8h0M676.3,627.0h0M679.8,643.6h0M675.2,626.3h0M689.6,643.5h0M677.1,618.4h0M685.8,622.5h0M683.5,636.7h0M682.5,643.0h0M689.4,644.3h0M674.1,627.3h0M674.9,634.0h0M687.9,631.1h0M686.2,636.2h0M691.4,642.1h0M685.1,637.9h0M681.1,634.9h0M673.4,613.5h0M686.8,618.9h0M673.4,622.6h0M685.8,638.5h0M674.8,622.4h0M681.2,633.1h0M691.2,617.0h0M677.3,620.5h0M673.6,635.2h0M673.5,623.0h0M677.0,628.5h0M679.0,637.3h0M687.7,636.9h0M685.5,625.6h0M675.6,620.8h0M680.4,619.3h0M678.8,641.6h0M691.0,620.2h0M692.3,612.7h0M676.6,642.4h0M677.8,636.0h0M688.6,622.3h0M677.7,622.6h0M680.6,614.2h0M689.3,640.9h0M683.7,639.2h0M690.2,613.6h0M687.6,620.0h0M676.7,632.7h0M689.0,629.0h0M690.0,613.9h0M687.6,638.5h0M680.7,625.1h0M682.8,639.7h0M678.5,624.7h0M675.3,639.7h0M688.1,619.8h0M684.0,636.5h0M683.9,635.1h0M684.9,634.6h0M689.4,637.7h0M688.2,624.9h0M686.5,628.3h0M686.7,626.7h0M679.3,629.9h0M682.7,627.9h0M680.0,617.0h0M682.3,623.7h0M681.3,623.8h0M681.1,639.4h0M683.5,615.8h0M684.9,632.3h0M674.9,620.1h0M681.2,618.5h0M687.7,630.0h0M682.3,620.0h0M677.6,630.5h0M682.5,626.3h0M682.4,627.9h0M680.7,632.0h0M681.8,625.7h0M672.4,666.8h0M655.3,655.0h0M664.8,662.6h0M659.6,658.6h0M681.3,639.7h0M670.4,662.4h0M657.2,647.8h0M657.1,668.0h0M674.0,656.5h0M684.8,645.3h0M662.1,640.8h0M667.4,653.2h0M679.6,669.7h0M657.2,643.8h0M660.4,647.7h0M667.8,662.5h0M689.4,651.2h0M652.3,663.8h0M659.5,640.5h0M675.4,666.2h0M665.8,669.4h0M649.5,655.1h0M666.0,661.6h0M684.9,646.5h0M685.6,650.2h0M689.0,644.2h0M666.8,648.3h0M657.2,671.0h0M660.2,660.8h0M677.5,672.4h0M677.7,660.3h0M650.8,656.6h0M679.9,668.2h0M679.8,642.0h0M659.0,641.3h0M659.5,660.7h0M676.9,667.8h0M667.3,650.8h0M661.5,670.8h0M681.8,648.7h0M658.2,661.3h0M658.0,655.3h0M685.6,650.4h0M682.1,651.4h0M665.5,664.7h0M653.2,649.4h0M662.6,672.5h0M664.7,642.3h0M675.8,658.9h0M651.7,647.5h0M672.0,668.1h0M677.3,646.1h0M658.1,640.7h0M673.7,638.7h0M659.8,651.6h0M670.4,668.1h0M654.0,670.6h0M687.6,639.8h0M684.8,646.9h0M675.3,652.8h0M674.4,653.2h0M680.3,647.6h0M675.7,666.1h0M678.9,638.6h0M679.3,650.1h0M677.2,647.3h0M679.5,653.0h0M674.6,650.9h0M671.4,654.5h0M685.8,642.8h0M678.0,648.1h0M683.7,650.7h0M677.4,651.6h0M686.6,640.8h0M662.7,654.6h0M660.4,658.7h0M660.9,656.9h0M667.8,650.3h0M659.6,656.8h0M671.1,654.6h0M656.6,659.2h0M661.6,658.0h0M657.2,650.8h0M658.3,661.1h0M657.3,683.0h0M659.5,674.5h0M664.9,669.8h0M673.4,678.2h0M665.3,677.7h0M663.8,684.4h0M676.0,672.0h0M670.6,672.2h0M638.9,560.5h0M627.1,590.6h0M658.6,563.2h0M652.3,570.8h0M651.0,589.2h0M650.9,559.2h0M614.3,581.0h0M648.7,575.9h0M660.6,584.8h0M655.0,572.1h0M597.1,590.4h0M624.9,554.5h0M620.6,559.9h0M623.4,557.2h0M626.2,555.4h0M629.0,553.6h0M621.9,562.7h0M634.4,556.3h0M637.8,550.9h0M639.9,556.3h0M644.0,554.5h0M645.2,550.0h0M648.3,558.1h0M674.2,569.3h0M677.7,577.0h0M667.3,563.3h0M674.9,561.8h0M651.4,567.4h0" stroke="#FF8000" stroke-width="2.4" stroke-linecap="round" fill="none"/>
<path d="M622.3,539.6h0M621.6,539.2h0M622.8,539.0h0M621.3,539.1h0M623.0,539.6h0M622.8,539.0h0M621.9,538.1h0M622.0,538.1h0M621.0,541.3h0M625.4,540.2h0M635.0,540.1h0M635.5,539.0h0M626.7,543.5h0M638.2,531.0h0M633.7,530.2h0M635.6,532.5h0M636.0,532.4h0M640.6,528.0h0M630.7,528.5h0M630.6,534.0h0M640.8,531.3h0M630.8,535.5h0M641.1,533.6h0M626.6,522.9h0M624.4,520.8h0M622.1,521.6h0M626.8,516.0h0M623.4,516.2h0M631.2,521.0h0M623.9,519.8h0M620.2,524.4h0M631.3,523.4h0M628.3,518.6h0M628.2,525.5h0M621.9,523.0h0M627.6,516.1h0M626.1,526.3h0M626.8,522.5h0M625.3,515.9h0M637.2,529.4h0M646.8,528.6h0M645.5,523.9h0M645.4,532.4h0M647.2,532.8h0M642.7,523.0h0M641.4,530.3h0M640.3,533.4h0M647.5,531.0h0M650.6,532.7h0M638.7,524.8h0M648.1,529.6h0M648.0,526.9h0M639.2,528.9h0M648.3,531.5h0M646.4,521.5h0M644.0,526.0h0M644.5,531.9h0M647.1,532.5h0M652.3,520.7h0M652.8,521.4h0M641.0,525.1h0M650.4,527.4h0M649.2,524.7h0M638.1,533.0h0M652.5,521.0h0M649.8,526.2h0M650.6,520.9h0M650.2,524.0h0M637.6,530.0h0M642.7,527.1h0M641.7,522.4h0M655.0,528.0h0M651.6,529.1h0M651.3,529.9h0M643.3,530.9h0M646.6,529.2h0M653.5,531.8h0M653.5,530.5h0M640.5,523.9h0M649.5,531.6h0M647.7,528.4h0M650.0,541.6h0M641.9,535.1h0M642.7,535.3h0M645.3,537.6h0M642.9,536.0h0M640.8,534.8h0M652.9,544.2h0M643.6,535.5h0M648.5,533.9h0M649.3,547.5h0M653.0,533.1h0M652.0,547.9h0M642.5,536.5h0M647.7,537.2h0M645.7,534.0h0M644.7,533.5h0M654.2,535.0h0M654.4,536.2h0M644.4,534.6h0M651.9,535.5h0M650.3,541.3h0M653.8,534.5h0M647.9,538.3h0M648.4,534.1h0M650.6,535.1h0M650.5,547.2h0M659.9,531.9h0M666.9,537.6h0M653.9,537.7h0M657.8,530.9h0M668.6,548.9h0M665.3,537.5h0M661.1,540.6h0M666.2,534.0h0M651.8,542.7h0M654.3,545.3h0M652.6,536.1h0M654.7,532.7h0M651.0,532.2h0M661.1,540.0h0M651.1,529.7h0M665.4,537.1h0M659.4,537.3h0M652.7,542.9h0M650.3,534.3h0M659.2,532.7h0M666.7,537.8h0M650.4,534.8h0M667.5,545.4h0M666.4,541.1h0M659.8,531.9h0M666.4,533.2h0M665.2,535.6h0M665.0,533.2h0M654.0,538.0h0M669.0,546.2h0M650.1,534.7h0M658.1,540.1h0M656.0,530.2h0M667.1,532.5h0M661.3,547.2h0M660.8,546.8h0M667.3,534.2h0M661.1,547.6h0M663.4,540.1h0M666.9,538.4h0M649.4,533.2h0M666.0,532.8h0M666.1,532.8h0M659.1,541.7h0M652.8,506.1h0M658.3,517.6h0M662.6,515.1h0M659.1,509.2h0M646.3,509.3h0M650.0,510.2h0M640.2,514.6h0M651.1,507.1h0M653.9,506.8h0M646.5,515.9h0M653.2,515.9h0M657.7,509.9h0M650.0,511.3h0M645.7,513.7h0M665.5,517.5h0M651.3,512.7h0M656.3,518.3h0M656.3,524.8h0M665.4,527.8h0M675.5,517.9h0M655.9,529.8h0M656.5,526.8h0M658.9,523.1h0M658.6,529.8h0M677.9,517.0h0M656.7,525.1h0M660.4,528.2h0M668.6,523.7h0M662.4,522.8h0M667.9,529.8h0M656.6,523.9h0M671.1,518.2h0M665.9,530.2h0M677.9,530.0h0M689.2,538.3h0M688.3,539.8h0M689.1,540.3h0M690.0,540.2h0M691.7,539.6h0M691.6,542.1h0M691.9,540.5h0M691.8,540.5h0M688.6,539.9h0M689.0,540.5h0M691.4,540.6h0M692.4,540.6h0M687.5,538.7h0M689.9,538.5h0M688.4,539.6h0M691.0,539.7h0M690.1,540.1h0M689.1,539.2h0M691.8,539.1h0M691.8,540.7h0M691.5,540.2h0M690.1,540.1h0M691.1,538.1h0M692.1,539.5h0M686.2,539.7h0M687.9,541.3h0M691.0,539.6h0M687.9,540.5h0M694.6,541.3h0M692.0,541.7h0M689.3,538.3h0M686.9,539.9h0M689.2,538.6h0M689.8,537.9h0M693.7,539.5h0M690.6,540.4h0M690.8,540.5h0M689.6,540.2h0M689.1,538.3h0M692.9,540.4h0M690.1,539.5h0M690.7,540.7h0M686.7,539.3h0M689.6,540.6h0M688.3,538.5h0M689.5,539.7h0M691.9,540.3h0M692.3,540.0h0M688.3,540.1h0M693.1,539.1h0M689.2,537.7h0M687.3,541.8h0M688.7,539.0h0M689.0,541.1h0M692.0,540.3h0M690.7,540.7h0M688.9,538.3h0M688.6,540.2h0M690.6,539.7h0M688.5,539.0h0M687.7,539.3h0M689.1,539.2h0M689.9,538.5h0M694.9,540.8h0M691.5,540.4h0M689.1,539.1h0M692.4,541.3h0M691.1,540.1h0M692.0,539.7h0M691.9,539.2h0M685.1,541.9h0M686.6,539.3h0M690.3,541.7h0M687.2,540.4h0M690.9,540.5h0M693.1,539.5h0M691.6,538.3h0M685.3,538.6h0M689.1,540.7h0M690.2,539.6h0M691.7,539.2h0M689.4,543.6h0M690.1,541.3h0M687.7,540.6h0M692.4,539.3h0M691.0,539.6h0M691.4,540.5h0M689.2,540.8h0M690.3,538.7h0M686.0,541.1h0M689.0,540.2h0M692.4,539.9h0M691.3,539.3h0M690.5,539.7h0M690.7,541.3h0M687.2,539.0h0M690.2,540.1h0M693.2,540.8h0M688.1,541.0h0M691.7,541.2h0M691.3,540.8h0M690.7,538.4h0M690.1,542.9h0M691.9,541.2h0M691.7,541.6h0M687.5,541.0h0M690.9,539.0h0M688.7,540.3h0M689.7,539.5h0M690.9,539.7h0M692.6,542.7h0M694.0,540.0h0M692.9,541.7h0M693.4,542.1h0M692.4,541.0h0M693.0,542.1h0M692.6,541.4h0M692.9,543.1h0M692.7,540.7h0M692.8,542.2h0M695.7,543.8h0M693.5,541.0h0M693.3,541.2h0M692.0,539.0h0M692.1,542.8h0M692.4,540.2h0M693.1,540.9h0M692.5,541.5h0M692.7,541.9h0M693.2,540.2h0M694.0,540.3h0M693.5,541.8h0M693.0,541.6h0M692.9,540.1h0M691.3,539.4h0M694.4,541.0h0M692.2,540.5h0M693.4,540.4h0M691.0,542.3h0M694.3,542.0h0M694.0,540.8h0M693.1,542.5h0M692.3,540.7h0M694.7,542.7h0M691.6,540.7h0M694.3,540.7h0M694.7,542.5h0M692.8,542.3h0M691.1,540.6h0M692.1,541.1h0M670.1,547.2h0M675.0,544.6h0M669.7,542.6h0M671.2,544.6h0M681.6,543.5h0M685.2,543.9h0M669.6,546.7h0M667.7,541.6h0M673.3,544.9h0M686.6,544.2h0M688.4,545.9h0M686.2,544.7h0M674.4,546.4h0M683.6,549.0h0M692.8,553.8h0M688.9,560.4h0M693.9,561.1h0M681.8,546.6h0M679.4,547.5h0M690.0,556.5h0M681.5,548.0h0M682.9,551.4h0M690.1,559.4h0M682.9,558.9h0M679.6,546.6h0M683.2,547.2h0M684.7,553.8h0M682.7,551.8h0M686.5,561.4h0M682.5,555.0h0M681.8,560.4h0M686.6,552.3h0M684.0,552.1h0M692.5,550.5h0M686.1,553.2h0M697.6,549.5h0M693.9,548.4h0M690.0,556.1h0M687.8,550.4h0M689.2,560.3h0M698.4,559.8h0M697.8,549.5h0M687.8,546.7h0M683.0,557.1h0M682.0,559.2h0M689.4,560.8h0M694.1,554.9h0M687.9,555.3h0M684.8,549.0h0M682.4,550.8h0M681.4,550.5h0M687.6,559.3h0M696.7,560.6h0M695.9,556.3h0M684.6,560.6h0M698.6,560.7h0M697.5,558.2h0M691.6,553.5h0M693.5,555.5h0M689.0,555.5h0M689.5,552.5h0M689.1,545.1h0M695.9,550.4h0M690.5,554.5h0M692.8,554.7h0M695.3,549.4h0M695.7,552.3h0M692.4,551.3h0M693.3,549.2h0M691.7,546.1h0M692.1,551.3h0M696.7,551.9h0M695.3,552.1h0M691.0,550.6h0M688.8,547.6h0M696.9,550.5h0M693.4,545.5h0M694.0,550.8h0M697.9,552.4h0M692.5,550.5h0M697.2,554.3h0M696.2,546.4h0M693.4,551.5h0M692.4,547.3h0M708.4,553.9h0M706.5,560.2h0M706.1,566.4h0M698.4,562.1h0M704.2,548.1h0M705.4,553.2h0M696.1,554.6h0M705.9,564.5h0M713.2,562.2h0M698.3,552.4h0M717.3,568.5h0M711.3,557.2h0M714.8,564.0h0M709.3,549.2h0M698.9,552.5h0M702.4,551.5h0M700.2,551.9h0M699.4,555.5h0M709.3,565.6h0M695.5,559.3h0M714.8,555.0h0M714.3,553.3h0M718.0,549.8h0M724.9,559.0h0M726.0,566.6h0M723.2,560.1h0M729.5,563.4h0M721.9,565.1h0M728.8,561.0h0M731.3,569.7h0M726.4,555.1h0M730.7,563.3h0M719.4,557.5h0M718.3,555.7h0M726.4,556.8h0M716.1,554.1h0M726.3,551.2h0M725.4,560.4h0M715.1,555.4h0M721.8,569.9h0M729.1,551.0h0M728.5,550.2h0M724.3,551.1h0M727.7,549.0h0M727.4,551.6h0M728.7,551.2h0M728.7,549.8h0M726.0,550.1h0M728.3,550.8h0M727.8,552.0h0M608.1,507.1h0M624.0,510.2h0M680.4,556.3h0M680.3,558.5h0M680.7,553.6h0M708.9,586.7h0M696.1,590.6h0M697.0,592.6h0M698.5,593.6h0M711.9,575.0h0M715.3,578.9h0M710.4,586.3h0M710.9,595.5h0M714.1,580.8h0" stroke="#595959" stroke-width="2.4" stroke-linecap="round" fill="none"/>
<path d="M653.6,504.5h0M663.0,504.4h0M661.9,500.5h0M651.2,505.5h0M649.9,503.2h0M649.0,505.4h0M654.0,506.0h0M648.8,506.0h0M653.6,502.6h0M664.3,510.1h0M666.7,508.0h0M660.4,513.8h0M672.7,514.8h0M670.7,511.1h0M667.7,511.6h0M660.4,511.6h0M662.7,509.6h0M666.1,514.5h0M677.8,513.4h0M686.5,524.1h0M687.6,506.5h0M697.4,523.2h0M701.1,522.5h0M683.6,507.3h0M683.4,514.5h0M688.6,510.7h0M685.4,507.7h0M676.3,511.6h0M686.0,510.9h0M679.5,510.2h0M698.3,521.7h0M692.8,522.3h0M690.2,519.1h0M689.5,516.5h0M694.3,522.3h0M695.6,517.8h0M694.8,518.6h0M692.5,523.0h0M720.2,505.3h0M700.8,511.8h0M711.4,519.7h0M722.0,507.9h0M730.4,515.4h0M707.5,506.3h0M713.4,503.4h0M710.1,505.3h0M702.4,512.0h0M719.1,514.8h0M726.9,505.8h0M725.9,502.4h0M736.3,501.9h0M782.4,521.7h0M746.7,521.3h0M778.6,520.5h0M756.9,518.6h0M742.0,516.4h0M731.8,500.5h0M733.6,500.3h0M756.1,516.3h0M778.7,512.8h0M765.0,502.7h0M735.2,508.7h0M745.3,504.9h0M761.0,511.7h0M767.0,501.8h0M764.7,501.0h0M747.5,514.6h0M779.6,509.0h0M776.0,501.3h0M801.3,508.6h0M801.1,501.1h0M806.9,507.9h0M786.3,508.4h0M808.3,507.4h0M813.5,502.9h0M818.0,506.2h0M712.4,533.3h0M740.5,546.0h0M695.7,545.0h0M689.3,531.3h0M723.0,535.2h0M714.3,542.1h0M691.9,531.3h0M691.4,537.1h0M735.8,538.1h0M706.4,532.1h0M720.5,539.8h0M715.5,534.8h0M705.7,537.6h0M735.7,541.0h0M743.7,538.5h0M722.8,529.5h0M754.0,530.1h0M735.3,521.4h0M740.6,526.7h0M746.7,524.6h0M746.4,523.5h0M746.4,527.6h0M748.4,525.7h0M740.5,526.9h0M742.3,526.7h0M746.7,523.3h0M754.2,527.7h0M753.4,532.0h0M793.1,536.2h0M775.8,537.9h0M765.9,529.1h0M796.6,538.0h0M798.8,542.4h0M794.3,540.1h0M754.4,534.1h0M787.1,534.4h0M765.9,527.6h0M775.6,540.1h0M765.0,537.2h0M788.5,539.2h0M777.5,536.5h0M776.8,528.5h0M767.0,528.3h0M765.0,542.4h0M780.8,544.9h0M773.7,535.1h0M763.4,541.5h0M764.1,530.4h0M766.6,527.5h0M780.9,535.5h0M767.5,550.6h0M767.2,549.6h0M768.9,550.0h0M769.4,550.3h0M768.8,551.3h0M768.5,552.4h0M767.5,550.2h0M767.2,549.3h0M768.6,551.0h0M799.0,530.8h0M798.0,527.9h0M794.6,525.4h0M802.7,536.7h0M795.2,531.9h0M786.4,525.3h0M797.7,538.0h0M804.3,552.7h0M800.5,546.7h0M804.5,552.8h0M818.9,553.2h0M810.9,557.3h0M818.7,549.9h0M803.4,537.8h0M817.1,549.9h0M810.9,555.6h0M810.6,556.4h0M815.2,555.6h0M817.0,544.8h0M817.2,550.4h0M814.6,539.7h0M816.1,551.0h0M821.5,552.3h0M818.8,545.9h0M815.9,552.3h0M801.9,539.4h0M817.9,538.4h0M815.4,537.9h0M817.0,539.1h0M813.3,569.5h0M812.1,568.8h0M812.6,569.7h0M813.2,568.7h0M813.0,568.8h0M808.3,572.2h0M809.0,572.4h0M809.5,572.2h0M809.5,572.6h0M813.4,565.2h0M813.0,564.7h0M813.4,564.8h0M447.5,506.7h0M450.2,505.8h0M446.2,507.1h0M447.0,508.4h0M418.5,524.2h0M807.3,527.3h0M811.2,532.1h0M689.7,532.9h0M690.9,532.4h0M690.4,537.8h0M820.1,521.9h0M816.4,516.9h0M814.5,512.8h0" stroke="#FFD500" stroke-width="2.4" stroke-linecap="round" fill="none"/>
<path d="M745.1,584.2h0M751.8,579.8h0M745.0,583.4h0M737.8,584.1h0M743.1,586.1h0M747.1,584.7h0M743.1,588.4h0M748.2,578.5h0M740.0,580.3h0M755.6,580.8h0M739.1,586.2h0M738.0,578.7h0M742.1,592.8h0M747.4,601.9h0M748.8,588.4h0M745.8,579.3h0M746.9,595.1h0M748.5,597.8h0M751.7,583.8h0M748.7,596.2h0M747.1,593.4h0M750.9,585.2h0M738.1,580.6h0M738.8,581.4h0M738.6,582.7h0M748.1,591.6h0M744.4,585.8h0M748.3,590.8h0M744.7,584.5h0M748.5,584.5h0M746.7,577.5h0M751.1,582.1h0M743.3,586.9h0M740.6,583.5h0M751.4,587.1h0M740.9,578.0h0M751.7,569.2h0M749.9,560.9h0M748.2,580.2h0M737.9,569.6h0M745.0,562.0h0M733.2,572.1h0M756.5,578.3h0M737.2,579.9h0M756.3,573.9h0M731.4,572.2h0M737.7,562.0h0M734.0,573.4h0M733.0,566.9h0M732.1,569.7h0M739.8,562.1h0M751.1,571.8h0M728.4,566.8h0M734.6,563.1h0M739.5,577.3h0M740.1,560.0h0M750.3,561.9h0M748.7,578.8h0M736.9,563.4h0M732.1,566.6h0M754.5,569.9h0M741.7,578.8h0M751.5,574.6h0M732.3,573.9h0M739.5,579.2h0M751.6,560.7h0M737.0,562.9h0M739.1,572.8h0M730.1,562.4h0M745.7,570.1h0M749.8,565.8h0M737.0,560.9h0M746.1,570.5h0M748.7,573.7h0M731.8,564.9h0M734.3,562.6h0M734.6,553.6h0M733.3,556.0h0M731.5,549.9h0M728.1,555.2h0M735.5,557.0h0M734.7,551.5h0M729.9,550.2h0M735.0,552.5h0M732.6,554.2h0M733.9,552.0h0M738.8,551.6h0M734.3,555.1h0M733.3,554.1h0M734.2,555.7h0M731.0,555.5h0M725.2,550.3h0M733.6,559.6h0M730.6,557.0h0M727.3,550.9h0M732.5,558.0h0M736.1,551.8h0M735.5,557.6h0M730.6,551.3h0M731.6,550.2h0M730.3,556.2h0M731.4,554.5h0M734.0,555.0h0M730.5,552.6h0M729.2,556.6h0M732.0,552.0h0M737.5,561.9h0M735.1,560.7h0M738.2,559.8h0M739.3,559.9h0M744.4,559.0h0M742.7,562.5h0M738.7,558.4h0M741.7,559.0h0M741.8,560.6h0M740.7,558.0h0M743.2,564.1h0M744.7,562.6h0M743.6,562.5h0M743.4,561.9h0M734.5,559.7h0M738.8,558.4h0M743.8,558.0h0M743.7,561.3h0M742.7,563.8h0M742.3,561.9h0M745.2,559.0h0M738.3,562.4h0M756.9,565.4h0M754.3,565.8h0M746.8,565.5h0M744.9,566.3h0M756.2,569.9h0M749.3,564.8h0M745.3,565.6h0M756.2,567.1h0M749.2,566.4h0M756.3,564.3h0M752.1,566.9h0M748.9,566.6h0M751.3,567.1h0M757.9,567.5h0M749.7,567.1h0M755.1,568.8h0M747.9,565.0h0M752.1,564.0h0M751.2,564.0h0M755.5,566.4h0M753.0,564.8h0M752.8,565.1h0M752.5,564.9h0M749.9,566.7h0M748.8,565.5h0M753.1,562.6h0M755.6,567.1h0M753.0,564.7h0M746.2,566.6h0M752.3,566.1h0M749.0,564.7h0M752.6,564.4h0M750.4,565.8h0M751.0,564.6h0M754.6,566.8h0M743.9,565.1h0M752.1,566.9h0M749.9,568.3h0M745.0,567.8h0M745.2,566.3h0M744.7,565.9h0M751.6,565.3h0M749.0,564.8h0M739.9,565.8h0M745.9,567.2h0M749.1,567.0h0M762.4,573.8h0M764.1,567.1h0M765.2,571.8h0M765.4,566.6h0M765.1,569.8h0M767.8,571.6h0M760.1,567.3h0M766.9,569.0h0M760.3,569.5h0M770.6,572.5h0M766.5,570.8h0M766.1,570.9h0M769.2,565.7h0M762.8,569.6h0M764.9,570.1h0M765.0,572.1h0M764.3,571.0h0M764.3,576.3h0M763.5,567.7h0M761.1,569.8h0M763.4,571.2h0M761.5,574.7h0M765.5,569.3h0M766.8,570.2h0M761.6,567.8h0M769.1,572.6h0M762.0,565.0h0M765.8,567.1h0M764.9,572.7h0M761.2,569.9h0M763.8,570.1h0M767.4,568.1h0M760.8,568.5h0M766.4,572.1h0M759.3,570.4h0M761.1,565.3h0M758.7,561.4h0M766.1,572.3h0M763.7,571.3h0M766.0,567.9h0M766.9,576.5h0M762.4,567.2h0M771.5,570.1h0M763.6,570.8h0M765.4,573.0h0M764.8,568.1h0M766.5,571.3h0M760.4,571.3h0M764.1,572.3h0M763.1,567.4h0M760.4,565.9h0M766.9,570.2h0M758.7,566.6h0M765.0,569.8h0M762.1,568.0h0M760.1,573.4h0M761.1,571.3h0M762.2,570.3h0M764.8,573.2h0M766.9,567.3h0M765.2,564.9h0M764.9,575.5h0M763.7,570.0h0M768.2,572.8h0M766.4,571.8h0M762.3,571.7h0M768.4,570.4h0M763.0,568.9h0M764.7,567.3h0M757.9,567.7h0M764.1,570.6h0M766.1,569.3h0M764.5,566.8h0M759.8,565.1h0M764.8,571.9h0M764.7,566.4h0M763.9,568.4h0M766.7,571.4h0M768.4,572.3h0M759.9,567.5h0M767.5,574.0h0M766.0,572.1h0M761.7,572.9h0M762.4,572.2h0M766.3,565.7h0M764.0,566.2h0M764.9,565.3h0M759.3,569.4h0M763.4,571.0h0M762.5,566.4h0M765.0,569.2h0M765.3,567.0h0M765.3,570.2h0M766.4,568.1h0M763.3,569.5h0M761.2,570.2h0M764.3,567.5h0M759.0,568.4h0M762.9,573.5h0M764.0,570.2h0M764.6,570.1h0M765.0,566.4h0M768.2,567.8h0M759.5,574.3h0M767.0,573.3h0M762.5,567.2h0M767.7,570.1h0M766.1,569.3h0M766.8,575.3h0M767.3,567.9h0M764.4,578.0h0M767.3,579.2h0M765.5,574.2h0M767.1,581.4h0M764.0,574.3h0M760.9,573.6h0M765.7,572.4h0M764.9,576.1h0M767.9,577.4h0M767.1,578.6h0M766.6,574.8h0M762.9,575.5h0M764.3,572.1h0M764.9,576.7h0M766.4,573.9h0M763.4,575.0h0M763.9,576.1h0M762.2,572.9h0M763.0,574.2h0M765.5,578.3h0M760.9,574.1h0M764.2,576.3h0M763.1,573.0h0M761.5,573.8h0M773.5,574.7h0M771.9,577.5h0M763.1,572.0h0M776.9,575.0h0M772.2,572.1h0M773.8,573.5h0M775.4,587.6h0M766.4,579.8h0M778.0,578.7h0M779.1,591.7h0M777.6,598.7h0M765.5,573.1h0M776.5,575.0h0M780.9,594.3h0M775.5,573.3h0M771.7,581.1h0M776.3,592.2h0M776.1,592.8h0M777.4,576.0h0M768.0,573.6h0M773.5,583.7h0M764.6,578.0h0M769.6,584.3h0M773.2,576.4h0M775.4,580.4h0M778.2,595.3h0M773.4,566.9h0M769.5,578.9h0M771.4,579.4h0M764.2,577.3h0M761.5,566.8h0M777.9,590.4h0M763.6,567.9h0M764.8,569.2h0M777.6,577.7h0M775.3,585.1h0M774.7,569.9h0M771.3,579.5h0M768.6,569.6h0M763.9,567.6h0M768.3,594.0h0M772.2,572.0h0M772.1,570.0h0M773.5,580.9h0M770.5,569.5h0M771.7,586.8h0M772.8,567.2h0M779.9,590.5h0M767.8,570.9h0M769.6,582.0h0M764.6,568.7h0M768.5,566.5h0M769.6,575.6h0M772.9,576.0h0M776.6,589.3h0M768.1,576.5h0M774.3,581.0h0M763.2,572.8h0M776.2,590.2h0M763.2,573.5h0M765.6,567.0h0M776.9,580.5h0M770.8,570.5h0M762.1,569.0h0M770.5,585.1h0M777.9,580.8h0M765.6,573.8h0M764.9,571.1h0M774.5,588.4h0M774.5,571.7h0M768.1,582.1h0M776.2,581.6h0M776.3,584.4h0M764.3,576.5h0M774.2,568.3h0M770.3,570.7h0M769.9,574.3h0M778.6,588.4h0M766.7,571.0h0M774.2,575.4h0M769.0,568.9h0M771.9,573.8h0M768.2,568.6h0M774.4,574.4h0M775.2,572.2h0M770.8,570.6h0M768.3,572.3h0M770.9,574.5h0M773.3,564.0h0M774.3,572.2h0M770.3,576.2h0M770.8,568.8h0M774.3,569.8h0M772.8,568.1h0M770.2,571.0h0M771.1,580.0h0M770.0,576.3h0M774.2,574.1h0M774.2,574.5h0M768.3,572.7h0M772.6,580.8h0M772.9,568.3h0M771.4,575.3h0M770.2,579.0h0M774.6,574.3h0M776.1,576.2h0M771.0,570.8h0M770.5,573.9h0M780.3,577.7h0M768.2,569.4h0M770.4,569.6h0M765.8,573.1h0M776.2,576.8h0M771.5,574.8h0M770.9,565.0h0M768.9,573.8h0M773.4,575.2h0M769.7,567.0h0M769.3,567.6h0M767.0,568.9h0M773.7,575.5h0M768.2,574.5h0M771.9,580.9h0M776.4,574.2h0M773.1,575.0h0M768.8,569.3h0M773.1,568.4h0M770.9,570.9h0M775.3,575.8h0M771.1,574.0h0M769.7,571.1h0M772.6,573.8h0M767.3,573.0h0M772.0,574.5h0M769.7,570.1h0M769.8,573.3h0M774.5,571.4h0M769.0,574.0h0M771.8,570.0h0M771.3,570.3h0M780.8,584.2h0M779.8,585.2h0M785.4,596.0h0M784.7,580.1h0M780.6,590.0h0M779.8,588.4h0M786.3,599.4h0M778.6,579.4h0M782.7,574.4h0M786.1,594.9h0M777.2,592.0h0M781.7,590.3h0M779.8,585.5h0M785.0,597.2h0M783.1,592.1h0M779.5,587.6h0M781.3,583.7h0M775.4,581.5h0M783.5,575.1h0M784.7,597.4h0M791.0,597.3h0M778.9,582.8h0M790.9,595.5h0M786.8,590.9h0M783.6,593.7h0M790.9,596.3h0M784.1,581.9h0M778.4,580.9h0M777.2,595.5h0M791.2,597.0h0M789.8,582.4h0M783.9,574.8h0M780.8,575.9h0M777.6,596.2h0M789.4,598.9h0M785.1,594.7h0M774.5,581.0h0M784.8,590.0h0M776.4,583.8h0M785.6,576.1h0M784.8,584.6h0M785.3,597.5h0M785.8,579.2h0M778.5,587.4h0M776.8,575.1h0M778.9,575.4h0M777.3,604.3h0M782.8,588.8h0M777.8,595.4h0M775.7,574.4h0M775.7,581.5h0M783.6,581.6h0M775.2,574.8h0M776.1,575.3h0M785.4,587.7h0M784.9,593.6h0M775.9,580.3h0M775.4,582.8h0M780.0,580.2h0M777.6,574.2h0M786.7,591.6h0M777.0,594.3h0M774.5,579.1h0M787.1,575.2h0M777.6,589.8h0M778.9,603.4h0M775.4,589.4h0M786.1,578.5h0M786.0,588.7h0M779.8,593.7h0M772.7,575.7h0M787.0,596.3h0M788.8,600.1h0M789.9,582.6h0M782.2,590.1h0M782.9,575.4h0M788.8,588.4h0M779.0,583.5h0M781.0,591.2h0M777.2,587.6h0M779.6,593.1h0M777.9,599.8h0M789.2,601.4h0M773.2,574.2h0M783.3,581.5h0M781.9,575.2h0M782.9,585.8h0M776.1,580.0h0M777.9,594.1h0M792.1,594.5h0M779.8,591.6h0M779.0,589.6h0M777.4,602.6h0M785.8,596.3h0M775.7,591.8h0M781.3,579.1h0M782.0,575.0h0M785.1,590.0h0M782.1,591.2h0M784.2,598.1h0M789.4,595.3h0M783.8,575.9h0M789.5,582.7h0M785.4,592.2h0M781.8,574.1h0M788.1,589.4h0M777.0,580.8h0M774.2,576.8h0M775.1,575.4h0M783.3,596.7h0M782.9,573.5h0M782.6,577.1h0M777.0,581.0h0M778.7,579.3h0M773.7,576.7h0M784.6,577.6h0M781.7,579.4h0M779.4,577.9h0M779.6,573.2h0M780.7,580.1h0M779.2,576.7h0M788.5,575.6h0M790.8,581.7h0M781.2,576.5h0M783.7,581.6h0M782.7,580.9h0M786.2,578.9h0M782.1,580.4h0M781.2,573.5h0M781.6,584.2h0M779.2,576.2h0M780.0,576.2h0M781.7,576.2h0M781.3,578.3h0M781.5,575.2h0M778.9,574.5h0M775.9,577.3h0M775.9,584.5h0M781.3,580.4h0M779.4,579.8h0M779.9,580.8h0M782.3,582.1h0M779.3,579.1h0M776.8,570.6h0M792.0,572.1h0M781.3,577.3h0M785.6,574.7h0M780.0,573.6h0M788.0,573.8h0M785.1,580.1h0M785.0,586.1h0M781.9,575.0h0M782.7,576.9h0M778.1,575.3h0M783.1,583.1h0M780.4,579.6h0M781.4,576.0h0M779.9,574.2h0M778.7,579.3h0M784.7,579.5h0M782.6,570.1h0M789.6,561.5h0M798.7,564.8h0M771.2,557.7h0M775.3,563.1h0M781.0,559.7h0M788.8,557.4h0M778.9,571.7h0M794.8,564.1h0M782.2,560.4h0M773.2,559.7h0M789.6,568.1h0M792.0,569.6h0M770.5,557.0h0M786.1,562.0h0M787.2,575.1h0M797.2,566.3h0M783.5,574.2h0M777.4,557.7h0M789.4,559.1h0M776.5,562.9h0M775.4,564.4h0M789.8,556.3h0M773.5,568.6h0M778.3,565.4h0M790.6,563.8h0M794.2,568.8h0M779.1,574.5h0M773.6,556.6h0M795.5,569.8h0M788.6,561.5h0M781.5,558.8h0M791.5,561.2h0M776.4,565.6h0M780.4,556.8h0M798.1,559.0h0M783.6,565.3h0M787.8,561.4h0M796.4,561.8h0M775.1,571.8h0M799.3,561.4h0M785.7,574.9h0M795.6,568.0h0M792.4,570.2h0M783.8,556.6h0M777.5,576.7h0M795.6,558.0h0M772.4,562.4h0M774.8,573.4h0M772.9,559.5h0M780.1,576.4h0M797.3,560.3h0M776.0,571.8h0M786.0,567.3h0M777.4,570.6h0M793.2,558.5h0M794.0,571.3h0M774.7,561.2h0M794.9,576.1h0M785.2,571.4h0M782.0,568.6h0M773.6,558.3h0M784.3,574.7h0M776.6,565.6h0M797.0,569.2h0M780.7,567.5h0M797.3,568.2h0M782.6,560.9h0M794.9,563.1h0M783.5,568.1h0M794.6,572.6h0M788.8,571.0h0M786.5,574.8h0M790.3,575.7h0M784.9,578.0h0M784.9,569.0h0M787.6,567.9h0M783.3,566.3h0M778.2,566.1h0M782.6,571.9h0M779.7,566.9h0M785.3,569.7h0M784.0,571.8h0M781.5,568.0h0M780.4,573.2h0M782.0,565.8h0M790.3,568.2h0M786.6,567.5h0M780.8,562.4h0M780.3,572.8h0M788.2,567.8h0M784.4,570.2h0M784.9,566.7h0M790.1,572.1h0M781.6,566.6h0M794.2,568.7h0M785.9,568.7h0M779.3,569.1h0M785.6,566.5h0M787.2,567.1h0M782.4,568.6h0M777.4,571.2h0M786.7,573.2h0M782.6,568.3h0M778.9,566.5h0M784.0,575.2h0M780.7,569.3h0M790.1,578.0h0M781.2,568.2h0M784.4,567.2h0M785.1,570.2h0M785.2,565.8h0M783.8,565.0h0M790.5,573.0h0M773.0,566.6h0M789.2,569.0h0M780.5,572.2h0M786.2,569.3h0M793.0,565.5h0M782.5,566.1h0M774.9,562.6h0M777.1,561.9h0M771.6,558.4h0M775.6,564.5h0M771.9,561.7h0M776.4,562.8h0M774.8,563.8h0M776.6,571.5h0M770.3,562.2h0M774.4,560.3h0M775.2,568.4h0M778.1,561.4h0M775.3,564.7h0M775.1,569.1h0M769.6,563.0h0M778.2,557.3h0M774.9,560.9h0M773.5,559.5h0M777.4,567.3h0M770.8,563.9h0M772.1,569.1h0M771.8,561.7h0M777.2,560.1h0M775.4,564.9h0M776.7,566.1h0M775.1,561.3h0M771.0,562.6h0M779.1,566.7h0M770.8,561.9h0M774.5,563.5h0M784.2,614.5h0M784.6,610.8h0M782.5,611.3h0M781.0,609.4h0M784.4,610.8h0M784.5,611.1h0M781.4,607.0h0M782.0,610.0h0M784.7,611.3h0M780.5,607.7h0M785.5,613.8h0M783.8,609.8h0M781.4,611.0h0M782.9,609.6h0M782.2,620.4h0M786.2,626.8h0M785.8,629.6h0M784.2,611.4h0M785.8,621.2h0M784.8,628.3h0M783.2,618.7h0M783.9,622.0h0M785.5,614.2h0M781.8,621.8h0M785.8,625.4h0M784.9,612.6h0M782.7,621.2h0M776.4,611.1h0M784.8,615.9h0M783.2,610.0h0M785.4,615.7h0M785.2,623.4h0M782.0,612.7h0M785.6,625.8h0M785.7,622.3h0M783.1,612.4h0M787.9,631.4h0M784.5,619.4h0M780.3,620.7h0M779.1,617.0h0M775.8,612.9h0M780.9,609.6h0M784.4,616.6h0M774.6,611.8h0M781.8,616.6h0M778.9,615.7h0M785.3,629.1h0M786.4,617.4h0M782.3,611.3h0M788.8,632.1h0M796.6,633.9h0M788.9,634.3h0M795.6,634.9h0M788.3,633.4h0M789.4,635.0h0M795.9,636.2h0M794.8,634.6h0M790.1,634.7h0M791.9,633.9h0M788.6,633.5h0M802.7,614.6h0M793.9,617.5h0M801.4,614.2h0M805.5,621.7h0M799.6,625.9h0M797.4,620.1h0M807.5,610.8h0M796.9,622.8h0M803.6,611.2h0M794.8,619.7h0M803.4,627.7h0M801.2,616.7h0M804.8,611.1h0M806.3,609.8h0M800.4,617.2h0M797.3,624.0h0M800.1,618.7h0M802.2,616.7h0M803.0,623.1h0M803.8,612.9h0M803.3,618.1h0M803.6,614.5h0M794.3,618.1h0M798.4,625.8h0M805.7,613.0h0M801.3,617.7h0M804.0,609.6h0M802.3,618.8h0M796.7,625.6h0M797.6,617.0h0M803.7,610.1h0M802.9,611.0h0M798.7,617.9h0M804.5,614.2h0M800.0,619.5h0M804.3,624.4h0M802.7,621.9h0M805.1,622.5h0M796.7,620.7h0M801.9,612.6h0M797.3,618.2h0M799.6,625.9h0M795.7,617.2h0M804.4,627.2h0M802.2,628.4h0M803.9,620.4h0M801.1,619.0h0M803.9,611.5h0M806.5,621.9h0M797.4,617.6h0M809.6,587.1h0M816.6,596.8h0M809.2,584.4h0M806.3,609.9h0M815.9,596.6h0M817.7,607.1h0M813.4,598.9h0M814.1,604.8h0M808.2,584.3h0M813.4,605.8h0M817.8,602.2h0M816.8,605.1h0M809.9,594.5h0M808.0,587.7h0M807.3,609.8h0M806.3,602.7h0M813.8,599.5h0M817.4,603.1h0M809.5,586.5h0M807.7,590.5h0M818.3,603.0h0M807.1,609.3h0M804.7,608.9h0M808.3,584.7h0M817.6,607.5h0M807.8,587.8h0M816.8,597.3h0M809.0,593.7h0M807.5,589.8h0M814.1,594.8h0M809.4,585.7h0M812.9,593.6h0M804.8,607.4h0M815.6,604.0h0M809.7,592.2h0M806.9,586.0h0M807.4,584.2h0M805.4,608.2h0M806.2,609.9h0M816.4,608.3h0M813.3,594.0h0M809.5,587.5h0M814.4,605.0h0M813.7,601.3h0M809.7,594.6h0M808.6,587.4h0M810.7,592.8h0M808.8,590.0h0M806.9,588.4h0M809.6,594.4h0M813.5,599.9h0M816.8,598.0h0M819.2,605.5h0M805.7,609.6h0M806.8,583.8h0M817.0,605.3h0M813.9,605.2h0M806.4,602.5h0M817.8,602.5h0M809.0,592.3h0M816.3,606.4h0M815.4,600.9h0M812.1,597.1h0M807.9,586.3h0M816.4,597.4h0M807.5,586.5h0M809.7,590.4h0M808.7,592.4h0M817.6,607.9h0M812.7,594.0h0M808.5,589.2h0M807.2,588.3h0M808.7,588.6h0M808.2,588.8h0M807.9,586.9h0M809.0,584.3h0M807.2,584.6h0M808.2,587.1h0M807.8,588.5h0M808.5,589.6h0M809.7,587.2h0M809.4,586.6h0M807.4,586.4h0M807.1,586.6h0M809.4,587.6h0M808.0,588.2h0M808.3,586.2h0M807.2,588.4h0M807.6,586.7h0M807.8,587.1h0M808.3,584.3h0M808.5,589.6h0M804.9,571.3h0M804.2,573.7h0M805.0,571.4h0M804.2,570.8h0M804.3,574.9h0M804.5,573.5h0M805.0,575.4h0M805.0,573.0h0M804.7,574.3h0M803.5,572.7h0M804.5,572.4h0M805.3,575.5h0M751.1,606.6h0M751.9,607.3h0M750.2,603.4h0M750.9,605.3h0M768.3,595.5h0M768.4,596.9h0M770.8,606.1h0M740.7,612.1h0M740.5,619.5h0M739.7,604.1h0M774.4,644.7h0M787.8,641.5h0M714.8,660.6h0M711.7,662.1h0M714.0,629.7h0M695.5,643.9h0M698.2,646.1h0M790.4,582.8h0M791.1,583.5h0M790.9,581.8h0M802.3,637.3h0M803.9,637.7h0M698.5,668.1h0M702.6,649.5h0M701.8,657.2h0M703.3,649.6h0M696.4,662.7h0M701.8,649.4h0M702.2,653.6h0M696.6,658.6h0M698.6,652.4h0M702.0,658.5h0M697.6,653.9h0M697.5,653.8h0M696.6,653.6h0M698.8,667.5h0" stroke="#A6CEE3" stroke-width="2.4" stroke-linecap="round" fill="none"/>
<path d="M830.3,663.2h0M793.0,681.6h0M836.9,685.1h0M816.4,676.1h0M813.8,668.5h0M812.7,673.2h0M794.8,676.1h0M835.2,673.8h0M841.8,674.3h0M830.5,690.1h0M825.6,686.6h0M824.4,650.9h0M806.7,666.0h0M811.5,671.8h0M829.2,671.9h0M796.6,675.5h0M831.5,674.8h0M836.8,681.1h0M816.0,655.6h0M829.5,692.8h0M829.9,651.3h0M812.1,661.7h0M825.6,692.5h0M823.5,683.9h0M822.5,657.4h0M818.1,664.2h0M838.1,672.8h0M793.7,675.5h0M816.4,673.0h0M814.0,667.7h0M828.7,686.2h0M832.6,674.6h0M833.4,687.8h0M807.0,668.2h0M825.3,654.6h0M833.2,689.8h0M846.5,672.3h0M831.1,668.9h0M819.5,656.5h0M802.8,671.7h0M823.0,648.9h0M820.1,670.6h0M801.7,663.5h0M819.0,661.2h0M797.9,674.0h0M813.3,682.2h0M805.1,683.0h0M828.2,649.5h0M823.3,663.2h0M830.8,680.7h0M835.9,677.9h0M801.2,670.3h0M832.2,656.1h0M835.0,665.0h0M817.3,684.4h0M832.3,677.2h0M816.6,665.4h0M828.6,692.5h0M844.1,655.3h0M829.3,693.0h0M846.6,666.4h0M822.2,679.1h0M829.8,679.8h0M835.1,677.3h0M819.8,668.5h0M824.6,671.0h0M840.5,666.5h0M824.8,648.3h0M793.4,681.6h0M841.1,683.7h0M803.9,660.3h0M823.3,660.7h0M823.4,654.5h0M833.5,664.6h0M839.8,650.5h0M827.3,670.1h0M831.2,669.6h0M819.5,652.0h0M843.6,662.4h0M813.6,680.2h0M817.2,683.2h0M829.5,645.6h0M828.4,656.2h0M808.3,679.2h0M830.2,651.4h0M810.3,677.5h0M828.8,687.9h0M799.1,676.8h0M805.9,679.5h0M834.9,685.9h0M795.5,669.6h0M837.5,676.7h0M815.5,682.4h0M810.1,661.7h0M827.5,661.3h0M807.2,671.1h0M841.8,657.1h0M809.9,670.9h0M822.1,689.7h0M841.2,650.6h0M835.6,676.7h0M816.5,661.2h0M792.9,674.6h0M844.9,671.9h0M832.8,687.0h0M807.9,677.2h0M836.6,672.2h0M834.8,687.9h0M819.0,652.0h0M825.3,652.1h0M839.7,670.1h0M793.9,677.5h0M815.3,650.5h0M817.3,658.4h0M824.3,647.1h0M837.5,676.2h0M823.0,676.2h0M813.9,678.5h0M827.8,673.9h0M796.8,665.4h0M811.9,654.3h0M830.2,686.2h0M844.2,666.6h0M817.3,655.9h0M811.3,672.4h0M802.8,683.5h0M823.8,652.4h0M835.5,684.0h0M801.8,668.7h0M812.4,655.2h0M816.1,666.0h0M837.8,669.9h0M839.7,657.4h0M838.8,684.2h0M833.1,692.1h0M843.7,671.8h0M835.8,660.6h0M826.9,678.1h0M829.7,686.0h0M803.0,673.7h0M833.4,688.7h0M806.4,661.7h0M830.0,666.7h0M792.1,682.7h0M842.8,681.4h0M818.2,669.4h0M806.2,663.1h0M826.8,650.9h0M830.4,690.9h0M809.4,673.1h0M809.1,681.3h0M799.4,685.8h0M845.4,678.5h0M831.3,684.5h0M827.5,684.7h0M807.7,676.8h0M838.2,669.6h0M842.2,677.9h0M827.4,660.0h0M819.4,674.9h0M800.2,682.6h0M829.1,667.2h0M819.1,670.3h0M840.7,660.9h0M823.1,694.2h0M799.7,683.6h0M811.1,666.5h0M816.8,678.0h0M841.4,645.2h0M812.4,675.9h0M823.2,666.2h0M828.5,682.7h0M805.3,672.0h0M808.3,669.7h0M840.2,656.3h0M837.1,655.4h0M843.0,674.1h0M820.0,670.0h0M842.5,647.3h0M834.9,689.7h0M813.3,661.3h0M837.8,674.9h0M842.2,659.5h0M832.5,677.1h0M796.1,665.6h0M792.3,672.7h0M796.8,684.0h0M809.1,679.2h0M833.3,678.9h0M803.6,664.4h0M826.8,649.1h0M825.5,649.6h0M827.1,648.7h0M824.0,651.7h0M824.2,648.5h0M827.6,645.4h0M824.4,643.8h0M829.1,647.1h0M828.3,651.1h0M827.0,647.6h0M829.5,650.0h0M822.1,647.8h0M822.6,649.6h0M824.5,647.0h0M828.5,651.6h0M827.5,649.9h0M826.6,651.3h0M829.5,647.8h0M825.5,648.3h0M825.0,645.8h0M825.9,648.8h0M822.9,649.1h0M826.9,649.6h0M831.9,645.1h0M823.5,648.2h0M823.5,648.6h0M823.9,650.9h0M821.6,649.6h0M822.4,648.8h0M827.2,646.3h0M830.9,647.3h0M822.3,648.2h0M828.8,651.6h0M824.8,651.9h0M824.0,643.6h0M826.5,649.0h0M830.5,644.7h0M827.3,647.3h0M826.9,646.4h0M832.2,644.7h0M823.1,650.4h0M827.6,645.7h0M828.5,650.5h0M827.3,650.9h0M827.7,643.5h0M828.8,649.0h0M822.6,648.2h0M831.0,644.8h0M823.6,650.9h0M826.8,645.1h0M827.0,650.0h0M822.3,651.1h0M825.2,647.0h0M832.9,645.6h0M827.0,650.2h0M831.9,645.2h0M821.8,652.2h0M825.3,645.6h0M822.1,648.9h0M822.1,649.9h0M841.9,642.6h0M841.6,648.6h0M840.4,652.8h0M839.9,654.4h0M840.5,651.1h0M841.2,652.4h0M843.0,650.6h0M843.6,650.0h0M843.4,636.0h0M842.3,646.8h0M841.8,652.8h0M843.3,638.0h0M838.7,652.3h0M841.4,647.0h0M841.6,648.8h0M838.8,652.2h0M841.5,649.4h0M841.9,647.9h0M841.0,654.1h0M840.0,651.2h0M841.8,646.3h0M839.7,654.0h0M839.5,650.8h0M841.0,648.2h0M841.9,645.6h0M839.2,653.8h0M842.1,647.7h0M842.6,645.6h0M839.4,652.7h0M839.9,649.5h0M842.6,651.7h0M842.5,647.6h0M841.8,646.9h0M841.4,646.5h0M813.9,654.3h0M817.3,652.0h0M820.0,657.6h0M818.0,653.3h0M815.8,654.0h0M813.2,655.3h0M810.9,657.2h0M822.1,648.3h0M819.6,651.5h0M818.0,657.1h0M816.7,653.6h0M812.5,653.4h0M812.4,657.9h0M810.4,655.0h0M817.6,651.3h0M817.3,652.7h0M818.8,654.2h0M816.2,651.0h0M817.9,648.8h0M813.3,655.3h0M814.3,657.5h0M811.6,658.0h0M810.9,657.0h0M819.1,656.5h0M816.9,649.5h0M810.3,654.4h0M819.7,654.2h0M810.3,654.5h0M815.6,654.6h0M811.3,654.0h0M817.9,649.3h0M810.8,657.4h0M815.4,657.5h0M816.5,656.9h0M816.8,654.6h0M815.8,654.2h0M843.3,651.0h0M836.8,657.1h0M840.0,658.7h0M830.8,659.8h0M834.6,660.0h0M842.4,644.5h0M832.3,657.1h0M839.5,655.0h0M843.3,658.2h0M834.0,655.3h0M836.3,655.4h0M832.8,657.4h0M840.3,651.3h0M838.5,658.7h0M839.4,657.5h0M833.9,656.7h0M837.3,654.6h0M839.7,658.0h0M837.7,656.2h0M839.9,656.6h0M838.3,653.6h0M841.1,647.7h0M831.0,659.8h0M831.9,654.5h0M839.4,655.8h0M840.3,647.2h0M836.5,657.0h0M835.9,655.5h0M831.6,656.9h0M830.9,657.6h0M840.3,651.8h0M841.9,655.1h0M840.2,646.4h0M841.7,647.3h0M837.4,655.4h0M840.9,658.4h0M841.1,672.8h0M833.7,676.1h0M833.5,679.5h0M841.1,674.2h0M840.2,670.7h0M829.5,689.8h0M828.6,676.7h0M823.1,689.4h0M823.5,688.0h0M826.0,691.4h0M841.7,675.5h0M843.0,679.1h0M831.9,682.0h0M836.5,681.3h0M834.4,678.6h0M841.9,669.0h0M843.4,672.6h0M847.9,669.4h0M833.2,672.7h0M836.0,682.3h0M828.9,691.2h0M840.5,682.3h0M839.4,678.0h0M834.0,689.4h0M830.3,673.0h0M826.2,692.3h0M828.7,687.0h0M834.8,689.7h0M832.7,681.6h0M832.2,689.7h0M837.9,681.2h0M830.1,688.3h0M839.5,681.2h0M831.3,691.3h0M834.2,673.7h0M834.7,680.7h0M826.7,682.5h0M824.4,683.7h0M832.4,691.4h0M829.1,674.1h0M838.3,684.6h0M824.2,686.4h0M838.0,672.5h0M829.4,675.7h0M843.6,672.9h0M831.5,682.4h0M824.4,684.4h0M825.0,689.8h0M823.7,690.2h0M830.4,679.7h0M837.8,668.0h0M841.9,676.2h0M826.2,685.5h0M834.6,678.7h0M840.0,669.3h0M834.8,669.6h0M835.7,680.4h0M831.8,690.2h0M839.7,671.1h0M827.7,677.5h0M797.1,669.6h0M805.0,667.2h0M802.1,661.5h0M802.8,663.1h0M791.7,680.7h0M791.9,680.0h0M792.8,674.5h0M798.2,670.4h0M795.3,676.8h0M796.0,665.5h0M799.2,666.2h0M805.0,663.3h0M794.2,672.0h0M805.1,660.8h0M801.5,669.1h0M798.9,683.3h0M796.8,672.5h0M789.0,687.0h0M801.3,664.8h0M804.6,665.1h0M790.5,685.8h0M802.3,661.1h0M804.4,668.8h0M795.5,677.0h0M796.3,670.1h0M796.2,683.3h0M796.9,683.7h0M803.4,668.4h0M822.4,699.8h0M822.7,702.2h0M822.4,699.2h0" stroke="#B2DF8A" stroke-width="2.4" stroke-linecap="round" fill="none"/>
<path d="M813.0,626.4h0M813.1,619.1h0M810.2,626.9h0M810.0,622.8h0M812.6,619.3h0M810.7,626.1h0M813.8,627.9h0M814.5,622.4h0M812.2,623.0h0M814.1,622.6h0M810.7,624.7h0M810.2,630.1h0M810.0,628.4h0M811.4,623.8h0M809.8,631.3h0M812.6,622.7h0M809.6,625.7h0M815.8,619.0h0M809.1,626.5h0M812.7,623.7h0M809.7,625.5h0M812.8,627.1h0M809.9,628.5h0M809.1,625.2h0M811.7,619.0h0M810.2,631.3h0M814.5,618.8h0M812.5,625.5h0M809.8,625.7h0M810.2,624.4h0M813.3,623.0h0M811.7,618.0h0M812.7,629.2h0M809.4,631.3h0M810.3,624.8h0M810.5,619.3h0M813.1,623.5h0M811.6,625.6h0M817.3,618.0h0M811.0,618.8h0M813.7,618.9h0M809.4,627.5h0M814.2,618.6h0M815.9,619.5h0M809.1,626.0h0M809.2,627.2h0M814.3,628.1h0M810.3,629.9h0M809.9,626.9h0M812.6,625.7h0M804.6,640.7h0M817.1,641.5h0M812.2,640.6h0M815.7,638.9h0M812.1,637.3h0M813.5,638.9h0M806.3,638.7h0M813.2,637.3h0M815.4,640.7h0M817.4,641.1h0M819.5,636.9h0M809.3,640.4h0M811.1,640.4h0M806.2,640.9h0M820.0,639.4h0M805.5,641.0h0M804.9,640.4h0M815.2,639.4h0M819.9,638.0h0M820.4,637.2h0M813.2,640.3h0M817.8,637.3h0M809.4,637.7h0M808.4,639.9h0M811.6,639.9h0M815.9,637.9h0M813.0,638.8h0M811.1,637.4h0M811.8,639.4h0M819.1,639.8h0M805.3,641.4h0M812.7,637.8h0M806.7,640.8h0M820.1,639.0h0M807.7,638.0h0M813.7,640.4h0M813.8,637.5h0M816.8,638.1h0M820.3,636.7h0M809.3,638.1h0M808.9,638.5h0M820.0,636.8h0M807.7,639.3h0M820.2,639.4h0M808.0,638.9h0M808.8,641.5h0M807.9,638.8h0M817.7,639.9h0M807.9,638.6h0M819.4,639.2h0M812.3,637.2h0M814.5,637.6h0M812.4,638.7h0M812.7,637.5h0M808.9,638.7h0M809.9,638.2h0M811.0,638.4h0M811.4,637.9h0M812.3,638.1h0M814.0,637.1h0M810.8,637.7h0M816.3,637.8h0M813.2,637.9h0M807.9,638.0h0M813.5,636.5h0M809.5,637.5h0M812.9,638.2h0M812.8,637.6h0M812.3,637.2h0M815.1,637.1h0M831.1,632.6h0M831.2,623.5h0M831.2,624.3h0M829.2,623.7h0M817.3,618.3h0M830.3,626.6h0M829.3,627.9h0M828.7,621.6h0M829.8,621.9h0M822.9,615.7h0M828.2,622.8h0M829.5,631.2h0M828.6,624.0h0M827.4,622.5h0M817.1,618.7h0M819.2,636.0h0M825.4,626.7h0M829.0,622.5h0M829.3,622.0h0M827.2,623.3h0M831.1,625.4h0M829.3,627.2h0M830.1,623.4h0M828.2,624.2h0M820.0,637.4h0M831.3,628.2h0M829.3,623.3h0M830.7,625.4h0M829.5,627.0h0M821.6,616.8h0M822.1,620.6h0M831.3,633.8h0M828.1,623.6h0M832.3,627.4h0M831.1,623.0h0M817.7,618.0h0M824.1,626.2h0M831.7,628.6h0M820.4,627.1h0M827.5,623.3h0M820.2,627.3h0M830.1,627.5h0M822.7,618.7h0M830.4,628.0h0M820.6,628.2h0M830.2,626.1h0M818.5,624.2h0M826.2,620.9h0M828.6,626.3h0M831.0,623.8h0M823.0,626.7h0M822.0,624.1h0M822.1,627.6h0M822.8,626.7h0M822.0,626.7h0M823.5,626.2h0M821.9,625.2h0M820.3,627.5h0M822.4,627.8h0M825.7,625.4h0M826.4,627.4h0M822.0,627.1h0M823.6,627.4h0M823.2,626.4h0M829.3,628.5h0M834.4,628.8h0M836.6,624.9h0M835.0,624.1h0M846.9,631.0h0M836.4,628.2h0M831.5,633.4h0M837.3,626.0h0M836.8,630.5h0M842.0,630.3h0M839.6,631.1h0M841.3,631.8h0M833.6,627.4h0M834.3,629.3h0M838.7,630.6h0M838.3,629.7h0M836.9,630.8h0M845.1,632.3h0M836.5,628.4h0M828.1,624.2h0M831.0,622.4h0M839.6,631.3h0M849.7,634.1h0M836.6,626.1h0M839.7,625.5h0M841.0,637.5h0M838.2,628.1h0M843.8,633.9h0M829.0,626.5h0M844.8,631.5h0M843.2,626.9h0M853.9,639.0h0M845.6,633.9h0M842.5,627.4h0M842.5,627.7h0M847.8,632.7h0M842.7,629.3h0M837.0,637.1h0M850.4,638.2h0M827.4,622.7h0M839.8,630.5h0M854.3,632.8h0M854.4,632.4h0M828.7,626.5h0M830.8,625.0h0M839.1,635.2h0M834.5,624.3h0M844.5,636.2h0M841.3,630.8h0M842.9,626.6h0M845.5,633.2h0M847.6,634.0h0M829.5,623.6h0M838.5,627.8h0M848.2,634.6h0M847.5,633.3h0M835.9,627.3h0M831.2,627.8h0M829.3,624.9h0M842.7,629.1h0M844.6,630.1h0M838.0,630.5h0M842.7,635.9h0M845.6,628.4h0M831.0,628.1h0M838.9,625.7h0M838.6,635.3h0M839.7,628.3h0M845.0,630.2h0M848.5,634.8h0M850.6,637.5h0M844.4,629.1h0M844.0,630.0h0M844.7,632.2h0M850.7,624.7h0M843.4,629.1h0M839.5,627.2h0M841.5,630.8h0M849.0,637.2h0M850.3,637.0h0M828.2,626.1h0M837.3,625.8h0M826.8,622.9h0M830.1,627.2h0M849.6,636.1h0M843.0,633.1h0M839.7,633.8h0M850.0,635.3h0M838.5,633.1h0M843.9,628.2h0M850.1,637.9h0M844.1,630.7h0M838.5,634.3h0M839.2,625.2h0M849.0,631.6h0M849.5,639.5h0M826.8,622.8h0M830.8,627.9h0M845.8,628.0h0M839.7,637.3h0M835.5,626.5h0M833.4,627.9h0M833.2,628.2h0M838.5,632.4h0M834.4,625.7h0M836.5,624.2h0M838.6,628.8h0M841.2,638.6h0M849.8,635.5h0M849.3,633.9h0M847.9,635.2h0M834.0,626.4h0M838.6,636.4h0M842.5,626.8h0M851.1,640.2h0M836.0,630.4h0M847.3,630.2h0M828.6,621.9h0M836.8,623.5h0M841.6,637.0h0M843.7,638.1h0M835.6,626.8h0M842.0,633.4h0M837.2,627.5h0M842.0,637.7h0M848.9,632.4h0M845.3,628.3h0M837.5,633.2h0M835.9,630.5h0M843.3,633.1h0M831.1,622.8h0M847.0,635.4h0M839.1,633.6h0M844.0,635.0h0M842.6,630.7h0M836.4,636.4h0M840.1,638.0h0M826.8,635.7h0M839.9,637.5h0M842.2,631.5h0M841.0,637.5h0M838.0,635.8h0M848.2,633.0h0M829.8,625.8h0M842.2,637.2h0M840.4,629.4h0M836.5,625.7h0M841.9,634.4h0M846.8,632.8h0M839.4,630.2h0M839.9,628.0h0M843.3,627.3h0M844.3,632.9h0M836.2,626.8h0M831.2,625.2h0M835.2,629.6h0M847.5,629.5h0M830.6,627.2h0M853.4,640.7h0M845.5,632.5h0M840.6,635.9h0M830.4,627.8h0M841.0,631.7h0M842.8,632.8h0M835.0,629.9h0M842.2,626.7h0M829.1,622.8h0M855.9,632.5h0M842.7,632.2h0M844.5,631.8h0M850.7,637.3h0M836.7,631.2h0M833.9,627.8h0M835.2,628.4h0M837.5,630.8h0M831.0,622.2h0M840.8,627.4h0M834.2,629.2h0M830.9,627.1h0M837.3,636.9h0M846.9,634.4h0M840.2,634.8h0M829.9,625.8h0M846.4,634.9h0M843.1,631.2h0M839.5,629.8h0M841.9,628.4h0M848.6,633.9h0M836.9,635.7h0M845.8,635.4h0M848.9,632.6h0M838.8,631.3h0M839.0,626.5h0M840.4,625.8h0M833.2,628.4h0M839.3,631.6h0M834.5,624.2h0M839.0,631.3h0M829.8,627.4h0M855.8,631.6h0M837.0,636.6h0M839.3,630.6h0M838.3,630.4h0M837.8,635.2h0M834.3,628.3h0M829.3,626.3h0M843.4,629.3h0M842.8,637.9h0M841.6,631.9h0M843.7,632.7h0M843.3,632.7h0M844.8,632.7h0M831.5,626.6h0M842.2,633.7h0M847.8,631.9h0M845.3,635.4h0M835.5,626.9h0M846.8,635.6h0M839.7,626.2h0M845.2,631.1h0M845.7,633.5h0M842.6,635.9h0M839.4,636.5h0M849.9,637.4h0M841.4,632.7h0M841.1,628.0h0M841.8,638.8h0M837.4,631.8h0M837.7,628.8h0M838.3,632.0h0M831.6,628.4h0M838.8,631.6h0M829.3,622.6h0M850.2,636.9h0M838.3,635.5h0M853.4,632.3h0M831.2,622.6h0M834.5,629.5h0M844.2,629.6h0M844.2,635.9h0M847.6,635.4h0M844.3,633.6h0M839.1,636.1h0M836.9,627.7h0M836.2,629.1h0M843.7,627.0h0M843.2,634.2h0M829.6,622.3h0M839.3,632.4h0M842.2,638.8h0M845.4,628.0h0M837.3,630.2h0M847.5,635.2h0M836.6,636.2h0M841.4,631.6h0M846.8,631.4h0M841.6,632.0h0M849.4,632.6h0M849.2,632.3h0M836.9,630.3h0M834.2,629.7h0M841.0,637.3h0M841.3,636.9h0M848.1,631.6h0M835.0,624.1h0M836.4,630.0h0M842.3,637.8h0M854.3,632.2h0M843.1,630.5h0M849.1,637.7h0M841.0,632.4h0M844.0,630.9h0M830.2,622.6h0M844.3,635.7h0M839.5,637.0h0M841.7,631.1h0M853.2,640.9h0M835.8,630.1h0M828.5,621.4h0M837.6,626.1h0M850.2,632.8h0M852.9,640.3h0M843.8,634.9h0M840.5,629.4h0M843.2,628.3h0M847.5,630.1h0M830.7,627.7h0M844.8,632.6h0M843.1,633.4h0M839.5,634.2h0M829.1,623.2h0M852.3,640.3h0M842.6,626.7h0M850.3,637.6h0M850.3,637.3h0M838.3,629.5h0M828.4,623.3h0M837.5,635.1h0M835.9,627.2h0M842.7,631.5h0M838.3,629.8h0M854.0,641.4h0M841.8,631.1h0M841.0,632.8h0M838.9,631.9h0M844.9,630.7h0M850.3,637.6h0M832.0,627.6h0M837.0,626.7h0M836.4,629.0h0M839.2,628.2h0M853.4,641.2h0M853.5,632.8h0M847.6,630.6h0M840.7,629.0h0M837.7,636.0h0M848.8,636.2h0M843.8,627.3h0M840.5,628.2h0M838.3,635.1h0M829.6,628.1h0M854.2,632.9h0M849.8,638.3h0M850.2,636.2h0M830.2,627.2h0M841.5,632.0h0M847.9,634.4h0M831.1,633.6h0M836.1,624.3h0M838.5,625.6h0M835.3,629.6h0M848.8,632.5h0M840.4,626.8h0M849.4,632.9h0M847.5,631.9h0M847.9,634.8h0M836.4,625.1h0M834.0,629.2h0M840.3,625.7h0M844.7,631.4h0M844.0,630.7h0M829.4,624.5h0M841.2,629.9h0M840.9,629.3h0M843.2,636.4h0M839.8,631.1h0M828.9,624.7h0M837.7,635.0h0M845.1,630.5h0M851.5,639.6h0M830.3,623.8h0M843.0,630.0h0M841.0,630.5h0M845.8,629.5h0M841.4,627.5h0M855.9,631.8h0M836.7,635.7h0M839.3,636.3h0M845.9,634.8h0M850.3,632.8h0M838.9,630.6h0M831.0,623.3h0M835.9,630.6h0M837.9,629.8h0M847.2,635.3h0M841.6,636.7h0M838.8,624.7h0M851.7,639.1h0M850.5,632.6h0M844.1,632.1h0M849.1,631.9h0M840.4,630.8h0M844.3,633.1h0M850.1,624.5h0M841.5,629.3h0M829.6,628.5h0M835.5,628.9h0M843.2,634.4h0M839.4,631.7h0M843.4,628.1h0M844.8,636.0h0M831.3,625.1h0M839.3,632.5h0M847.6,636.0h0M844.7,630.5h0M855.2,632.4h0M839.0,627.0h0M834.9,629.8h0M841.8,638.8h0M836.4,629.6h0M842.7,629.7h0M842.1,626.6h0M850.9,637.2h0M839.7,630.5h0M849.0,633.7h0M841.6,632.5h0M843.8,637.8h0M838.4,634.3h0M845.2,633.8h0M843.2,635.1h0M840.7,635.4h0M840.3,634.7h0M830.5,623.8h0M828.8,624.5h0M847.7,632.9h0M842.8,629.6h0M841.5,636.5h0M849.9,632.9h0M840.9,629.5h0M845.6,630.9h0M847.7,633.7h0M837.2,624.9h0M830.0,626.6h0M829.4,623.5h0M839.3,632.7h0M836.7,624.0h0M843.2,636.9h0M840.2,627.9h0M849.9,635.3h0M852.6,632.4h0M844.3,631.9h0M838.4,632.2h0M839.3,627.5h0M847.8,635.1h0M854.0,641.0h0M844.2,633.7h0M836.3,629.0h0M843.2,629.3h0M849.5,632.8h0M843.4,638.4h0M852.8,632.1h0M851.3,631.7h0M845.5,632.3h0M847.2,634.2h0M842.5,630.7h0M842.1,629.4h0M859.0,629.3h0M844.5,631.2h0M845.0,635.3h0M837.4,628.5h0M837.8,630.7h0M842.9,629.7h0M843.8,629.6h0M845.3,632.3h0M837.0,630.6h0M842.9,629.6h0M843.2,629.2h0M841.0,632.6h0M837.6,631.1h0M841.8,630.4h0M842.4,628.8h0M842.2,632.9h0M847.3,634.8h0M844.3,632.1h0M843.2,633.8h0M847.2,631.2h0M842.8,631.6h0M843.6,632.8h0M849.5,633.8h0M842.7,630.4h0M840.7,627.6h0M848.0,631.1h0M841.9,635.5h0M843.4,631.3h0M843.9,631.8h0M845.5,628.5h0M848.0,633.9h0M845.7,629.3h0M846.9,631.3h0M838.8,632.4h0M847.2,631.9h0M854.3,632.0h0M844.5,633.9h0M842.8,628.8h0M844.1,632.1h0M843.0,631.6h0M835.0,629.7h0M844.4,631.5h0M839.5,630.2h0M843.8,628.2h0M845.2,633.1h0M838.7,633.3h0M842.9,633.9h0M847.8,630.8h0M843.3,629.1h0M844.3,635.3h0M845.7,629.3h0M847.5,629.9h0M843.9,633.6h0M842.7,627.9h0M849.0,632.5h0M843.3,632.3h0M841.0,631.5h0M836.3,628.8h0M844.8,627.4h0M842.1,630.6h0M844.4,631.9h0M841.9,628.8h0M839.5,631.7h0M844.6,634.7h0M839.6,629.4h0M842.6,629.2h0M834.6,628.5h0M842.0,630.1h0M842.9,631.8h0M842.0,632.1h0M848.0,632.5h0M840.6,634.0h0M840.3,631.7h0M845.0,635.3h0M848.8,633.4h0M843.0,629.3h0M842.1,629.8h0M846.2,630.3h0M839.4,631.7h0M842.9,633.5h0M840.5,632.0h0M839.2,631.2h0M843.8,631.4h0M846.5,629.5h0M845.2,635.2h0M847.2,630.6h0M841.2,629.8h0M837.9,629.9h0M846.0,629.1h0M845.6,630.8h0M844.0,632.6h0M843.5,632.9h0M838.9,636.4h0M840.0,632.7h0M839.1,628.8h0M844.0,629.1h0M842.8,627.0h0M843.8,629.3h0M843.9,633.0h0M841.4,634.6h0M839.4,632.8h0M841.2,628.5h0M857.8,629.9h0M842.9,630.5h0M836.4,629.0h0M842.0,632.8h0M846.9,630.9h0M839.8,632.3h0M841.0,628.6h0M838.8,632.2h0M850.2,633.8h0M849.5,634.9h0M847.4,629.5h0M847.1,629.9h0M849.5,633.0h0M837.7,628.5h0M841.8,632.9h0M844.9,633.8h0M843.5,631.5h0M841.8,629.9h0M848.5,637.7h0M837.6,628.7h0M840.8,634.4h0M842.1,631.1h0M842.2,631.8h0M838.1,629.1h0M839.2,632.7h0M840.1,627.6h0M842.2,626.1h0M842.2,627.9h0M846.0,630.9h0M849.1,632.5h0M847.5,630.2h0M845.1,632.1h0M840.6,632.8h0M837.9,635.0h0M846.7,634.7h0M841.8,629.7h0M838.5,631.3h0M839.4,631.9h0M846.7,630.3h0M837.7,636.2h0M846.1,630.4h0M848.2,633.8h0M844.9,631.1h0M840.2,628.3h0M843.3,627.3h0M849.7,633.8h0M839.1,630.3h0M844.1,628.2h0M842.2,630.0h0M846.4,632.4h0M843.7,631.3h0M847.7,631.8h0M848.5,636.9h0M843.3,634.1h0M839.9,630.2h0M837.9,625.5h0M838.7,630.2h0M840.2,630.3h0M847.2,629.7h0M841.3,635.6h0M841.7,632.7h0M841.6,634.1h0M843.4,631.6h0M839.8,633.6h0M837.4,628.0h0M843.8,632.3h0M844.6,632.0h0M845.8,634.9h0M845.2,629.2h0M843.1,632.6h0M847.0,631.1h0M842.1,632.1h0M847.3,633.3h0M842.5,630.6h0M839.9,633.9h0M844.1,633.9h0M844.9,629.5h0M840.2,633.6h0M841.9,629.4h0M845.3,628.6h0M848.9,631.4h0M846.6,631.5h0M849.4,632.1h0M849.6,636.2h0M847.2,632.4h0M849.0,634.0h0M846.2,631.7h0M846.4,632.1h0M849.2,632.1h0M846.4,631.5h0M845.9,629.1h0M846.9,633.7h0M844.1,634.0h0M848.8,631.6h0M849.0,632.6h0M847.5,631.5h0M845.1,635.9h0M848.7,633.1h0M849.2,634.2h0M846.3,631.2h0M849.1,631.8h0M847.8,634.7h0M850.9,633.2h0M845.8,631.4h0M849.2,633.2h0M849.0,634.8h0M845.2,630.8h0M848.3,633.1h0M847.3,635.9h0M844.5,636.0h0M848.9,631.5h0M848.0,634.0h0M848.3,636.5h0M846.0,631.7h0M845.8,634.5h0M847.6,632.6h0M846.7,632.7h0M848.0,631.7h0M844.3,631.9h0M847.3,633.9h0M849.0,634.5h0M844.8,633.5h0M848.2,634.4h0M845.8,631.6h0M846.2,634.2h0M846.6,632.8h0M847.8,635.4h0M848.1,635.6h0M847.9,632.8h0M848.1,633.7h0M844.4,629.1h0M848.9,631.9h0M848.5,632.0h0M844.2,631.6h0M848.1,632.1h0M846.1,632.7h0M848.1,633.4h0M850.2,632.8h0M848.7,632.4h0M847.4,631.8h0M842.0,633.2h0M848.8,635.2h0M841.5,636.5h0M849.1,633.3h0M847.8,635.9h0M847.7,630.7h0M846.8,630.8h0M847.9,632.9h0M845.5,635.1h0M849.2,634.2h0M846.9,633.9h0M847.7,635.3h0M847.3,633.3h0M845.0,629.7h0M848.5,631.9h0M849.3,632.0h0M848.4,633.0h0M848.4,632.3h0M849.5,632.7h0M848.2,634.4h0M845.2,632.2h0M850.0,633.6h0M844.3,630.2h0M840.3,627.5h0M842.0,628.9h0M840.3,625.7h0M840.8,628.4h0M841.2,625.9h0M836.9,626.9h0M839.5,626.8h0M841.3,626.5h0M842.7,626.4h0M840.9,626.1h0M841.0,628.5h0M841.5,626.3h0M842.3,630.7h0M837.3,628.9h0M837.9,624.2h0M841.5,627.9h0M840.0,629.2h0M843.9,628.3h0M842.7,629.6h0M839.3,625.5h0M839.8,628.3h0M841.7,629.1h0M839.1,628.9h0M841.2,626.4h0M842.6,627.9h0M839.7,626.7h0M841.3,628.8h0M840.6,629.1h0M842.1,626.1h0M842.6,628.8h0M844.5,627.5h0M841.9,626.2h0M839.5,627.2h0M842.0,629.0h0M836.9,627.7h0M843.2,628.3h0M844.4,627.8h0M842.2,628.2h0M842.2,626.8h0M838.7,628.0h0M838.0,628.6h0M842.2,626.2h0M840.4,626.2h0M838.2,625.2h0M843.9,628.4h0M841.1,630.2h0M839.6,625.5h0M840.2,627.6h0M844.4,629.4h0M850.9,637.3h0M851.2,638.5h0M849.8,637.5h0M850.4,639.5h0M850.8,638.3h0M851.4,639.6h0M850.1,638.5h0M850.0,638.6h0M849.9,638.4h0M850.0,639.4h0M851.3,638.5h0M850.8,638.6h0M852.2,639.1h0M849.9,637.3h0M850.3,637.5h0M850.0,638.3h0M850.6,637.0h0M851.0,639.8h0M851.0,638.8h0M851.4,639.8h0M850.4,639.3h0M851.5,639.1h0M851.4,639.4h0M852.0,638.5h0M816.8,637.6h0M817.0,638.2h0M816.2,639.2h0M818.3,635.3h0M815.4,637.4h0M814.7,636.6h0M819.9,636.8h0M817.6,636.9h0M814.2,638.7h0M815.5,637.3h0M817.6,637.5h0M816.8,638.3h0M817.6,637.5h0M816.6,637.0h0M815.2,638.9h0M818.5,637.0h0M815.2,637.1h0M813.9,636.9h0M818.7,636.9h0M816.4,637.1h0M819.7,638.3h0M816.5,637.3h0M820.2,637.7h0M817.1,637.5h0M816.4,637.2h0M816.3,636.8h0M822.5,619.2h0M822.3,617.1h0M823.1,620.8h0M822.0,621.4h0M822.6,618.4h0M823.0,619.2h0M821.6,618.9h0M821.5,615.4h0M823.6,617.8h0M823.2,621.8h0M820.7,620.8h0M822.2,617.2h0M821.4,621.0h0M822.3,618.2h0M822.7,619.0h0M823.0,619.0h0M818.9,637.6h0M821.5,636.4h0M819.4,635.7h0M819.2,636.6h0M815.2,637.7h0M817.9,636.6h0M819.4,636.5h0M819.1,637.3h0M826.9,635.4h0M826.2,635.6h0M825.9,636.6h0M827.4,635.8h0M825.5,636.7h0M830.8,634.2h0M830.8,632.2h0M832.1,633.1h0M831.1,633.3h0M857.5,631.8h0M858.3,631.9h0M855.7,632.3h0M855.2,631.6h0M859.9,630.9h0M856.8,632.4h0M853.3,632.5h0M855.4,631.1h0M854.9,632.8h0M854.6,631.4h0M855.4,631.2h0M855.5,631.7h0M855.6,631.9h0M851.7,632.0h0M855.4,630.5h0M856.9,630.3h0M853.1,630.5h0M854.3,631.5h0M851.3,631.5h0M857.2,631.4h0M853.0,632.8h0M856.5,631.6h0M856.5,630.4h0M857.4,629.6h0M854.9,632.4h0M856.0,631.4h0M857.8,627.4h0M856.7,625.8h0M857.8,627.6h0M856.6,627.6h0M856.3,629.1h0M858.2,628.8h0M856.9,626.4h0M856.7,628.0h0M858.1,627.3h0M858.3,628.8h0M857.1,627.0h0M857.1,629.8h0M856.7,629.7h0M854.5,629.4h0M858.4,625.9h0M856.8,627.7h0M850.0,624.9h0M850.7,624.5h0M851.5,624.9h0M850.9,624.9h0M851.1,624.7h0M855.3,640.8h0M854.2,639.6h0M853.9,639.7h0M855.5,641.0h0M854.6,638.1h0M855.5,639.4h0M855.4,640.2h0M853.9,639.0h0M854.5,640.4h0M855.5,639.8h0M855.5,639.7h0M854.8,640.2h0M861.4,632.3h0M862.8,630.4h0M861.0,633.7h0M862.2,633.4h0M861.9,630.9h0M861.5,634.7h0M862.6,632.1h0M861.5,633.4h0M862.5,633.6h0M862.2,631.2h0M862.1,631.9h0M863.6,630.7h0M862.3,633.0h0M861.2,632.3h0M862.5,630.2h0M863.0,631.6h0M861.8,633.1h0M862.2,631.6h0M864.2,635.7h0M863.6,634.4h0M864.5,637.2h0M863.1,637.7h0M865.1,637.7h0M863.0,635.5h0M865.6,634.2h0M864.5,635.9h0M865.2,634.8h0M864.0,635.3h0M868.7,637.7h0M866.7,637.5h0M865.9,636.9h0M866.4,638.5h0M865.2,635.2h0M865.3,635.4h0M869.2,636.6h0M868.2,638.3h0M868.3,640.2h0M867.6,639.9h0M867.9,640.2h0M869.2,639.6h0M868.7,640.0h0M869.6,639.8h0M868.4,639.8h0M868.5,639.4h0M869.0,639.1h0M867.9,639.3h0M868.9,639.0h0M868.8,639.8h0M870.1,638.8h0M870.1,639.1h0M869.3,638.6h0M869.6,639.4h0M869.5,640.6h0M870.3,638.3h0M869.2,636.2h0M869.8,637.3h0M869.7,638.6h0M868.7,639.6h0M870.4,641.0h0M870.1,642.0h0M870.6,641.1h0M870.3,641.1h0M869.9,641.7h0M871.7,641.3h0M876.9,642.5h0M877.1,641.9h0M876.8,641.5h0M876.2,641.6h0M877.5,641.6h0M876.1,653.0h0M875.4,653.4h0M877.1,652.3h0M876.7,652.5h0M875.9,650.8h0M876.1,651.1h0M876.8,653.0h0M875.9,654.4h0M875.8,652.7h0M876.9,649.8h0M876.1,652.3h0M876.5,649.8h0M876.3,650.2h0M877.3,651.4h0M876.8,651.5h0M876.1,653.0h0M877.4,651.9h0M876.5,649.6h0M876.4,651.6h0M877.2,647.2h0M875.0,655.1h0M878.7,646.9h0M876.1,650.5h0M876.9,650.0h0M877.3,650.1h0M877.1,652.9h0M877.5,648.6h0M875.4,652.3h0M876.8,649.9h0M876.5,654.1h0M875.9,649.9h0M875.7,650.0h0M877.0,649.4h0M877.5,647.9h0M877.4,649.4h0M876.3,650.5h0M877.2,650.2h0M876.3,652.3h0M876.2,650.0h0M877.6,650.4h0M876.2,652.4h0M876.4,649.7h0M876.5,653.2h0M876.5,648.9h0M876.8,654.0h0M876.8,654.9h0M878.0,652.6h0M877.5,652.6h0M876.4,655.4h0M876.8,652.3h0M876.7,653.6h0M876.8,653.3h0M877.3,650.7h0M877.4,652.5h0M878.2,650.9h0M877.1,653.4h0M876.4,655.5h0M877.2,654.8h0M876.2,653.9h0M877.2,653.9h0M877.8,653.4h0M877.3,653.1h0M877.3,653.4h0M878.1,652.2h0M877.2,655.7h0M876.7,655.6h0M877.0,655.3h0M876.4,656.3h0M876.8,655.6h0M877.1,655.5h0M876.7,658.7h0M876.2,661.0h0M877.0,658.5h0M876.6,659.3h0M877.4,659.3h0M876.7,659.3h0M877.7,657.4h0M877.5,658.6h0M877.4,648.3h0M878.0,646.9h0M877.8,647.5h0M877.5,648.5h0M877.4,648.3h0M878.0,648.3h0M871.0,661.9h0M868.1,661.9h0M870.6,660.0h0M871.5,661.1h0M869.7,664.0h0M870.6,663.5h0M870.2,664.5h0M871.2,663.5h0M869.7,663.0h0M869.7,662.5h0M868.2,663.6h0M871.2,662.4h0M869.6,664.8h0M868.2,663.2h0M869.1,661.9h0M870.5,663.1h0M871.4,662.1h0M869.8,663.6h0M869.2,662.3h0M870.5,662.4h0M869.3,662.8h0M868.4,662.5h0M869.8,663.1h0M869.7,662.5h0M870.5,661.5h0M870.4,663.8h0M868.0,664.9h0M870.6,661.3h0M871.9,661.2h0M870.5,663.8h0M872.9,661.8h0M871.9,663.0h0M872.7,662.4h0M872.1,663.1h0M890.6,655.9h0M893.1,653.5h0M890.5,655.3h0M891.3,656.5h0M894.2,653.0h0M892.9,645.5h0M818.4,613.5h0M820.2,612.1h0M818.3,615.1h0M826.9,614.5h0M828.1,609.9h0M831.1,605.7h0M831.2,605.3h0M835.4,603.9h0M835.9,601.5h0M838.2,600.5h0M839.4,600.9h0M844.4,593.8h0M844.7,592.2h0M845.0,590.2h0M845.1,605.7h0M848.5,605.5h0M849.7,605.7h0M852.9,605.7h0M854.1,603.3h0M856.8,605.7h0M858.2,606.5h0M860.0,609.5h0M861.9,612.9h0M862.4,618.5h0M866.4,606.7h0M868.8,607.1h0M870.3,608.1h0M873.9,609.9h0M885.6,606.3h0M880.3,602.5h0M883.4,608.5h0M880.2,621.5h0M889.2,617.7h0M890.7,621.5h0M888.9,614.3h0M897.1,637.5h0M892.9,633.1h0M896.6,635.5h0M867.6,643.7h0M882.3,643.9h0M880.2,645.1h0M866.8,692.8h0M379.2,648.0h0M379.4,647.6h0M381.4,649.0h0M379.3,662.3h0M379.2,657.5h0M372.8,647.0h0M370.5,649.0h0M377.5,638.9h0M385.4,658.2h0M401.5,662.5h0M398.0,638.5h0M393.9,641.3h0M414.1,655.5h0M410.7,653.7h0M424.5,638.5h0M426.2,640.1h0M420.4,654.3h0M427.7,657.3h0M438.5,666.2h0M417.9,666.7h0M428.7,674.7h0M477.5,673.8h0M406.7,581.4h0" stroke="#FB6496" stroke-width="2.4" stroke-linecap="round" fill="none"/>
</g>
<circle cx="428" cy="746.1" r="4.4" fill="#2176C7"/><text x="443.2" y="750.7" class="t138">W N America</text>
<circle cx="428" cy="768.6" r="4.4" fill="#FF0D1A"/><text x="443.2" y="773.2" class="t138">E N America</text>
<circle cx="428" cy="791" r="4.4" fill="#339933"/><text x="443.2" y="795.6" class="t138">C America</text>
<circle cx="538.5" cy="746.1" r="4.4" fill="#6633BB"/><text x="553.2" y="750.7" class="t138">S America</text>
<circle cx="538.5" cy="768.6" r="4.4" fill="#FF8000"/><text x="553.2" y="773.2" class="t138">Africa</text>
<circle cx="538.5" cy="791" r="4.4" fill="#595959"/><text x="553.2" y="795.6" class="t138">W and SW Eurasia</text>
<circle cx="684" cy="746.1" r="4.4" fill="#FFD500"/><text x="698" y="750.7" class="t138">N–C Asia</text>
<circle cx="684" cy="768.6" r="4.4" fill="#A6CEE3"/><text x="698" y="773.2" class="t138">S/SE Asia</text>
<circle cx="684" cy="791" r="4.4" fill="#FB6496"/><text x="698" y="795.6" class="t138">New Guinea and Oceania</text>
<circle cx="787.5" cy="768.6" r="4.4" fill="#B2DF8A"/><text x="801.5" y="773.2" class="t138">Australia</text>
</g>
</svg></body></html>
